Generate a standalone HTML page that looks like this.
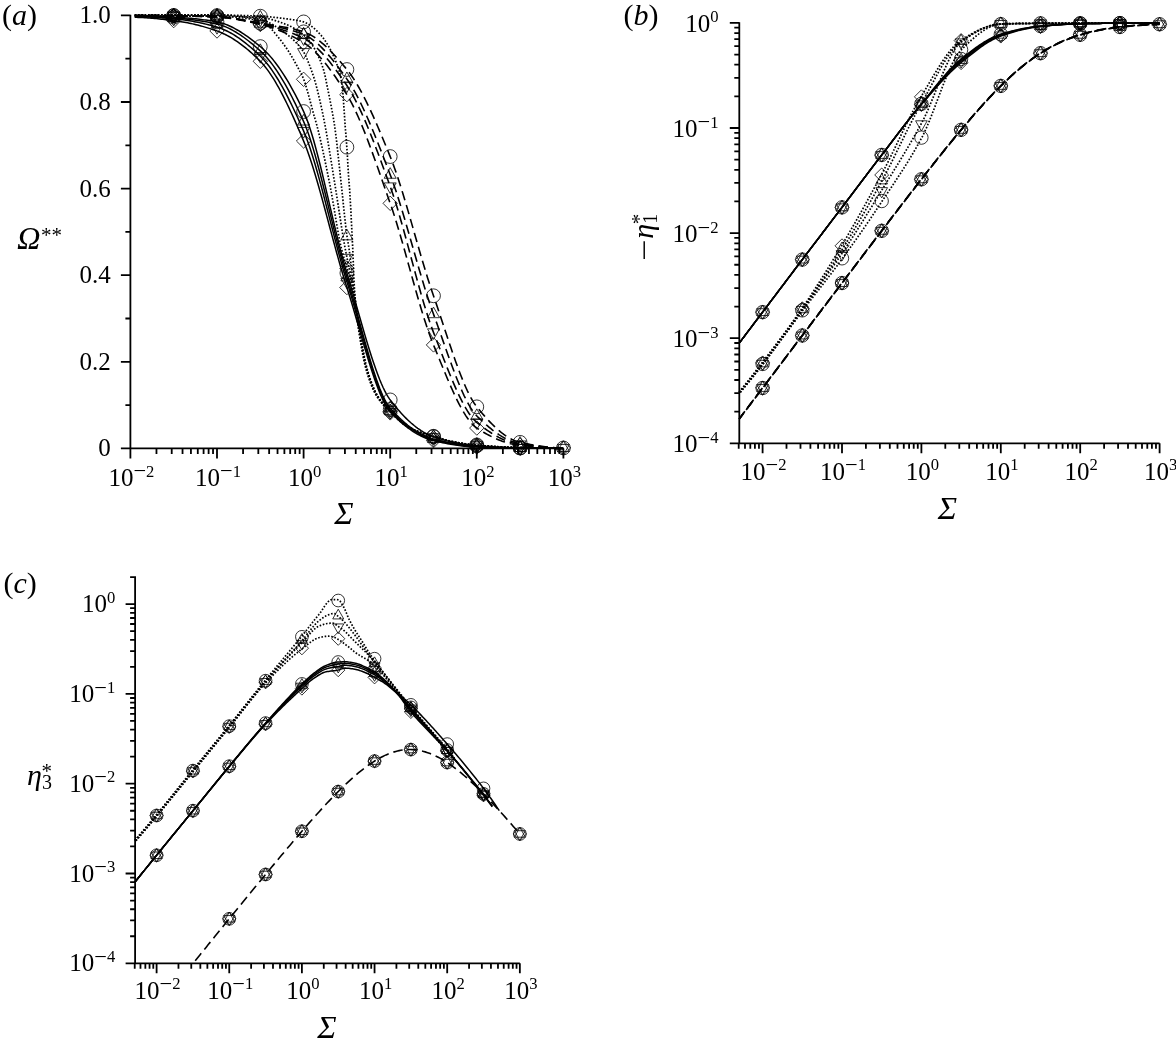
<!DOCTYPE html>
<html><head><meta charset="utf-8"><title>figure</title>
<style>html,body{margin:0;padding:0;background:#fff}svg{display:block}text{font-family:'Liberation Serif', 'DejaVu Serif', serif;fill:#000}</style>
</head><body>
<svg width="1176" height="1047" viewBox="0 0 1176 1047">
<rect width="1176" height="1047" fill="#fff"/>
<g id="pa">
<path d="M130.4 14.65 V448.4 M120.9 448.4 H563.4 M125.4 405.1 H130.4 M120.9 361.8 H130.4 M125.4 318.5 H130.4 M120.9 275.2 H130.4 M125.4 231.9 H130.4 M120.9 188.6 H130.4 M125.4 145.3 H130.4 M120.9 102 H130.4 M125.4 58.7 H130.4 M120.9 15.4 H130.4 M130.4 448.4 V458.4 M156.47 448.4 V453.9 M171.72 448.4 V453.9 M182.54 448.4 V453.9 M190.93 448.4 V453.9 M197.79 448.4 V453.9 M203.59 448.4 V453.9 M208.61 448.4 V453.9 M213.04 448.4 V453.9 M217 448.4 V458.4 M243.07 448.4 V453.9 M258.32 448.4 V453.9 M269.14 448.4 V453.9 M277.53 448.4 V453.9 M284.39 448.4 V453.9 M290.19 448.4 V453.9 M295.21 448.4 V453.9 M299.64 448.4 V453.9 M303.6 448.4 V458.4 M329.67 448.4 V453.9 M344.92 448.4 V453.9 M355.74 448.4 V453.9 M364.13 448.4 V453.9 M370.99 448.4 V453.9 M376.79 448.4 V453.9 M381.81 448.4 V453.9 M386.24 448.4 V453.9 M390.2 448.4 V458.4 M416.27 448.4 V453.9 M431.52 448.4 V453.9 M442.34 448.4 V453.9 M450.73 448.4 V453.9 M457.59 448.4 V453.9 M463.39 448.4 V453.9 M468.41 448.4 V453.9 M472.84 448.4 V453.9 M476.8 448.4 V458.4 M502.87 448.4 V453.9 M518.12 448.4 V453.9 M528.94 448.4 V453.9 M537.33 448.4 V453.9 M544.19 448.4 V453.9 M549.99 448.4 V453.9 M555.01 448.4 V453.9 M559.44 448.4 V453.9 M563.4 448.4 V458.4" stroke="#000" stroke-width="1.8" fill="none"/>
<text x="110.8" y="23.4" font-size="25" text-anchor="end">1.0</text>
<text x="110.8" y="110" font-size="25" text-anchor="end">0.8</text>
<text x="110.8" y="196.6" font-size="25" text-anchor="end">0.6</text>
<text x="110.8" y="283.2" font-size="25" text-anchor="end">0.4</text>
<text x="110.8" y="369.8" font-size="25" text-anchor="end">0.2</text>
<text x="110.8" y="456.4" font-size="25" text-anchor="end">0</text>
<text x="131.4" y="485.8" font-size="25" text-anchor="middle">10<tspan font-size="22.5" dy="-7.4">−</tspan><tspan font-size="16.6" dy="-1.9">2</tspan></text>
<text x="218" y="485.8" font-size="25" text-anchor="middle">10<tspan font-size="22.5" dy="-7.4">−</tspan><tspan font-size="16.6" dy="-1.9">1</tspan></text>
<text x="304.6" y="485.8" font-size="25" text-anchor="middle">10<tspan font-size="16.6" dy="-9.3">0</tspan></text>
<text x="391.2" y="485.8" font-size="25" text-anchor="middle">10<tspan font-size="16.6" dy="-9.3">1</tspan></text>
<text x="477.8" y="485.8" font-size="25" text-anchor="middle">10<tspan font-size="16.6" dy="-9.3">2</tspan></text>
<text x="564.4" y="485.8" font-size="25" text-anchor="middle">10<tspan font-size="16.6" dy="-9.3">3</tspan></text>
<text x="2" y="24.9" font-size="30">(<tspan font-style="italic">a</tspan>)</text>
<text x="17" y="248.7" font-size="32.5"><tspan font-style="italic">Ω</tspan><tspan font-size="21" dy="-6.5" dx="0.5">**</tspan></text>
<text x="344" y="524" font-size="32.5" font-style="italic" text-anchor="middle">Σ</text>
<path d="M134.73 15.75 L136.39 15.75 L138.04 15.76 L139.7 15.78 L141.35 15.8 L143.01 15.84 L144.66 15.87 L146.32 15.91 L147.97 15.96 L149.63 16.01 L151.28 16.07 L152.94 16.13 L154.59 16.2 L156.25 16.27 L157.9 16.34 L159.56 16.41 L161.21 16.49 L162.87 16.57 L164.52 16.65 L166.18 16.74 L167.83 16.82 L169.49 16.91 L171.14 17 L172.8 17.08 L174.45 17.17 L176.11 17.27 L177.76 17.36 L179.42 17.47 L181.07 17.58 L182.73 17.69 L184.38 17.82 L186.04 17.94 L187.69 18.08 L189.35 18.22 L191 18.37 L192.66 18.53 L194.31 18.7 L195.97 18.87 L197.62 19.05 L199.28 19.24 L200.93 19.44 L202.59 19.65 L204.24 19.87 L205.9 20.1 L207.55 20.33 L209.21 20.58 L210.86 20.84 L212.52 21.11 L214.17 21.39 L215.83 21.68 L217.48 21.99 L219.14 22.34 L220.8 22.76 L222.45 23.24 L224.11 23.78 L225.76 24.38 L227.42 25.03 L229.07 25.73 L230.73 26.49 L232.38 27.29 L234.04 28.15 L235.69 29.05 L237.35 29.99 L239 30.97 L240.66 32 L242.31 33.06 L243.97 34.16 L245.62 35.3 L247.28 36.47 L248.93 37.66 L250.59 38.89 L252.24 40.15 L253.9 41.42 L255.55 42.73 L257.21 44.05 L258.86 45.39 L260.52 46.76 L262.17 48.18 L263.83 49.69 L265.48 51.29 L267.14 52.98 L268.79 54.76 L270.45 56.62 L272.1 58.57 L273.76 60.61 L275.41 62.73 L277.07 64.94 L278.72 67.23 L280.38 69.61 L282.03 72.07 L283.69 74.61 L285.34 77.24 L287 79.94 L288.65 82.73 L290.31 85.6 L291.96 88.55 L293.62 91.58 L295.27 94.69 L296.93 97.88 L298.58 101.15 L300.24 104.49 L301.89 107.92 L303.55 111.42 L305.2 115.17 L306.86 119.35 L308.52 123.94 L310.17 128.89 L311.83 134.19 L313.48 139.8 L315.14 145.69 L316.79 151.84 L318.45 158.2 L320.1 164.77 L321.76 171.49 L323.41 178.35 L325.07 185.32 L326.72 192.36 L328.38 199.45 L330.03 206.55 L331.69 213.64 L333.34 220.69 L335 227.67 L336.65 234.54 L338.31 241.28 L339.96 247.86 L341.62 254.25 L343.27 260.42 L344.93 266.35 L346.58 271.99 L348.24 277.46 L349.89 283.03 L351.55 288.67 L353.2 294.39 L354.86 300.14 L356.51 305.93 L358.17 311.72 L359.82 317.5 L361.48 323.26 L363.13 328.96 L364.79 334.61 L366.44 340.17 L368.1 345.63 L369.75 350.97 L371.41 356.18 L373.06 361.22 L374.72 366.1 L376.37 370.78 L378.03 375.25 L379.68 379.49 L381.34 383.49 L382.99 387.22 L384.65 390.66 L386.3 393.8 L387.96 396.63 L389.61 399.11 L391.27 401.3 L392.93 403.42 L394.58 405.49 L396.24 407.5 L397.89 409.45 L399.55 411.35 L401.2 413.19 L402.86 414.97 L404.51 416.69 L406.17 418.36 L407.82 419.96 L409.48 421.51 L411.13 422.99 L412.79 424.41 L414.44 425.77 L416.1 427.07 L417.75 428.3 L419.41 429.47 L421.06 430.57 L422.72 431.61 L424.37 432.58 L426.03 433.48 L427.68 434.32 L429.34 435.09 L430.99 435.78 L432.65 436.41 L434.3 436.98 L435.96 437.52 L437.61 438.05 L439.27 438.56 L440.92 439.05 L442.58 439.53 L444.23 439.99 L445.89 440.44 L447.54 440.87 L449.2 441.28 L450.85 441.68 L452.51 442.06 L454.16 442.43 L455.82 442.78 L457.47 443.11 L459.13 443.43 L460.78 443.73 L462.44 444.02 L464.09 444.29 L465.75 444.54 L467.4 444.78 L469.06 445 L470.71 445.2 L472.37 445.38 L474.02 445.55 L475.68 445.71 L477.33 445.85 L478.99 445.98 L480.65 446.1 L482.3 446.23 L483.96 446.35 L485.61 446.46 L487.27 446.57 L488.92 446.68 L490.58 446.79 L492.23 446.89 L493.89 446.99 L495.54 447.08 L497.2 447.17 L498.85 447.25 L500.51 447.33 L502.16 447.41 L503.82 447.48 L505.47 447.55 L507.13 447.61 L508.78 447.67 L510.44 447.73 L512.09 447.78 L513.75 447.83 L515.4 447.87 L517.06 447.91 L518.71 447.94 L520.37 447.97 L522.02 448 L523.68 448.03 L525.33 448.05 L526.99 448.08 L528.64 448.1 L530.3 448.13 L531.95 448.15 L533.61 448.17 L535.26 448.2 L536.92 448.22 L538.57 448.24 L540.23 448.26 L541.88 448.28 L543.54 448.29 L545.19 448.31 L546.85 448.32 L548.5 448.34 L550.16 448.35 L551.81 448.36 L553.47 448.37 L555.12 448.38 L556.78 448.39 L558.43 448.39 L560.09 448.4 L561.74 448.4 L563.4 448.4" fill="none" stroke="#000" stroke-width="1.5"/>
<path d="M134.73 16.27 L136.39 16.27 L138.04 16.28 L139.7 16.31 L141.35 16.34 L143.01 16.37 L144.66 16.42 L146.32 16.47 L147.97 16.53 L149.63 16.6 L151.28 16.67 L152.94 16.74 L154.59 16.83 L156.25 16.91 L157.9 17 L159.56 17.1 L161.21 17.19 L162.87 17.29 L164.52 17.4 L166.18 17.5 L167.83 17.61 L169.49 17.72 L171.14 17.83 L172.8 17.94 L174.45 18.05 L176.11 18.17 L177.76 18.29 L179.42 18.43 L181.07 18.57 L182.73 18.72 L184.38 18.87 L186.04 19.04 L187.69 19.22 L189.35 19.4 L191 19.6 L192.66 19.8 L194.31 20.02 L195.97 20.24 L197.62 20.47 L199.28 20.72 L200.93 20.97 L202.59 21.24 L204.24 21.52 L205.9 21.81 L207.55 22.11 L209.21 22.42 L210.86 22.75 L212.52 23.08 L214.17 23.43 L215.83 23.8 L217.48 24.17 L219.14 24.6 L220.8 25.09 L222.45 25.64 L224.11 26.25 L225.76 26.92 L227.42 27.64 L229.07 28.41 L230.73 29.24 L232.38 30.11 L234.04 31.04 L235.69 32.01 L237.35 33.03 L239 34.09 L240.66 35.19 L242.31 36.33 L243.97 37.51 L245.62 38.73 L247.28 39.99 L248.93 41.28 L250.59 42.6 L252.24 43.95 L253.9 45.33 L255.55 46.73 L257.21 48.17 L258.86 49.62 L260.52 51.1 L262.17 52.66 L263.83 54.32 L265.48 56.08 L267.14 57.95 L268.79 59.91 L270.45 61.98 L272.1 64.14 L273.76 66.4 L275.41 68.75 L277.07 71.19 L278.72 73.72 L280.38 76.34 L282.03 79.05 L283.69 81.84 L285.34 84.72 L287 87.68 L288.65 90.72 L290.31 93.83 L291.96 97.03 L293.62 100.29 L295.27 103.63 L296.93 107.05 L298.58 110.53 L300.24 114.08 L301.89 117.69 L303.55 121.37 L305.2 125.26 L306.86 129.51 L308.52 134.1 L310.17 138.99 L311.83 144.18 L313.48 149.62 L315.14 155.31 L316.79 161.2 L318.45 167.29 L320.1 173.54 L321.76 179.94 L323.41 186.45 L325.07 193.05 L326.72 199.73 L328.38 206.44 L330.03 213.18 L331.69 219.91 L333.34 226.62 L335 233.27 L336.65 239.84 L338.31 246.32 L339.96 252.67 L341.62 258.86 L343.27 264.89 L344.93 270.71 L346.58 276.32 L348.24 281.81 L349.89 287.45 L351.55 293.21 L353.2 299.08 L354.86 305.03 L356.51 311.04 L358.17 317.08 L359.82 323.14 L361.48 329.18 L363.13 335.18 L364.79 341.13 L366.44 346.99 L368.1 352.75 L369.75 358.38 L371.41 363.86 L373.06 369.17 L374.72 374.27 L376.37 379.15 L378.03 383.79 L379.68 388.16 L381.34 392.24 L382.99 396 L384.65 399.42 L386.3 402.49 L387.96 405.16 L389.61 407.43 L391.27 409.35 L392.93 411.19 L394.58 412.97 L396.24 414.7 L397.89 416.37 L399.55 417.98 L401.2 419.54 L402.86 421.04 L404.51 422.49 L406.17 423.88 L407.82 425.22 L409.48 426.5 L411.13 427.73 L412.79 428.9 L414.44 430.01 L416.1 431.07 L417.75 432.07 L419.41 433.02 L421.06 433.92 L422.72 434.75 L424.37 435.54 L426.03 436.27 L427.68 436.94 L429.34 437.56 L430.99 438.12 L432.65 438.63 L434.3 439.09 L435.96 439.53 L437.61 439.96 L439.27 440.38 L440.92 440.78 L442.58 441.17 L444.23 441.54 L445.89 441.9 L447.54 442.25 L449.2 442.59 L450.85 442.91 L452.51 443.22 L454.16 443.52 L455.82 443.8 L457.47 444.07 L459.13 444.33 L460.78 444.57 L462.44 444.8 L464.09 445.02 L465.75 445.22 L467.4 445.41 L469.06 445.59 L470.71 445.75 L472.37 445.9 L474.02 446.04 L475.68 446.16 L477.33 446.27 L478.99 446.37 L480.65 446.48 L482.3 446.57 L483.96 446.67 L485.61 446.76 L487.27 446.85 L488.92 446.93 L490.58 447.02 L492.23 447.1 L493.89 447.17 L495.54 447.24 L497.2 447.31 L498.85 447.38 L500.51 447.44 L502.16 447.5 L503.82 447.56 L505.47 447.62 L507.13 447.67 L508.78 447.72 L510.44 447.76 L512.09 447.8 L513.75 447.84 L515.4 447.88 L517.06 447.91 L518.71 447.94 L520.37 447.97 L522.02 448 L523.68 448.02 L525.33 448.05 L526.99 448.07 L528.64 448.1 L530.3 448.12 L531.95 448.15 L533.61 448.17 L535.26 448.19 L536.92 448.21 L538.57 448.23 L540.23 448.25 L541.88 448.27 L543.54 448.29 L545.19 448.31 L546.85 448.32 L548.5 448.34 L550.16 448.35 L551.81 448.36 L553.47 448.37 L555.12 448.38 L556.78 448.39 L558.43 448.39 L560.09 448.4 L561.74 448.4 L563.4 448.4" fill="none" stroke="#000" stroke-width="1.5"/>
<path d="M134.73 16.7 L136.39 16.7 L138.04 16.72 L139.7 16.75 L141.35 16.79 L143.01 16.83 L144.66 16.89 L146.32 16.95 L147.97 17.03 L149.63 17.11 L151.28 17.19 L152.94 17.29 L154.59 17.39 L156.25 17.5 L157.9 17.61 L159.56 17.73 L161.21 17.85 L162.87 17.97 L164.52 18.1 L166.18 18.24 L167.83 18.37 L169.49 18.51 L171.14 18.65 L172.8 18.79 L174.45 18.93 L176.11 19.08 L177.76 19.25 L179.42 19.43 L181.07 19.62 L182.73 19.83 L184.38 20.05 L186.04 20.28 L187.69 20.53 L189.35 20.79 L191 21.06 L192.66 21.34 L194.31 21.64 L195.97 21.95 L197.62 22.28 L199.28 22.62 L200.93 22.97 L202.59 23.34 L204.24 23.72 L205.9 24.11 L207.55 24.52 L209.21 24.93 L210.86 25.37 L212.52 25.81 L214.17 26.27 L215.83 26.75 L217.48 27.24 L219.14 27.77 L220.8 28.36 L222.45 29.01 L224.11 29.71 L225.76 30.46 L227.42 31.26 L229.07 32.11 L230.73 33.01 L232.38 33.96 L234.04 34.96 L235.69 36 L237.35 37.08 L239 38.21 L240.66 39.38 L242.31 40.6 L243.97 41.85 L245.62 43.14 L247.28 44.47 L248.93 45.83 L250.59 47.23 L252.24 48.67 L253.9 50.13 L255.55 51.63 L257.21 53.16 L258.86 54.72 L260.52 56.31 L262.17 57.99 L263.83 59.78 L265.48 61.68 L267.14 63.7 L268.79 65.82 L270.45 68.05 L272.1 70.39 L273.76 72.83 L275.41 75.36 L277.07 77.99 L278.72 80.71 L280.38 83.52 L282.03 86.42 L283.69 89.41 L285.34 92.48 L287 95.62 L288.65 98.85 L290.31 102.15 L291.96 105.52 L293.62 108.96 L295.27 112.46 L296.93 116.03 L298.58 119.66 L300.24 123.35 L301.89 127.1 L303.55 130.9 L305.2 134.87 L306.86 139.16 L308.52 143.74 L310.17 148.59 L311.83 153.68 L313.48 159 L315.14 164.53 L316.79 170.24 L318.45 176.12 L320.1 182.14 L321.76 188.28 L323.41 194.52 L325.07 200.84 L326.72 207.22 L328.38 213.64 L330.03 220.07 L331.69 226.5 L333.34 232.9 L335 239.26 L336.65 245.54 L338.31 251.74 L339.96 257.83 L341.62 263.79 L343.27 269.6 L344.93 275.23 L346.58 280.67 L348.24 286.03 L349.89 291.53 L351.55 297.16 L353.2 302.89 L354.86 308.71 L356.51 314.6 L358.17 320.52 L359.82 326.45 L361.48 332.37 L363.13 338.26 L364.79 344.1 L366.44 349.86 L368.1 355.51 L369.75 361.05 L371.41 366.43 L373.06 371.64 L374.72 376.65 L376.37 381.45 L378.03 386.01 L379.68 390.3 L381.34 394.3 L382.99 397.99 L384.65 401.35 L386.3 404.35 L387.96 406.97 L389.61 409.18 L391.27 411.05 L392.93 412.84 L394.58 414.58 L396.24 416.26 L397.89 417.88 L399.55 419.46 L401.2 420.98 L402.86 422.44 L404.51 423.85 L406.17 425.21 L407.82 426.51 L409.48 427.76 L411.13 428.95 L412.79 430.09 L414.44 431.17 L416.1 432.2 L417.75 433.18 L419.41 434.1 L421.06 434.97 L422.72 435.78 L424.37 436.54 L426.03 437.24 L427.68 437.89 L429.34 438.49 L430.99 439.03 L432.65 439.51 L434.3 439.95 L435.96 440.37 L437.61 440.77 L439.27 441.17 L440.92 441.55 L442.58 441.92 L444.23 442.28 L445.89 442.63 L447.54 442.96 L449.2 443.29 L450.85 443.59 L452.51 443.89 L454.16 444.17 L455.82 444.44 L457.47 444.7 L459.13 444.94 L460.78 445.17 L462.44 445.39 L464.09 445.59 L465.75 445.78 L467.4 445.95 L469.06 446.11 L470.71 446.26 L472.37 446.39 L474.02 446.51 L475.68 446.61 L477.33 446.69 L478.99 446.78 L480.65 446.85 L482.3 446.93 L483.96 447 L485.61 447.07 L487.27 447.13 L488.92 447.2 L490.58 447.26 L492.23 447.32 L493.89 447.37 L495.54 447.42 L497.2 447.47 L498.85 447.52 L500.51 447.57 L502.16 447.61 L503.82 447.65 L505.47 447.69 L507.13 447.73 L508.78 447.76 L510.44 447.8 L512.09 447.83 L513.75 447.86 L515.4 447.89 L517.06 447.92 L518.71 447.95 L520.37 447.97 L522.02 448 L523.68 448.02 L525.33 448.05 L526.99 448.07 L528.64 448.09 L530.3 448.12 L531.95 448.14 L533.61 448.16 L535.26 448.19 L536.92 448.21 L538.57 448.23 L540.23 448.25 L541.88 448.27 L543.54 448.28 L545.19 448.3 L546.85 448.32 L548.5 448.33 L550.16 448.35 L551.81 448.36 L553.47 448.37 L555.12 448.38 L556.78 448.39 L558.43 448.39 L560.09 448.4 L561.74 448.4 L563.4 448.4" fill="none" stroke="#000" stroke-width="1.5"/>
<path d="M134.73 17.35 L136.39 17.37 L138.04 17.41 L139.7 17.46 L141.35 17.52 L143.01 17.6 L144.66 17.69 L146.32 17.79 L147.97 17.91 L149.63 18.03 L151.28 18.16 L152.94 18.3 L154.59 18.45 L156.25 18.61 L157.9 18.78 L159.56 18.95 L161.21 19.13 L162.87 19.31 L164.52 19.5 L166.18 19.69 L167.83 19.88 L169.49 20.08 L171.14 20.28 L172.8 20.49 L174.45 20.69 L176.11 20.91 L177.76 21.14 L179.42 21.39 L181.07 21.65 L182.73 21.92 L184.38 22.22 L186.04 22.52 L187.69 22.84 L189.35 23.18 L191 23.53 L192.66 23.89 L194.31 24.28 L195.97 24.67 L197.62 25.08 L199.28 25.51 L200.93 25.95 L202.59 26.4 L204.24 26.87 L205.9 27.35 L207.55 27.85 L209.21 28.37 L210.86 28.9 L212.52 29.44 L214.17 30 L215.83 30.57 L217.48 31.16 L219.14 31.79 L220.8 32.47 L222.45 33.19 L224.11 33.95 L225.76 34.77 L227.42 35.62 L229.07 36.52 L230.73 37.47 L232.38 38.46 L234.04 39.49 L235.69 40.56 L237.35 41.68 L239 42.84 L240.66 44.04 L242.31 45.28 L243.97 46.56 L245.62 47.88 L247.28 49.24 L248.93 50.64 L250.59 52.08 L252.24 53.56 L253.9 55.08 L255.55 56.63 L257.21 58.22 L258.86 59.85 L260.52 61.52 L262.17 63.29 L263.83 65.19 L265.48 67.22 L267.14 69.38 L268.79 71.66 L270.45 74.07 L272.1 76.58 L273.76 79.21 L275.41 81.95 L277.07 84.79 L278.72 87.72 L280.38 90.76 L282.03 93.88 L283.69 97.09 L285.34 100.38 L287 103.75 L288.65 107.19 L290.31 110.71 L291.96 114.29 L293.62 117.93 L295.27 121.63 L296.93 125.38 L298.58 129.18 L300.24 133.03 L301.89 136.92 L303.55 140.85 L305.2 144.93 L306.86 149.28 L308.52 153.88 L310.17 158.72 L311.83 163.77 L313.48 169.01 L315.14 174.44 L316.79 180.02 L318.45 185.75 L320.1 191.59 L321.76 197.54 L323.41 203.58 L325.07 209.68 L326.72 215.83 L328.38 222.01 L330.03 228.2 L331.69 234.38 L333.34 240.53 L335 246.64 L336.65 252.68 L338.31 258.64 L339.96 264.5 L341.62 270.24 L343.27 275.84 L344.93 281.28 L346.58 286.55 L348.24 291.74 L349.89 297.07 L351.55 302.53 L353.2 308.09 L354.86 313.73 L356.51 319.42 L358.17 325.15 L359.82 330.89 L361.48 336.63 L363.13 342.33 L364.79 347.98 L366.44 353.54 L368.1 359.01 L369.75 364.36 L371.41 369.57 L373.06 374.61 L374.72 379.46 L376.37 384.1 L378.03 388.5 L379.68 392.65 L381.34 396.52 L382.99 400.1 L384.65 403.35 L386.3 406.25 L387.96 408.79 L389.61 410.93 L391.27 412.75 L392.93 414.48 L394.58 416.17 L396.24 417.81 L397.89 419.39 L399.55 420.92 L401.2 422.4 L402.86 423.82 L404.51 425.2 L406.17 426.52 L407.82 427.79 L409.48 429 L411.13 430.16 L412.79 431.27 L414.44 432.33 L416.1 433.33 L417.75 434.28 L419.41 435.18 L421.06 436.02 L422.72 436.8 L424.37 437.54 L426.03 438.22 L427.68 438.84 L429.34 439.41 L430.99 439.93 L432.65 440.39 L434.3 440.8 L435.96 441.2 L437.61 441.58 L439.27 441.96 L440.92 442.33 L442.58 442.68 L444.23 443.02 L445.89 443.36 L447.54 443.68 L449.2 443.98 L450.85 444.28 L452.51 444.56 L454.16 444.83 L455.82 445.09 L457.47 445.34 L459.13 445.57 L460.78 445.78 L462.44 445.99 L464.09 446.17 L465.75 446.35 L467.4 446.5 L469.06 446.65 L470.71 446.77 L472.37 446.88 L474.02 446.98 L475.68 447.06 L477.33 447.12 L478.99 447.18 L480.65 447.23 L482.3 447.28 L483.96 447.33 L485.61 447.37 L487.27 447.42 L488.92 447.46 L490.58 447.49 L492.23 447.53 L493.89 447.57 L495.54 447.6 L497.2 447.63 L498.85 447.66 L500.51 447.69 L502.16 447.72 L503.82 447.74 L505.47 447.77 L507.13 447.79 L508.78 447.82 L510.44 447.84 L512.09 447.86 L513.75 447.88 L515.4 447.9 L517.06 447.93 L518.71 447.95 L520.37 447.97 L522.02 447.99 L523.68 448.01 L525.33 448.04 L526.99 448.06 L528.64 448.08 L530.3 448.1 L531.95 448.12 L533.61 448.14 L535.26 448.16 L536.92 448.18 L538.57 448.19 L540.23 448.21 L541.88 448.23 L543.54 448.25 L545.19 448.26 L546.85 448.28 L548.5 448.29 L550.16 448.31 L551.81 448.32 L553.47 448.34 L555.12 448.35 L556.78 448.36 L558.43 448.37 L560.09 448.38 L561.74 448.39 L563.4 448.4" fill="none" stroke="#000" stroke-width="1.5"/>
<path d="M134.7 14.9 L135.77 14.9 L136.85 14.9 L137.92 14.9 L139 14.9 L140.07 14.9 L141.15 14.9 L142.22 14.9 L143.3 14.9 L144.37 14.9 L145.44 14.9 L146.52 14.9 L147.59 14.9 L148.67 14.9 L149.74 14.9 L150.82 14.9 L151.89 14.9 L152.97 14.9 L154.04 14.9 L155.11 14.9 L156.19 14.9 L157.26 14.9 L158.34 14.9 L159.41 14.9 L160.49 14.9 L161.56 14.9 L162.64 14.9 L163.71 14.9 L164.78 14.9 L165.86 14.9 L166.93 14.9 L168.01 14.9 L169.08 14.9 L170.16 14.9 L171.23 14.9 L172.31 14.9 L173.38 14.9 L174.45 14.9 L175.53 14.9 L176.6 14.9 L177.68 14.9 L178.75 14.9 L179.83 14.9 L180.9 14.9 L181.98 14.9 L183.05 14.91 L184.12 14.91 L185.2 14.91 L186.27 14.91 L187.35 14.91 L188.42 14.91 L189.5 14.91 L190.57 14.92 L191.65 14.92 L192.72 14.92 L193.79 14.92 L194.87 14.93 L195.94 14.93 L197.02 14.93 L198.09 14.93 L199.17 14.94 L200.24 14.94 L201.32 14.94 L202.39 14.95 L203.46 14.95 L204.54 14.95 L205.61 14.96 L206.69 14.96 L207.76 14.96 L208.84 14.97 L209.91 14.97 L210.98 14.98 L212.06 14.98 L213.13 14.98 L214.21 14.99 L215.28 14.99 L216.36 15 L217.43 15 L218.51 15.01 L219.58 15.02 L220.65 15.02 L221.73 15.03 L222.8 15.05 L223.88 15.06 L224.95 15.07 L226.03 15.09 L227.1 15.11 L228.18 15.13 L229.25 15.15 L230.32 15.17 L231.4 15.19 L232.47 15.22 L233.55 15.24 L234.62 15.27 L235.7 15.29 L236.77 15.32 L237.85 15.35 L238.92 15.38 L239.99 15.42 L241.07 15.45 L242.14 15.48 L243.22 15.52 L244.29 15.56 L245.37 15.59 L246.44 15.63 L247.52 15.67 L248.59 15.71 L249.66 15.75 L250.74 15.79 L251.81 15.84 L252.89 15.88 L253.96 15.92 L255.04 15.97 L256.11 16.01 L257.19 16.06 L258.26 16.11 L259.33 16.16 L260.41 16.21 L261.48 16.26 L262.56 16.32 L263.63 16.38 L264.71 16.46 L265.78 16.53 L266.86 16.62 L267.93 16.71 L269 16.8 L270.08 16.9 L271.15 17.01 L272.23 17.11 L273.3 17.23 L274.38 17.34 L275.45 17.46 L276.53 17.59 L277.6 17.71 L278.67 17.84 L279.75 17.98 L280.82 18.11 L281.9 18.25 L282.97 18.39 L284.05 18.53 L285.12 18.67 L286.2 18.82 L287.27 18.96 L288.34 19.11 L289.42 19.25 L290.49 19.39 L291.57 19.54 L292.64 19.69 L293.72 19.84 L294.79 20.01 L295.87 20.18 L296.94 20.36 L298.01 20.56 L299.09 20.77 L300.16 21 L301.24 21.25 L302.31 21.52 L303.39 21.81 L304.46 22.15 L305.54 22.6 L306.61 23.14 L307.68 23.76 L308.76 24.44 L309.83 25.16 L310.91 25.9 L311.98 26.66 L313.06 27.48 L314.13 28.35 L315.21 29.29 L316.28 30.28 L317.35 31.32 L318.43 32.41 L319.5 33.56 L320.58 34.75 L321.65 36 L322.73 37.33 L323.8 38.77 L324.88 40.31 L325.95 41.94 L327.02 43.65 L328.1 45.45 L329.17 47.33 L330.25 49.3 L331.32 51.37 L332.4 53.57 L333.47 55.9 L334.55 58.38 L335.62 61 L336.69 63.78 L337.77 66.64 L338.84 69.75 L339.92 73.54 L340.99 78.55 L342.07 86.09 L343.14 96.13 L344.22 111.83 L345.29 127.69 L346.36 140.06 L347.44 156.76 L348.51 175.57 L349.59 189.1 L350.66 206.88 L351.74 228.49 L352.81 250.09 L353.88 278.95 L354.96 296.33 L356.03 306.44 L357.11 314.14 L358.18 320.51 L359.26 326.61 L360.33 333.27 L361.41 339.94 L362.48 346.41 L363.55 352.53 L364.63 358.18 L365.7 363.21 L366.78 367.48 L367.85 371.28 L368.93 374.84 L370 378.18 L371.08 381.29 L372.15 384.19 L373.22 386.86 L374.3 389.32 L375.37 391.57 L376.45 393.61 L377.52 395.45 L378.6 397.16 L379.67 398.76 L380.75 400.26 L381.82 401.67 L382.89 403 L383.97 404.26 L385.04 405.47 L386.12 406.63 L387.19 407.75 L388.27 408.85 L389.34 409.94 L390.42 411.02 L391.49 412.1 L392.56 413.17 L393.64 414.23 L394.71 415.28 L395.79 416.32 L396.86 417.34 L397.94 418.34 L399.01 419.32 L400.09 420.28 L401.16 421.22 L402.23 422.12 L403.31 423 L404.38 423.84 L405.46 424.65 L406.53 425.43 L407.61 426.16 L408.68 426.85 L409.76 427.5 L410.83 428.1 L411.9 428.65 L412.98 429.18 L414.05 429.68 L415.13 430.16 L416.2 430.62 L417.28 431.06 L418.35 431.48 L419.43 431.89 L420.5 432.29 L421.57 432.67 L422.65 433.04 L423.72 433.4 L424.8 433.75 L425.87 434.09 L426.95 434.43 L428.02 434.76 L429.1 435.09 L430.17 435.42 L431.24 435.74 L432.32 436.07 L433.39 436.4 L434.47 436.73 L435.54 437.06 L436.62 437.38 L437.69 437.71 L438.77 438.03 L439.84 438.34 L440.91 438.65 L441.99 438.96 L443.06 439.26 L444.14 439.55 L445.21 439.84 L446.29 440.11 L447.36 440.38 L448.44 440.64 L449.51 440.89 L450.58 441.13 L451.66 441.35 L452.73 441.57 L453.81 441.77 L454.88 441.98 L455.96 442.19 L457.03 442.39 L458.11 442.59 L459.18 442.78 L460.25 442.97 L461.33 443.16 L462.4 443.34 L463.48 443.52 L464.55 443.69 L465.63 443.86 L466.7 444.02 L467.78 444.17 L468.85 444.32 L469.92 444.47 L471 444.6 L472.07 444.73 L473.15 444.85 L474.22 444.97 L475.3 445.07 L476.37 445.17 L477.45 445.26 L478.52 445.35 L479.59 445.44 L480.67 445.53 L481.74 445.61 L482.82 445.7 L483.89 445.78 L484.97 445.86 L486.04 445.94 L487.12 446.02 L488.19 446.09 L489.26 446.17 L490.34 446.24 L491.41 446.31 L492.49 446.39 L493.56 446.45 L494.64 446.52 L495.71 446.59 L496.78 446.65 L497.86 446.71 L498.93 446.77 L500.01 446.83 L501.08 446.89 L502.16 446.94 L503.23 447 L504.31 447.05 L505.38 447.1 L506.45 447.15 L507.53 447.19 L508.6 447.24 L509.68 447.28 L510.75 447.32 L511.83 447.36 L512.9 447.4 L513.98 447.44 L515.05 447.47 L516.12 447.5 L517.2 447.53 L518.27 447.56 L519.35 447.59 L520.42 447.61 L521.5 447.63 L522.57 447.66 L523.65 447.68 L524.72 447.7 L525.79 447.73 L526.87 447.75 L527.94 447.77 L529.02 447.79 L530.09 447.81 L531.17 447.84 L532.24 447.86 L533.32 447.88 L534.39 447.9 L535.46 447.92 L536.54 447.94 L537.61 447.95 L538.69 447.97 L539.76 447.99 L540.84 448.01 L541.91 448.02 L542.99 448.04 L544.06 448.05 L545.13 448.07 L546.21 448.08 L547.28 448.1 L548.36 448.11 L549.43 448.12 L550.51 448.13 L551.58 448.14 L552.66 448.15 L553.73 448.16 L554.8 448.17 L555.88 448.18 L556.95 448.18 L558.03 448.19 L559.1 448.19 L560.18 448.2 L561.25 448.2 L562.33 448.2 L563.4 448.2" fill="none" stroke="#000" stroke-width="1.7" stroke-dasharray="1.6 1.7" stroke-dashoffset="0"/>
<path d="M134.7 16.1 L135.77 16.1 L136.85 16.1 L137.92 16.1 L138.99 16.1 L140.07 16.1 L141.14 16.1 L142.21 16.1 L143.29 16.1 L144.36 16.1 L145.43 16.1 L146.51 16.1 L147.58 16.1 L148.65 16.1 L149.73 16.1 L150.8 16.1 L151.87 16.1 L152.95 16.1 L154.02 16.1 L155.1 16.1 L156.17 16.1 L157.24 16.1 L158.32 16.1 L159.39 16.1 L160.46 16.1 L161.54 16.1 L162.61 16.1 L163.68 16.1 L164.76 16.1 L165.83 16.1 L166.9 16.1 L167.98 16.1 L169.05 16.1 L170.12 16.1 L171.2 16.1 L172.27 16.1 L173.34 16.1 L174.42 16.1 L175.49 16.1 L176.56 16.1 L177.64 16.1 L178.71 16.1 L179.78 16.1 L180.86 16.1 L181.93 16.1 L183 16.11 L184.08 16.11 L185.15 16.11 L186.22 16.11 L187.3 16.11 L188.37 16.11 L189.45 16.11 L190.52 16.12 L191.59 16.12 L192.67 16.12 L193.74 16.12 L194.81 16.13 L195.89 16.13 L196.96 16.13 L198.03 16.13 L199.11 16.14 L200.18 16.14 L201.25 16.14 L202.33 16.15 L203.4 16.15 L204.47 16.15 L205.55 16.16 L206.62 16.16 L207.69 16.16 L208.77 16.17 L209.84 16.17 L210.91 16.18 L211.99 16.18 L213.06 16.18 L214.13 16.19 L215.21 16.19 L216.28 16.2 L217.35 16.2 L218.43 16.21 L219.5 16.21 L220.57 16.22 L221.65 16.23 L222.72 16.24 L223.79 16.25 L224.87 16.27 L225.94 16.28 L227.02 16.3 L228.09 16.32 L229.16 16.33 L230.24 16.35 L231.31 16.38 L232.38 16.4 L233.46 16.42 L234.53 16.45 L235.6 16.47 L236.68 16.5 L237.75 16.53 L238.82 16.56 L239.9 16.6 L240.97 16.63 L242.04 16.67 L243.12 16.7 L244.19 16.74 L245.26 16.78 L246.34 16.82 L247.41 16.87 L248.48 16.91 L249.56 16.96 L250.63 17 L251.7 17.05 L252.78 17.1 L253.85 17.15 L254.92 17.21 L256 17.26 L257.07 17.32 L258.14 17.38 L259.22 17.44 L260.29 17.5 L261.37 17.58 L262.44 17.68 L263.51 17.81 L264.59 17.96 L265.66 18.14 L266.73 18.34 L267.81 18.56 L268.88 18.8 L269.95 19.06 L271.03 19.34 L272.1 19.63 L273.17 19.94 L274.25 20.27 L275.32 20.6 L276.39 20.95 L277.47 21.3 L278.54 21.67 L279.61 22.05 L280.69 22.43 L281.76 22.81 L282.83 23.2 L283.91 23.6 L284.98 23.99 L286.05 24.4 L287.13 24.83 L288.2 25.29 L289.27 25.78 L290.35 26.29 L291.42 26.83 L292.49 27.39 L293.57 27.98 L294.64 28.6 L295.72 29.24 L296.79 29.91 L297.86 30.61 L298.94 31.34 L300.01 32.09 L301.08 32.87 L302.16 33.68 L303.23 34.52 L304.3 35.4 L305.38 36.39 L306.45 37.49 L307.52 38.68 L308.6 39.97 L309.67 41.33 L310.74 42.77 L311.82 44.28 L312.89 45.92 L313.96 47.69 L315.04 49.58 L316.11 51.6 L317.18 53.74 L318.26 55.99 L319.33 58.37 L320.4 60.89 L321.48 63.65 L322.55 66.7 L323.62 70.11 L324.7 74.11 L325.77 79.07 L326.84 84.5 L327.92 89.87 L328.99 95.11 L330.06 100.44 L331.14 105.95 L332.21 111.66 L333.29 117.52 L334.36 124.06 L335.43 131.76 L336.51 140.54 L337.58 150.09 L338.65 160.08 L339.73 170.22 L340.8 180.19 L341.87 189.96 L342.95 200.27 L344.02 210.71 L345.09 220.8 L346.17 230.03 L347.24 237.89 L348.31 244 L349.39 251.05 L350.46 259.59 L351.53 268.91 L352.61 278.45 L353.68 287.63 L354.75 296.12 L355.83 304.49 L356.9 312.65 L357.97 320.44 L359.05 327.69 L360.12 334.45 L361.19 341.1 L362.27 347.51 L363.34 353.55 L364.41 359.09 L365.49 364 L366.56 368.15 L367.64 371.9 L368.71 375.42 L369.78 378.72 L370.86 381.79 L371.93 384.65 L373 387.29 L374.08 389.71 L375.15 391.92 L376.22 393.92 L377.3 395.73 L378.37 397.42 L379.44 399 L380.52 400.49 L381.59 401.88 L382.66 403.2 L383.74 404.45 L384.81 405.65 L385.88 406.8 L386.96 407.92 L388.03 409.02 L389.1 410.1 L390.18 411.18 L391.25 412.26 L392.32 413.33 L393.4 414.39 L394.47 415.43 L395.54 416.47 L396.62 417.49 L397.69 418.48 L398.76 419.46 L399.84 420.42 L400.91 421.35 L401.98 422.25 L403.06 423.12 L404.13 423.96 L405.21 424.76 L406.28 425.53 L407.35 426.25 L408.43 426.94 L409.5 427.58 L410.57 428.17 L411.65 428.72 L412.72 429.24 L413.79 429.74 L414.87 430.22 L415.94 430.67 L417.01 431.11 L418.09 431.54 L419.16 431.94 L420.23 432.33 L421.31 432.71 L422.38 433.08 L423.45 433.44 L424.53 433.79 L425.6 434.13 L426.67 434.47 L427.75 434.8 L428.82 435.13 L429.89 435.45 L430.97 435.78 L432.04 436.11 L433.11 436.44 L434.19 436.76 L435.26 437.09 L436.33 437.42 L437.41 437.74 L438.48 438.06 L439.56 438.38 L440.63 438.69 L441.7 438.99 L442.78 439.29 L443.85 439.58 L444.92 439.86 L446 440.14 L447.07 440.41 L448.14 440.67 L449.22 440.91 L450.29 441.15 L451.36 441.37 L452.44 441.59 L453.51 441.79 L454.58 442 L455.66 442.21 L456.73 442.41 L457.8 442.6 L458.88 442.8 L459.95 442.99 L461.02 443.17 L462.1 443.36 L463.17 443.53 L464.24 443.7 L465.32 443.87 L466.39 444.03 L467.46 444.19 L468.54 444.33 L469.61 444.48 L470.68 444.61 L471.76 444.74 L472.83 444.86 L473.91 444.98 L474.98 445.08 L476.05 445.18 L477.13 445.27 L478.2 445.36 L479.27 445.45 L480.35 445.53 L481.42 445.62 L482.49 445.7 L483.57 445.79 L484.64 445.87 L485.71 445.95 L486.79 446.02 L487.86 446.1 L488.93 446.17 L490.01 446.25 L491.08 446.32 L492.15 446.39 L493.23 446.46 L494.3 446.52 L495.37 446.59 L496.45 446.65 L497.52 446.72 L498.59 446.78 L499.67 446.83 L500.74 446.89 L501.81 446.95 L502.89 447 L503.96 447.05 L505.03 447.1 L506.11 447.15 L507.18 447.2 L508.25 447.24 L509.33 447.28 L510.4 447.33 L511.48 447.36 L512.55 447.4 L513.62 447.44 L514.7 447.47 L515.77 447.5 L516.84 447.53 L517.92 447.56 L518.99 447.59 L520.06 447.61 L521.14 447.63 L522.21 447.66 L523.28 447.68 L524.36 447.7 L525.43 447.73 L526.5 447.75 L527.58 447.77 L528.65 447.79 L529.72 447.81 L530.8 447.84 L531.87 447.86 L532.94 447.88 L534.02 447.9 L535.09 447.92 L536.16 447.94 L537.24 447.95 L538.31 447.97 L539.38 447.99 L540.46 448.01 L541.53 448.02 L542.6 448.04 L543.68 448.05 L544.75 448.07 L545.83 448.08 L546.9 448.1 L547.97 448.11 L549.05 448.12 L550.12 448.13 L551.19 448.14 L552.27 448.15 L553.34 448.16 L554.41 448.17 L555.49 448.18 L556.56 448.18 L557.63 448.19 L558.71 448.19 L559.78 448.2 L560.85 448.2 L561.93 448.2 L563 448.2" fill="none" stroke="#000" stroke-width="1.7" stroke-dasharray="1.6 1.7" stroke-dashoffset="1.65"/>
<path d="M134.7 14.9 L135.77 14.9 L136.84 14.9 L137.92 14.9 L138.99 14.9 L140.06 14.9 L141.13 14.9 L142.21 14.9 L143.28 14.9 L144.35 14.9 L145.42 14.9 L146.5 14.9 L147.57 14.9 L148.64 14.9 L149.71 14.9 L150.79 14.9 L151.86 14.9 L152.93 14.9 L154 14.9 L155.08 14.9 L156.15 14.9 L157.22 14.9 L158.29 14.9 L159.37 14.9 L160.44 14.9 L161.51 14.9 L162.58 14.9 L163.66 14.9 L164.73 14.9 L165.8 14.9 L166.87 14.9 L167.95 14.9 L169.02 14.9 L170.09 14.9 L171.16 14.9 L172.24 14.9 L173.31 14.9 L174.38 14.9 L175.45 14.9 L176.52 14.9 L177.6 14.9 L178.67 14.9 L179.74 14.9 L180.81 14.9 L181.89 14.9 L182.96 14.9 L184.03 14.91 L185.1 14.91 L186.18 14.91 L187.25 14.91 L188.32 14.91 L189.39 14.91 L190.47 14.92 L191.54 14.92 L192.61 14.92 L193.68 14.92 L194.76 14.92 L195.83 14.93 L196.9 14.93 L197.97 14.93 L199.05 14.93 L200.12 14.94 L201.19 14.94 L202.26 14.94 L203.34 14.95 L204.41 14.95 L205.48 14.95 L206.55 14.96 L207.63 14.96 L208.7 14.97 L209.77 14.97 L210.84 14.97 L211.92 14.98 L212.99 14.98 L214.06 14.99 L215.13 14.99 L216.2 15 L217.28 15 L218.35 15.01 L219.42 15.03 L220.49 15.05 L221.57 15.08 L222.64 15.11 L223.71 15.15 L224.78 15.19 L225.86 15.24 L226.93 15.3 L228 15.36 L229.07 15.43 L230.15 15.5 L231.22 15.58 L232.29 15.67 L233.36 15.75 L234.44 15.85 L235.51 15.95 L236.58 16.05 L237.65 16.16 L238.73 16.27 L239.8 16.39 L240.87 16.52 L241.94 16.65 L243.02 16.78 L244.09 16.92 L245.16 17.06 L246.23 17.2 L247.31 17.35 L248.38 17.51 L249.45 17.67 L250.52 17.83 L251.59 18 L252.67 18.17 L253.74 18.35 L254.81 18.53 L255.88 18.71 L256.96 18.89 L258.03 19.09 L259.1 19.28 L260.17 19.48 L261.25 19.7 L262.32 19.96 L263.39 20.28 L264.46 20.64 L265.54 21.04 L266.61 21.48 L267.68 21.96 L268.75 22.47 L269.83 23.01 L270.9 23.59 L271.97 24.2 L273.04 24.83 L274.12 25.49 L275.19 26.16 L276.26 26.86 L277.33 27.58 L278.41 28.31 L279.48 29.05 L280.55 29.81 L281.62 30.57 L282.7 31.34 L283.77 32.11 L284.84 32.88 L285.91 33.66 L286.99 34.46 L288.06 35.28 L289.13 36.12 L290.2 36.99 L291.27 37.9 L292.35 38.84 L293.42 39.82 L294.49 40.85 L295.56 41.92 L296.64 43.05 L297.71 44.24 L298.78 45.49 L299.85 46.8 L300.93 48.18 L302 49.63 L303.07 51.17 L304.14 52.81 L305.22 54.82 L306.29 57.16 L307.36 59.75 L308.43 62.48 L309.51 65.28 L310.58 68.08 L311.65 71 L312.72 74.08 L313.8 77.35 L314.87 80.82 L315.94 84.56 L317.01 88.64 L318.09 92.97 L319.16 97.49 L320.23 102.13 L321.3 106.92 L322.38 111.9 L323.45 117.11 L324.52 122.54 L325.59 128.24 L326.67 134.21 L327.74 140.41 L328.81 146.79 L329.88 153.32 L330.95 159.94 L332.03 166.62 L333.1 173.3 L334.17 179.94 L335.24 186.54 L336.32 193.27 L337.39 200.15 L338.46 207.1 L339.53 214.08 L340.61 221 L341.68 227.82 L342.75 234.47 L343.82 240.9 L344.9 247.03 L345.97 252.71 L347.04 258.11 L348.11 263.34 L349.19 268.33 L350.26 273.27 L351.33 278.35 L352.4 283.76 L353.48 289.68 L354.55 296.54 L355.62 304.56 L356.69 313.08 L357.77 321.42 L358.84 328.91 L359.91 335.64 L360.98 342.24 L362.06 348.59 L363.13 354.55 L364.2 359.99 L365.27 364.77 L366.35 368.81 L367.42 372.51 L368.49 375.99 L369.56 379.25 L370.63 382.28 L371.71 385.1 L372.78 387.7 L373.85 390.09 L374.92 392.26 L376 394.22 L377.07 396.01 L378.14 397.68 L379.21 399.25 L380.29 400.71 L381.36 402.1 L382.43 403.4 L383.5 404.64 L384.58 405.83 L385.65 406.98 L386.72 408.09 L387.79 409.18 L388.87 410.26 L389.94 411.34 L391.01 412.42 L392.08 413.48 L393.16 414.54 L394.23 415.59 L395.3 416.62 L396.37 417.63 L397.45 418.63 L398.52 419.6 L399.59 420.55 L400.66 421.48 L401.74 422.37 L402.81 423.24 L403.88 424.07 L404.95 424.87 L406.03 425.63 L407.1 426.35 L408.17 427.03 L409.24 427.66 L410.31 428.25 L411.39 428.79 L412.46 429.31 L413.53 429.8 L414.6 430.28 L415.68 430.73 L416.75 431.17 L417.82 431.59 L418.89 431.99 L419.97 432.38 L421.04 432.76 L422.11 433.13 L423.18 433.48 L424.26 433.83 L425.33 434.17 L426.4 434.51 L427.47 434.84 L428.55 435.17 L429.62 435.49 L430.69 435.82 L431.76 436.14 L432.84 436.47 L433.91 436.8 L434.98 437.13 L436.05 437.45 L437.13 437.78 L438.2 438.09 L439.27 438.41 L440.34 438.72 L441.42 439.02 L442.49 439.32 L443.56 439.61 L444.63 439.89 L445.71 440.17 L446.78 440.43 L447.85 440.69 L448.92 440.94 L449.99 441.17 L451.07 441.39 L452.14 441.61 L453.21 441.81 L454.28 442.02 L455.36 442.22 L456.43 442.42 L457.5 442.62 L458.57 442.81 L459.65 443 L460.72 443.19 L461.79 443.37 L462.86 443.55 L463.94 443.72 L465.01 443.88 L466.08 444.04 L467.15 444.2 L468.23 444.35 L469.3 444.49 L470.37 444.62 L471.44 444.75 L472.52 444.87 L473.59 444.98 L474.66 445.09 L475.73 445.19 L476.81 445.28 L477.88 445.37 L478.95 445.45 L480.02 445.54 L481.1 445.63 L482.17 445.71 L483.24 445.79 L484.31 445.87 L485.38 445.95 L486.46 446.03 L487.53 446.1 L488.6 446.18 L489.67 446.25 L490.75 446.32 L491.82 446.39 L492.89 446.46 L493.96 446.53 L495.04 446.59 L496.11 446.66 L497.18 446.72 L498.25 446.78 L499.33 446.84 L500.4 446.89 L501.47 446.95 L502.54 447 L503.62 447.05 L504.69 447.1 L505.76 447.15 L506.83 447.2 L507.91 447.24 L508.98 447.29 L510.05 447.33 L511.12 447.37 L512.2 447.4 L513.27 447.44 L514.34 447.47 L515.41 447.5 L516.49 447.53 L517.56 447.56 L518.63 447.59 L519.7 447.61 L520.78 447.63 L521.85 447.66 L522.92 447.68 L523.99 447.7 L525.06 447.73 L526.14 447.75 L527.21 447.77 L528.28 447.79 L529.35 447.82 L530.43 447.84 L531.5 447.86 L532.57 447.88 L533.64 447.9 L534.72 447.92 L535.79 447.94 L536.86 447.95 L537.93 447.97 L539.01 447.99 L540.08 448.01 L541.15 448.02 L542.22 448.04 L543.3 448.06 L544.37 448.07 L545.44 448.08 L546.51 448.1 L547.59 448.11 L548.66 448.12 L549.73 448.13 L550.8 448.14 L551.88 448.15 L552.95 448.16 L554.02 448.17 L555.09 448.18 L556.17 448.18 L557.24 448.19 L558.31 448.19 L559.38 448.2 L560.46 448.2 L561.53 448.2 L562.6 448.2" fill="none" stroke="#000" stroke-width="1.7" stroke-dasharray="1.6 1.7" stroke-dashoffset="0"/>
<path d="M134.7 16.1 L135.77 16.1 L136.84 16.1 L137.91 16.1 L138.99 16.1 L140.06 16.1 L141.13 16.1 L142.2 16.1 L143.27 16.1 L144.34 16.1 L145.41 16.1 L146.49 16.1 L147.56 16.1 L148.63 16.1 L149.7 16.1 L150.77 16.1 L151.84 16.1 L152.91 16.1 L153.99 16.1 L155.06 16.1 L156.13 16.1 L157.2 16.1 L158.27 16.1 L159.34 16.1 L160.41 16.1 L161.49 16.1 L162.56 16.1 L163.63 16.1 L164.7 16.1 L165.77 16.1 L166.84 16.1 L167.91 16.1 L168.99 16.1 L170.06 16.1 L171.13 16.1 L172.2 16.1 L173.27 16.1 L174.34 16.1 L175.41 16.1 L176.49 16.1 L177.56 16.1 L178.63 16.1 L179.7 16.1 L180.77 16.1 L181.84 16.1 L182.91 16.1 L183.99 16.11 L185.06 16.11 L186.13 16.11 L187.2 16.11 L188.27 16.11 L189.34 16.11 L190.41 16.11 L191.49 16.12 L192.56 16.12 L193.63 16.12 L194.7 16.12 L195.77 16.13 L196.84 16.13 L197.91 16.13 L198.99 16.13 L200.06 16.14 L201.13 16.14 L202.2 16.14 L203.27 16.15 L204.34 16.15 L205.41 16.15 L206.49 16.16 L207.56 16.16 L208.63 16.16 L209.7 16.17 L210.77 16.17 L211.84 16.18 L212.91 16.18 L213.99 16.19 L215.06 16.19 L216.13 16.2 L217.2 16.2 L218.27 16.21 L219.34 16.23 L220.41 16.25 L221.49 16.28 L222.56 16.31 L223.63 16.36 L224.7 16.4 L225.77 16.46 L226.84 16.52 L227.91 16.58 L228.99 16.65 L230.06 16.73 L231.13 16.81 L232.2 16.9 L233.27 16.99 L234.34 17.08 L235.41 17.19 L236.49 17.29 L237.56 17.4 L238.63 17.52 L239.7 17.64 L240.77 17.76 L241.84 17.89 L242.91 18.03 L243.99 18.16 L245.06 18.3 L246.13 18.45 L247.2 18.6 L248.27 18.75 L249.34 18.9 L250.41 19.06 L251.49 19.25 L252.56 19.48 L253.63 19.73 L254.7 20.02 L255.77 20.34 L256.84 20.69 L257.91 21.07 L258.99 21.48 L260.06 21.92 L261.13 22.38 L262.2 22.87 L263.27 23.39 L264.34 23.93 L265.41 24.5 L266.49 25.09 L267.56 25.72 L268.63 26.47 L269.7 27.37 L270.77 28.39 L271.84 29.51 L272.91 30.71 L273.99 31.97 L275.06 33.28 L276.13 34.6 L277.2 35.91 L278.27 37.21 L279.34 38.51 L280.41 39.87 L281.49 41.26 L282.56 42.69 L283.63 44.17 L284.7 45.67 L285.77 47.22 L286.84 48.8 L287.91 50.41 L288.99 52.06 L290.06 53.77 L291.13 55.53 L292.2 57.34 L293.27 59.2 L294.34 61.09 L295.41 63.02 L296.49 64.98 L297.56 66.96 L298.63 68.91 L299.7 70.86 L300.77 72.89 L301.84 75.05 L302.91 77.41 L303.99 80.04 L305.06 83.14 L306.13 86.64 L307.2 90.38 L308.27 94.19 L309.34 98 L310.41 102.01 L311.49 106.12 L312.56 110.23 L313.63 114.19 L314.7 117.85 L315.77 121.4 L316.84 125.3 L317.91 129.49 L318.99 133.84 L320.06 138.35 L321.13 142.99 L322.2 147.77 L323.27 152.67 L324.34 157.66 L325.41 162.76 L326.49 167.93 L327.56 173.17 L328.63 178.46 L329.7 183.8 L330.77 189.38 L331.84 195.34 L332.91 201.57 L333.99 207.97 L335.06 214.44 L336.13 220.87 L337.2 227.15 L338.27 233.19 L339.34 238.88 L340.41 244.11 L341.49 248.79 L342.56 252.95 L343.63 256.76 L344.7 260.38 L345.77 263.95 L346.84 267.64 L347.91 271.34 L348.99 274.8 L350.06 278.25 L351.13 281.92 L352.2 286.05 L353.27 290.86 L354.34 297.22 L355.41 305.29 L356.49 314.1 L357.56 322.69 L358.63 330.11 L359.7 336.82 L360.77 343.38 L361.84 349.67 L362.91 355.54 L363.99 360.87 L365.06 365.51 L366.13 369.46 L367.2 373.12 L368.27 376.56 L369.34 379.77 L370.41 382.77 L371.49 385.55 L372.56 388.11 L373.63 390.46 L374.7 392.59 L375.77 394.52 L376.84 396.29 L377.91 397.94 L378.99 399.49 L380.06 400.94 L381.13 402.31 L382.2 403.6 L383.27 404.83 L384.34 406.01 L385.41 407.15 L386.49 408.26 L387.56 409.35 L388.63 410.43 L389.7 411.5 L390.77 412.58 L391.84 413.64 L392.91 414.7 L393.99 415.74 L395.06 416.77 L396.13 417.78 L397.2 418.77 L398.27 419.74 L399.34 420.68 L400.41 421.6 L401.49 422.5 L402.56 423.36 L403.63 424.18 L404.7 424.98 L405.77 425.73 L406.84 426.44 L407.91 427.12 L408.99 427.74 L410.06 428.32 L411.13 428.86 L412.2 429.38 L413.27 429.87 L414.34 430.34 L415.41 430.79 L416.49 431.22 L417.56 431.64 L418.63 432.04 L419.7 432.43 L420.77 432.81 L421.84 433.17 L422.91 433.53 L423.99 433.87 L425.06 434.21 L426.13 434.55 L427.2 434.88 L428.27 435.2 L429.34 435.53 L430.41 435.85 L431.49 436.18 L432.56 436.51 L433.63 436.84 L434.7 437.17 L435.77 437.49 L436.84 437.81 L437.91 438.13 L438.99 438.44 L440.06 438.75 L441.13 439.05 L442.2 439.35 L443.27 439.64 L444.34 439.92 L445.41 440.2 L446.49 440.46 L447.56 440.72 L448.63 440.96 L449.7 441.19 L450.77 441.41 L451.84 441.63 L452.91 441.83 L453.99 442.04 L455.06 442.24 L456.13 442.44 L457.2 442.64 L458.27 442.83 L459.34 443.02 L460.41 443.21 L461.49 443.39 L462.56 443.56 L463.63 443.73 L464.7 443.9 L465.77 444.06 L466.84 444.21 L467.91 444.36 L468.99 444.5 L470.06 444.63 L471.13 444.76 L472.2 444.88 L473.27 444.99 L474.34 445.1 L475.41 445.19 L476.49 445.28 L477.56 445.37 L478.63 445.46 L479.7 445.55 L480.77 445.63 L481.84 445.71 L482.91 445.8 L483.99 445.88 L485.06 445.96 L486.13 446.03 L487.2 446.11 L488.27 446.18 L489.34 446.26 L490.41 446.33 L491.49 446.4 L492.56 446.47 L493.63 446.53 L494.7 446.6 L495.77 446.66 L496.84 446.72 L497.91 446.78 L498.99 446.84 L500.06 446.9 L501.13 446.95 L502.2 447.01 L503.27 447.06 L504.34 447.11 L505.41 447.16 L506.49 447.2 L507.56 447.25 L508.63 447.29 L509.7 447.33 L510.77 447.37 L511.84 447.41 L512.91 447.44 L513.99 447.47 L515.06 447.51 L516.13 447.53 L517.2 447.56 L518.27 447.59 L519.34 447.61 L520.41 447.64 L521.49 447.66 L522.56 447.68 L523.63 447.71 L524.7 447.73 L525.77 447.75 L526.84 447.77 L527.91 447.79 L528.99 447.82 L530.06 447.84 L531.13 447.86 L532.2 447.88 L533.27 447.9 L534.34 447.92 L535.41 447.94 L536.49 447.96 L537.56 447.97 L538.63 447.99 L539.7 448.01 L540.77 448.02 L541.84 448.04 L542.91 448.06 L543.99 448.07 L545.06 448.08 L546.13 448.1 L547.2 448.11 L548.27 448.12 L549.34 448.13 L550.41 448.14 L551.49 448.15 L552.56 448.16 L553.63 448.17 L554.7 448.18 L555.77 448.18 L556.84 448.19 L557.91 448.19 L558.99 448.2 L560.06 448.2 L561.13 448.2 L562.2 448.2" fill="none" stroke="#000" stroke-width="1.7" stroke-dasharray="1.6 1.7" stroke-dashoffset="1.65"/>
<path d="M134.73 15.49 L136.39 15.49 L138.04 15.49 L139.7 15.5 L141.35 15.51 L143.01 15.51 L144.66 15.52 L146.32 15.53 L147.97 15.54 L149.63 15.55 L151.28 15.56 L152.94 15.57 L154.59 15.58 L156.25 15.59 L157.9 15.61 L159.56 15.62 L161.21 15.63 L162.87 15.65 L164.52 15.66 L166.18 15.68 L167.83 15.69 L169.49 15.71 L171.14 15.72 L172.8 15.74 L174.45 15.75 L176.11 15.77 L177.76 15.79 L179.42 15.8 L181.07 15.82 L182.73 15.84 L184.38 15.86 L186.04 15.87 L187.69 15.89 L189.35 15.92 L191 15.94 L192.66 15.96 L194.31 15.98 L195.97 16.01 L197.62 16.04 L199.28 16.06 L200.93 16.09 L202.59 16.13 L204.24 16.16 L205.9 16.19 L207.55 16.23 L209.21 16.27 L210.86 16.31 L212.52 16.35 L214.17 16.4 L215.83 16.45 L217.48 16.5 L219.14 16.57 L220.8 16.67 L222.45 16.8 L224.11 16.95 L225.76 17.12 L227.42 17.31 L229.07 17.52 L230.73 17.76 L232.38 18 L234.04 18.26 L235.69 18.54 L237.35 18.83 L239 19.12 L240.66 19.43 L242.31 19.74 L243.97 20.06 L245.62 20.38 L247.28 20.71 L248.93 21.04 L250.59 21.36 L252.24 21.69 L253.9 22.01 L255.55 22.33 L257.21 22.64 L258.86 22.94 L260.52 23.23 L262.17 23.52 L263.83 23.79 L265.48 24.06 L267.14 24.32 L268.79 24.59 L270.45 24.84 L272.1 25.1 L273.76 25.36 L275.41 25.62 L277.07 25.89 L278.72 26.16 L280.38 26.44 L282.03 26.72 L283.69 27.02 L285.34 27.33 L287 27.64 L288.65 27.98 L290.31 28.32 L291.96 28.69 L293.62 29.07 L295.27 29.48 L296.93 29.9 L298.58 30.35 L300.24 30.82 L301.89 31.31 L303.55 31.84 L305.2 32.42 L306.86 33.09 L308.52 33.86 L310.17 34.7 L311.83 35.63 L313.48 36.64 L315.14 37.73 L316.79 38.89 L318.45 40.13 L320.1 41.43 L321.76 42.79 L323.41 44.22 L325.07 45.71 L326.72 47.25 L328.38 48.85 L330.03 50.5 L331.69 52.2 L333.34 53.94 L335 55.72 L336.65 57.54 L338.31 59.4 L339.96 61.3 L341.62 63.22 L343.27 65.17 L344.93 67.14 L346.58 69.14 L348.24 71.2 L349.89 73.39 L351.55 75.71 L353.2 78.17 L354.86 80.75 L356.51 83.45 L358.17 86.26 L359.82 89.19 L361.48 92.21 L363.13 95.34 L364.79 98.57 L366.44 101.88 L368.1 105.28 L369.75 108.77 L371.41 112.32 L373.06 115.95 L374.72 119.65 L376.37 123.41 L378.03 127.22 L379.68 131.09 L381.34 135 L382.99 138.96 L384.65 142.95 L386.3 146.98 L387.96 151.03 L389.61 155.11 L391.27 159.25 L392.93 163.6 L394.58 168.16 L396.24 172.91 L397.89 177.83 L399.55 182.91 L401.2 188.14 L402.86 193.49 L404.51 198.96 L406.17 204.51 L407.82 210.15 L409.48 215.85 L411.13 221.6 L412.79 227.38 L414.44 233.17 L416.1 238.96 L417.75 244.74 L419.41 250.48 L421.06 256.17 L422.72 261.8 L424.37 267.35 L426.03 272.8 L427.68 278.14 L429.34 283.35 L430.99 288.41 L432.65 293.31 L434.3 298.07 L435.96 302.88 L437.61 307.76 L439.27 312.69 L440.92 317.67 L442.58 322.68 L444.23 327.7 L445.89 332.71 L447.54 337.71 L449.2 342.67 L450.85 347.59 L452.51 352.44 L454.16 357.22 L455.82 361.9 L457.47 366.47 L459.13 370.92 L460.78 375.24 L462.44 379.4 L464.09 383.39 L465.75 387.2 L467.4 390.81 L469.06 394.21 L470.71 397.38 L472.37 400.31 L474.02 402.98 L475.68 405.37 L477.33 407.5 L478.99 409.53 L480.65 411.52 L482.3 413.48 L483.96 415.39 L485.61 417.27 L487.27 419.1 L488.92 420.88 L490.58 422.62 L492.23 424.3 L493.89 425.92 L495.54 427.49 L497.2 429 L498.85 430.44 L500.51 431.82 L502.16 433.13 L503.82 434.38 L505.47 435.55 L507.13 436.64 L508.78 437.66 L510.44 438.6 L512.09 439.45 L513.75 440.22 L515.4 440.9 L517.06 441.49 L518.71 441.99 L520.37 442.4 L522.02 442.76 L523.68 443.12 L525.33 443.47 L526.99 443.81 L528.64 444.14 L530.3 444.47 L531.95 444.78 L533.61 445.07 L535.26 445.36 L536.92 445.64 L538.57 445.9 L540.23 446.15 L541.88 446.39 L543.54 446.61 L545.19 446.81 L546.85 447.01 L548.5 447.18 L550.16 447.34 L551.81 447.48 L553.47 447.61 L555.12 447.72 L556.78 447.8 L558.43 447.88 L560.09 447.93 L561.74 447.96 L563.4 447.97" fill="none" stroke="#000" stroke-width="1.6" stroke-dasharray="9.5 5" stroke-dashoffset="0"/>
<path d="M134.73 15.49 L136.39 15.49 L138.04 15.49 L139.7 15.5 L141.35 15.51 L143.01 15.51 L144.66 15.52 L146.32 15.53 L147.97 15.54 L149.63 15.55 L151.28 15.57 L152.94 15.58 L154.59 15.59 L156.25 15.61 L157.9 15.62 L159.56 15.64 L161.21 15.66 L162.87 15.67 L164.52 15.69 L166.18 15.71 L167.83 15.72 L169.49 15.74 L171.14 15.76 L172.8 15.78 L174.45 15.8 L176.11 15.82 L177.76 15.84 L179.42 15.86 L181.07 15.88 L182.73 15.9 L184.38 15.92 L186.04 15.95 L187.69 15.97 L189.35 16 L191 16.03 L192.66 16.05 L194.31 16.08 L195.97 16.12 L197.62 16.15 L199.28 16.19 L200.93 16.22 L202.59 16.26 L204.24 16.3 L205.9 16.35 L207.55 16.39 L209.21 16.44 L210.86 16.49 L212.52 16.54 L214.17 16.6 L215.83 16.66 L217.48 16.72 L219.14 16.8 L220.8 16.91 L222.45 17.04 L224.11 17.19 L225.76 17.37 L227.42 17.56 L229.07 17.77 L230.73 18 L232.38 18.25 L234.04 18.51 L235.69 18.79 L237.35 19.07 L239 19.37 L240.66 19.68 L242.31 20 L243.97 20.32 L245.62 20.65 L247.28 20.98 L248.93 21.32 L250.59 21.66 L252.24 22 L253.9 22.34 L255.55 22.68 L257.21 23.01 L258.86 23.34 L260.52 23.67 L262.17 23.99 L263.83 24.31 L265.48 24.62 L267.14 24.93 L268.79 25.25 L270.45 25.56 L272.1 25.88 L273.76 26.2 L275.41 26.53 L277.07 26.87 L278.72 27.21 L280.38 27.57 L282.03 27.94 L283.69 28.32 L285.34 28.71 L287 29.12 L288.65 29.55 L290.31 30 L291.96 30.47 L293.62 30.96 L295.27 31.47 L296.93 32.01 L298.58 32.57 L300.24 33.16 L301.89 33.78 L303.55 34.43 L305.2 35.15 L306.86 35.98 L308.52 36.9 L310.17 37.93 L311.83 39.06 L313.48 40.28 L315.14 41.59 L316.79 42.99 L318.45 44.46 L320.1 46.02 L321.76 47.65 L323.41 49.35 L325.07 51.12 L326.72 52.96 L328.38 54.85 L330.03 56.8 L331.69 58.8 L333.34 60.86 L335 62.95 L336.65 65.09 L338.31 67.27 L339.96 69.48 L341.62 71.73 L343.27 74 L344.93 76.29 L346.58 78.6 L348.24 80.98 L349.89 83.5 L351.55 86.16 L353.2 88.95 L354.86 91.88 L356.51 94.93 L358.17 98.1 L359.82 101.38 L361.48 104.77 L363.13 108.26 L364.79 111.84 L366.44 115.52 L368.1 119.28 L369.75 123.11 L371.41 127.03 L373.06 131 L374.72 135.04 L376.37 139.14 L378.03 143.28 L379.68 147.47 L381.34 151.7 L382.99 155.96 L384.65 160.24 L386.3 164.55 L387.96 168.88 L389.61 173.21 L391.27 177.59 L392.93 182.17 L394.58 186.93 L396.24 191.86 L397.89 196.96 L399.55 202.19 L401.2 207.55 L402.86 213.02 L404.51 218.58 L406.17 224.21 L407.82 229.91 L409.48 235.65 L411.13 241.43 L412.79 247.21 L414.44 252.99 L416.1 258.76 L417.75 264.48 L419.41 270.16 L421.06 275.77 L422.72 281.3 L424.37 286.73 L426.03 292.04 L427.68 297.22 L429.34 302.26 L430.99 307.13 L432.65 311.83 L434.3 316.36 L435.96 320.92 L437.61 325.55 L439.27 330.21 L440.92 334.9 L442.58 339.61 L444.23 344.31 L445.89 349 L447.54 353.66 L449.2 358.28 L450.85 362.84 L452.51 367.33 L454.16 371.73 L455.82 376.03 L457.47 380.22 L459.13 384.29 L460.78 388.2 L462.44 391.97 L464.09 395.56 L465.75 398.97 L467.4 402.17 L469.06 405.17 L470.71 407.94 L472.37 410.46 L474.02 412.73 L475.68 414.73 L477.33 416.46 L478.99 418.1 L480.65 419.7 L482.3 421.26 L483.96 422.79 L485.61 424.28 L487.27 425.72 L488.92 427.12 L490.58 428.48 L492.23 429.79 L493.89 431.06 L495.54 432.27 L497.2 433.44 L498.85 434.56 L500.51 435.62 L502.16 436.62 L503.82 437.57 L505.47 438.47 L507.13 439.3 L508.78 440.08 L510.44 440.79 L512.09 441.44 L513.75 442.02 L515.4 442.54 L517.06 442.99 L518.71 443.37 L520.37 443.68 L522.02 443.97 L523.68 444.24 L525.33 444.51 L526.99 444.77 L528.64 445.03 L530.3 445.28 L531.95 445.51 L533.61 445.74 L535.26 445.97 L536.92 446.18 L538.57 446.38 L540.23 446.57 L541.88 446.75 L543.54 446.92 L545.19 447.08 L546.85 447.23 L548.5 447.36 L550.16 447.49 L551.81 447.6 L553.47 447.69 L555.12 447.77 L556.78 447.84 L558.43 447.9 L560.09 447.94 L561.74 447.96 L563.4 447.97" fill="none" stroke="#000" stroke-width="1.6" stroke-dasharray="9.5 5" stroke-dashoffset="0"/>
<path d="M134.73 15.49 L136.39 15.49 L138.04 15.49 L139.7 15.5 L141.35 15.51 L143.01 15.52 L144.66 15.53 L146.32 15.54 L147.97 15.55 L149.63 15.56 L151.28 15.58 L152.94 15.59 L154.59 15.61 L156.25 15.62 L157.9 15.64 L159.56 15.66 L161.21 15.68 L162.87 15.7 L164.52 15.72 L166.18 15.74 L167.83 15.76 L169.49 15.78 L171.14 15.8 L172.8 15.82 L174.45 15.84 L176.11 15.87 L177.76 15.89 L179.42 15.91 L181.07 15.94 L182.73 15.96 L184.38 15.99 L186.04 16.02 L187.69 16.05 L189.35 16.08 L191 16.11 L192.66 16.15 L194.31 16.19 L195.97 16.22 L197.62 16.26 L199.28 16.31 L200.93 16.35 L202.59 16.4 L204.24 16.45 L205.9 16.5 L207.55 16.55 L209.21 16.61 L210.86 16.67 L212.52 16.73 L214.17 16.8 L215.83 16.87 L217.48 16.94 L219.14 17.03 L220.8 17.14 L222.45 17.28 L224.11 17.43 L225.76 17.61 L227.42 17.8 L229.07 18.01 L230.73 18.24 L232.38 18.48 L234.04 18.74 L235.69 19.01 L237.35 19.3 L239 19.6 L240.66 19.9 L242.31 20.22 L243.97 20.55 L245.62 20.89 L247.28 21.23 L248.93 21.58 L250.59 21.93 L252.24 22.29 L253.9 22.65 L255.55 23.01 L257.21 23.38 L258.86 23.74 L260.52 24.11 L262.17 24.48 L263.83 24.85 L265.48 25.23 L267.14 25.62 L268.79 26.02 L270.45 26.43 L272.1 26.85 L273.76 27.29 L275.41 27.74 L277.07 28.2 L278.72 28.68 L280.38 29.17 L282.03 29.68 L283.69 30.21 L285.34 30.76 L287 31.32 L288.65 31.91 L290.31 32.52 L291.96 33.16 L293.62 33.82 L295.27 34.5 L296.93 35.21 L298.58 35.94 L300.24 36.71 L301.89 37.5 L303.55 38.32 L305.2 39.21 L306.86 40.19 L308.52 41.26 L310.17 42.42 L311.83 43.67 L313.48 45 L315.14 46.41 L316.79 47.9 L318.45 49.47 L320.1 51.11 L321.76 52.82 L323.41 54.6 L325.07 56.44 L326.72 58.35 L328.38 60.31 L330.03 62.33 L331.69 64.41 L333.34 66.54 L335 68.71 L336.65 70.94 L338.31 73.2 L339.96 75.51 L341.62 77.85 L343.27 80.23 L344.93 82.64 L346.58 85.07 L348.24 87.58 L349.89 90.25 L351.55 93.06 L353.2 96.01 L354.86 99.1 L356.51 102.32 L358.17 105.67 L359.82 109.13 L361.48 112.71 L363.13 116.39 L364.79 120.18 L366.44 124.06 L368.1 128.02 L369.75 132.07 L371.41 136.19 L373.06 140.39 L374.72 144.64 L376.37 148.96 L378.03 153.33 L379.68 157.74 L381.34 162.19 L382.99 166.67 L384.65 171.19 L386.3 175.72 L387.96 180.27 L389.61 184.82 L391.27 189.44 L392.93 194.28 L394.58 199.34 L396.24 204.6 L397.89 210.05 L399.55 215.66 L401.2 221.41 L402.86 227.28 L404.51 233.24 L406.17 239.29 L407.82 245.4 L409.48 251.54 L411.13 257.71 L412.79 263.87 L414.44 270.01 L416.1 276.1 L417.75 282.13 L419.41 288.07 L421.06 293.91 L422.72 299.63 L424.37 305.2 L426.03 310.6 L427.68 315.81 L429.34 320.82 L430.99 325.6 L432.65 330.13 L434.3 334.42 L435.96 338.71 L437.61 343.01 L439.27 347.33 L440.92 351.63 L442.58 355.93 L444.23 360.19 L445.89 364.42 L447.54 368.6 L449.2 372.72 L450.85 376.77 L452.51 380.74 L454.16 384.62 L455.82 388.39 L457.47 392.04 L459.13 395.57 L460.78 398.96 L462.44 402.2 L464.09 405.29 L465.75 408.2 L467.4 410.93 L469.06 413.46 L470.71 415.79 L472.37 417.91 L474.02 419.79 L475.68 421.44 L477.33 422.86 L478.99 424.19 L480.65 425.48 L482.3 426.75 L483.96 427.98 L485.61 429.17 L487.27 430.33 L488.92 431.45 L490.58 432.54 L492.23 433.58 L493.89 434.59 L495.54 435.55 L497.2 436.48 L498.85 437.36 L500.51 438.19 L502.16 438.99 L503.82 439.74 L505.47 440.44 L507.13 441.09 L508.78 441.7 L510.44 442.26 L512.09 442.77 L513.75 443.23 L515.4 443.64 L517.06 443.99 L518.71 444.29 L520.37 444.54 L522.02 444.77 L523.68 444.99 L525.33 445.2 L526.99 445.41 L528.64 445.62 L530.3 445.81 L531.95 446 L533.61 446.19 L535.26 446.37 L536.92 446.53 L538.57 446.7 L540.23 446.85 L541.88 446.99 L543.54 447.13 L545.19 447.26 L546.85 447.38 L548.5 447.48 L550.16 447.58 L551.81 447.67 L553.47 447.75 L555.12 447.81 L556.78 447.87 L558.43 447.91 L560.09 447.94 L561.74 447.96 L563.4 447.97" fill="none" stroke="#000" stroke-width="1.6" stroke-dasharray="9.5 5" stroke-dashoffset="0"/>
<path d="M134.73 15.49 L136.39 15.49 L138.04 15.49 L139.7 15.5 L141.35 15.51 L143.01 15.52 L144.66 15.53 L146.32 15.54 L147.97 15.55 L149.63 15.57 L151.28 15.58 L152.94 15.6 L154.59 15.62 L156.25 15.64 L157.9 15.66 L159.56 15.68 L161.21 15.7 L162.87 15.72 L164.52 15.74 L166.18 15.77 L167.83 15.79 L169.49 15.81 L171.14 15.84 L172.8 15.86 L174.45 15.89 L176.11 15.91 L177.76 15.94 L179.42 15.97 L181.07 16 L182.73 16.03 L184.38 16.06 L186.04 16.09 L187.69 16.13 L189.35 16.16 L191 16.2 L192.66 16.24 L194.31 16.29 L195.97 16.33 L197.62 16.38 L199.28 16.43 L200.93 16.48 L202.59 16.54 L204.24 16.59 L205.9 16.65 L207.55 16.72 L209.21 16.78 L210.86 16.85 L212.52 16.92 L214.17 17 L215.83 17.07 L217.48 17.16 L219.14 17.26 L220.8 17.37 L222.45 17.51 L224.11 17.67 L225.76 17.85 L227.42 18.04 L229.07 18.25 L230.73 18.48 L232.38 18.72 L234.04 18.98 L235.69 19.25 L237.35 19.54 L239 19.83 L240.66 20.14 L242.31 20.47 L243.97 20.8 L245.62 21.14 L247.28 21.49 L248.93 21.85 L250.59 22.22 L252.24 22.59 L253.9 22.97 L255.55 23.36 L257.21 23.75 L258.86 24.15 L260.52 24.55 L262.17 24.96 L263.83 25.39 L265.48 25.84 L267.14 26.32 L268.79 26.81 L270.45 27.33 L272.1 27.87 L273.76 28.42 L275.41 29.01 L277.07 29.61 L278.72 30.24 L280.38 30.89 L282.03 31.56 L283.69 32.26 L285.34 32.98 L287 33.73 L288.65 34.5 L290.31 35.3 L291.96 36.13 L293.62 36.98 L295.27 37.85 L296.93 38.76 L298.58 39.69 L300.24 40.65 L301.89 41.63 L303.55 42.65 L305.2 43.72 L306.86 44.88 L308.52 46.14 L310.17 47.47 L311.83 48.89 L313.48 50.4 L315.14 51.98 L316.79 53.64 L318.45 55.37 L320.1 57.18 L321.76 59.06 L323.41 61 L325.07 63.01 L326.72 65.09 L328.38 67.22 L330.03 69.42 L331.69 71.67 L333.34 73.97 L335 76.33 L336.65 78.74 L338.31 81.2 L339.96 83.7 L341.62 86.25 L343.27 88.83 L344.93 91.46 L346.58 94.12 L348.24 96.87 L349.89 99.79 L351.55 102.88 L353.2 106.12 L354.86 109.52 L356.51 113.06 L358.17 116.74 L359.82 120.55 L361.48 124.47 L363.13 128.51 L364.79 132.65 L366.44 136.88 L368.1 141.2 L369.75 145.61 L371.41 150.08 L373.06 154.61 L374.72 159.2 L376.37 163.84 L378.03 168.52 L379.68 173.22 L381.34 177.95 L382.99 182.7 L384.65 187.45 L386.3 192.2 L387.96 196.94 L389.61 201.66 L391.27 206.41 L392.93 211.34 L394.58 216.46 L396.24 221.75 L397.89 227.19 L399.55 232.76 L401.2 238.44 L402.86 244.21 L404.51 250.05 L406.17 255.96 L407.82 261.89 L409.48 267.85 L411.13 273.81 L412.79 279.75 L414.44 285.65 L416.1 291.5 L417.75 297.27 L419.41 302.95 L421.06 308.52 L422.72 313.96 L424.37 319.25 L426.03 324.37 L427.68 329.31 L429.34 334.04 L430.99 338.55 L432.65 342.81 L434.3 346.86 L435.96 350.89 L437.61 354.94 L439.27 358.99 L440.92 363.04 L442.58 367.07 L444.23 371.07 L445.89 375.03 L447.54 378.95 L449.2 382.8 L450.85 386.59 L452.51 390.29 L454.16 393.89 L455.82 397.39 L457.47 400.78 L459.13 404.04 L460.78 407.16 L462.44 410.14 L464.09 412.95 L465.75 415.59 L467.4 418.05 L469.06 420.32 L470.71 422.39 L472.37 424.24 L474.02 425.86 L475.68 427.25 L477.33 428.4 L478.99 429.47 L480.65 430.52 L482.3 431.53 L483.96 432.51 L485.61 433.46 L487.27 434.38 L488.92 435.27 L490.58 436.12 L492.23 436.94 L493.89 437.73 L495.54 438.49 L497.2 439.21 L498.85 439.89 L500.51 440.54 L502.16 441.15 L503.82 441.73 L505.47 442.27 L507.13 442.77 L508.78 443.24 L510.44 443.67 L512.09 444.05 L513.75 444.4 L515.4 444.71 L517.06 444.98 L518.71 445.21 L520.37 445.4 L522.02 445.57 L523.68 445.73 L525.33 445.9 L526.99 446.05 L528.64 446.21 L530.3 446.36 L531.95 446.5 L533.61 446.64 L535.26 446.77 L536.92 446.9 L538.57 447.02 L540.23 447.13 L541.88 447.24 L543.54 447.34 L545.19 447.44 L546.85 447.53 L548.5 447.61 L550.16 447.68 L551.81 447.75 L553.47 447.8 L555.12 447.85 L556.78 447.89 L558.43 447.92 L560.09 447.95 L561.74 447.96 L563.4 447.97" fill="none" stroke="#000" stroke-width="1.6" stroke-dasharray="9.5 5" stroke-dashoffset="0"/>
<circle cx="173.7" cy="17.13" r="6.9" fill="none" stroke="#000" stroke-width="0.8"/>
<circle cx="217" cy="21.89" r="6.9" fill="none" stroke="#000" stroke-width="0.8"/>
<circle cx="260.3" cy="46.58" r="6.9" fill="none" stroke="#000" stroke-width="0.8"/>
<circle cx="303.6" cy="111.53" r="6.9" fill="none" stroke="#000" stroke-width="0.8"/>
<circle cx="346.9" cy="273.03" r="6.9" fill="none" stroke="#000" stroke-width="0.8"/>
<circle cx="390.2" cy="399.9" r="6.9" fill="none" stroke="#000" stroke-width="0.8"/>
<circle cx="433.5" cy="436.71" r="6.9" fill="none" stroke="#000" stroke-width="0.8"/>
<circle cx="476.8" cy="445.8" r="6.9" fill="none" stroke="#000" stroke-width="0.8"/>
<circle cx="520.1" cy="447.97" r="6.9" fill="none" stroke="#000" stroke-width="0.8"/>
<path d="M167.7 21.53 L179.7 21.53 L173.7 10.93 Z" fill="none" stroke="#000" stroke-width="0.8"/>
<path d="M211 27.59 L223 27.59 L217 16.99 Z" fill="none" stroke="#000" stroke-width="0.8"/>
<path d="M254.3 54.44 L266.3 54.44 L260.3 43.84 Z" fill="none" stroke="#000" stroke-width="0.8"/>
<path d="M297.6 125.02 L309.6 125.02 L303.6 114.42 Z" fill="none" stroke="#000" stroke-width="0.8"/>
<path d="M340.9 280.9 L352.9 280.9 L346.9 270.3 Z" fill="none" stroke="#000" stroke-width="0.8"/>
<path d="M384.2 411.66 L396.2 411.66 L390.2 401.06 Z" fill="none" stroke="#000" stroke-width="0.8"/>
<path d="M427.5 442.41 L439.5 442.41 L433.5 431.81 Z" fill="none" stroke="#000" stroke-width="0.8"/>
<path d="M470.8 449.77 L482.8 449.77 L476.8 439.17 Z" fill="none" stroke="#000" stroke-width="0.8"/>
<path d="M514.1 451.5 L526.1 451.5 L520.1 440.9 Z" fill="none" stroke="#000" stroke-width="0.8"/>
<path d="M167.7 15.33 L179.7 15.33 L173.7 25.93 Z" fill="none" stroke="#000" stroke-width="0.8"/>
<path d="M211 23.56 L223 23.56 L217 34.16 Z" fill="none" stroke="#000" stroke-width="0.8"/>
<path d="M254.3 52.57 L266.3 52.57 L260.3 63.17 Z" fill="none" stroke="#000" stroke-width="0.8"/>
<path d="M297.6 127.48 L309.6 127.48 L303.6 138.08 Z" fill="none" stroke="#000" stroke-width="0.8"/>
<path d="M340.9 278.16 L352.9 278.16 L346.9 288.76 Z" fill="none" stroke="#000" stroke-width="0.8"/>
<path d="M384.2 406.33 L396.2 406.33 L390.2 416.93 Z" fill="none" stroke="#000" stroke-width="0.8"/>
<path d="M427.5 436.21 L439.5 436.21 L433.5 446.81 Z" fill="none" stroke="#000" stroke-width="0.8"/>
<path d="M470.8 443.13 L482.8 443.13 L476.8 453.73 Z" fill="none" stroke="#000" stroke-width="0.8"/>
<path d="M514.1 444.43 L526.1 444.43 L520.1 455.03 Z" fill="none" stroke="#000" stroke-width="0.8"/>
<path d="M166.5 20.6 L173.7 13.4 L180.9 20.6 L173.7 27.8 Z" fill="none" stroke="#000" stroke-width="0.8"/>
<path d="M209.8 30.99 L217 23.79 L224.2 30.99 L217 38.19 Z" fill="none" stroke="#000" stroke-width="0.8"/>
<path d="M253.1 61.3 L260.3 54.1 L267.5 61.3 L260.3 68.5 Z" fill="none" stroke="#000" stroke-width="0.8"/>
<path d="M296.4 140.97 L303.6 133.77 L310.8 140.97 L303.6 148.17 Z" fill="none" stroke="#000" stroke-width="0.8"/>
<path d="M339.7 287.54 L346.9 280.34 L354.1 287.54 L346.9 294.74 Z" fill="none" stroke="#000" stroke-width="0.8"/>
<path d="M383 411.59 L390.2 404.39 L397.4 411.59 L390.2 418.79 Z" fill="none" stroke="#000" stroke-width="0.8"/>
<path d="M426.3 440.61 L433.5 433.41 L440.7 440.61 L433.5 447.81 Z" fill="none" stroke="#000" stroke-width="0.8"/>
<path d="M469.6 447.1 L476.8 439.9 L484 447.1 L476.8 454.3 Z" fill="none" stroke="#000" stroke-width="0.8"/>
<path d="M512.9 447.97 L520.1 440.77 L527.3 447.97 L520.1 455.17 Z" fill="none" stroke="#000" stroke-width="0.8"/>
<circle cx="173.7" cy="15.75" r="6.9" fill="none" stroke="#000" stroke-width="0.8"/>
<circle cx="217" cy="16.48" r="6.9" fill="none" stroke="#000" stroke-width="0.8"/>
<circle cx="260.3" cy="23.19" r="6.9" fill="none" stroke="#000" stroke-width="0.8"/>
<circle cx="303.6" cy="31.85" r="6.9" fill="none" stroke="#000" stroke-width="0.8"/>
<circle cx="346.9" cy="69.52" r="6.9" fill="none" stroke="#000" stroke-width="0.8"/>
<circle cx="390.2" cy="156.56" r="6.9" fill="none" stroke="#000" stroke-width="0.8"/>
<circle cx="433.5" cy="295.77" r="6.9" fill="none" stroke="#000" stroke-width="0.8"/>
<circle cx="476.8" cy="406.83" r="6.9" fill="none" stroke="#000" stroke-width="0.8"/>
<circle cx="520.1" cy="442.34" r="6.9" fill="none" stroke="#000" stroke-width="0.8"/>
<circle cx="563.4" cy="447.97" r="6.9" fill="none" stroke="#000" stroke-width="0.8"/>
<path d="M167.7 19.32 L179.7 19.32 L173.7 8.72 Z" fill="none" stroke="#000" stroke-width="0.8"/>
<path d="M211 20.23 L223 20.23 L217 9.63 Z" fill="none" stroke="#000" stroke-width="0.8"/>
<path d="M254.3 27.16 L266.3 27.16 L260.3 16.56 Z" fill="none" stroke="#000" stroke-width="0.8"/>
<path d="M297.6 37.99 L309.6 37.99 L303.6 27.39 Z" fill="none" stroke="#000" stroke-width="0.8"/>
<path d="M340.9 82.58 L352.9 82.58 L346.9 71.98 Z" fill="none" stroke="#000" stroke-width="0.8"/>
<path d="M384.2 178.28 L396.2 178.28 L390.2 167.68 Z" fill="none" stroke="#000" stroke-width="0.8"/>
<path d="M427.5 317.7 L439.5 317.7 L433.5 307.1 Z" fill="none" stroke="#000" stroke-width="0.8"/>
<path d="M470.8 419.46 L482.8 419.46 L476.8 408.86 Z" fill="none" stroke="#000" stroke-width="0.8"/>
<path d="M514.1 447.17 L526.1 447.17 L520.1 436.57 Z" fill="none" stroke="#000" stroke-width="0.8"/>
<path d="M557.4 451.5 L569.4 451.5 L563.4 440.9 Z" fill="none" stroke="#000" stroke-width="0.8"/>
<path d="M167.7 12.3 L179.7 12.3 L173.7 22.9 Z" fill="none" stroke="#000" stroke-width="0.8"/>
<path d="M211 13.38 L223 13.38 L217 23.98 Z" fill="none" stroke="#000" stroke-width="0.8"/>
<path d="M254.3 20.53 L266.3 20.53 L260.3 31.13 Z" fill="none" stroke="#000" stroke-width="0.8"/>
<path d="M297.6 34.82 L309.6 34.82 L303.6 45.42 Z" fill="none" stroke="#000" stroke-width="0.8"/>
<path d="M340.9 82.01 L352.9 82.01 L346.9 92.61 Z" fill="none" stroke="#000" stroke-width="0.8"/>
<path d="M384.2 182.9 L396.2 182.9 L390.2 193.5 Z" fill="none" stroke="#000" stroke-width="0.8"/>
<path d="M427.5 328.82 L439.5 328.82 L433.5 339.42 Z" fill="none" stroke="#000" stroke-width="0.8"/>
<path d="M470.8 418.89 L482.8 418.89 L476.8 429.49 Z" fill="none" stroke="#000" stroke-width="0.8"/>
<path d="M514.1 440.97 L526.1 440.97 L520.1 451.57 Z" fill="none" stroke="#000" stroke-width="0.8"/>
<path d="M557.4 444.43 L569.4 444.43 L563.4 455.03 Z" fill="none" stroke="#000" stroke-width="0.8"/>
<path d="M166.5 15.88 L173.7 8.68 L180.9 15.88 L173.7 23.08 Z" fill="none" stroke="#000" stroke-width="0.8"/>
<path d="M209.8 17.13 L217 9.93 L224.2 17.13 L217 24.33 Z" fill="none" stroke="#000" stroke-width="0.8"/>
<path d="M253.1 24.49 L260.3 17.29 L267.5 24.49 L260.3 31.69 Z" fill="none" stroke="#000" stroke-width="0.8"/>
<path d="M296.4 42.68 L303.6 35.48 L310.8 42.68 L303.6 49.88 Z" fill="none" stroke="#000" stroke-width="0.8"/>
<path d="M339.7 94.64 L346.9 87.44 L354.1 94.64 L346.9 101.84 Z" fill="none" stroke="#000" stroke-width="0.8"/>
<path d="M383 203.32 L390.2 196.12 L397.4 203.32 L390.2 210.52 Z" fill="none" stroke="#000" stroke-width="0.8"/>
<path d="M426.3 344.91 L433.5 337.71 L440.7 344.91 L433.5 352.11 Z" fill="none" stroke="#000" stroke-width="0.8"/>
<path d="M469.6 428.05 L476.8 420.85 L484 428.05 L476.8 435.25 Z" fill="none" stroke="#000" stroke-width="0.8"/>
<path d="M512.9 445.37 L520.1 438.17 L527.3 445.37 L520.1 452.57 Z" fill="none" stroke="#000" stroke-width="0.8"/>
<path d="M556.2 447.97 L563.4 440.77 L570.6 447.97 L563.4 455.17 Z" fill="none" stroke="#000" stroke-width="0.8"/>
<circle cx="173.7" cy="15.5" r="6.9" fill="none" stroke="#000" stroke-width="0.8"/>
<circle cx="217" cy="15.6" r="6.9" fill="none" stroke="#000" stroke-width="0.8"/>
<circle cx="260.3" cy="16.2" r="6.9" fill="none" stroke="#000" stroke-width="0.8"/>
<circle cx="303.6" cy="21.9" r="6.9" fill="none" stroke="#000" stroke-width="0.8"/>
<circle cx="346.9" cy="147.2" r="6.9" fill="none" stroke="#000" stroke-width="0.8"/>
<circle cx="390.2" cy="409.43" r="6.9" fill="none" stroke="#000" stroke-width="0.8"/>
<circle cx="433.5" cy="436.28" r="6.9" fill="none" stroke="#000" stroke-width="0.8"/>
<circle cx="476.8" cy="444.94" r="6.9" fill="none" stroke="#000" stroke-width="0.8"/>
<circle cx="520.1" cy="447.97" r="6.9" fill="none" stroke="#000" stroke-width="0.8"/>
<path d="M167.7 19.03 L179.7 19.03 L173.7 8.43 Z" fill="none" stroke="#000" stroke-width="0.8"/>
<path d="M211 19.13 L223 19.13 L217 8.53 Z" fill="none" stroke="#000" stroke-width="0.8"/>
<path d="M254.3 21.03 L266.3 21.03 L260.3 10.43 Z" fill="none" stroke="#000" stroke-width="0.8"/>
<path d="M297.6 38.43 L309.6 38.43 L303.6 27.83 Z" fill="none" stroke="#000" stroke-width="0.8"/>
<path d="M340.9 239.83 L352.9 239.83 L346.9 229.23 Z" fill="none" stroke="#000" stroke-width="0.8"/>
<path d="M384.2 414.7 L396.2 414.7 L390.2 404.1 Z" fill="none" stroke="#000" stroke-width="0.8"/>
<path d="M427.5 440.24 L439.5 440.24 L433.5 429.64 Z" fill="none" stroke="#000" stroke-width="0.8"/>
<path d="M470.8 448.47 L482.8 448.47 L476.8 437.87 Z" fill="none" stroke="#000" stroke-width="0.8"/>
<path d="M514.1 451.5 L526.1 451.5 L520.1 440.9 Z" fill="none" stroke="#000" stroke-width="0.8"/>
<path d="M167.7 11.97 L179.7 11.97 L173.7 22.57 Z" fill="none" stroke="#000" stroke-width="0.8"/>
<path d="M211 12.07 L223 12.07 L217 22.67 Z" fill="none" stroke="#000" stroke-width="0.8"/>
<path d="M254.3 15.97 L266.3 15.97 L260.3 26.57 Z" fill="none" stroke="#000" stroke-width="0.8"/>
<path d="M297.6 48.57 L309.6 48.57 L303.6 59.17 Z" fill="none" stroke="#000" stroke-width="0.8"/>
<path d="M340.9 254.37 L352.9 254.37 L346.9 264.97 Z" fill="none" stroke="#000" stroke-width="0.8"/>
<path d="M384.2 408.49 L396.2 408.49 L390.2 419.09 Z" fill="none" stroke="#000" stroke-width="0.8"/>
<path d="M427.5 433.61 L439.5 433.61 L433.5 444.21 Z" fill="none" stroke="#000" stroke-width="0.8"/>
<path d="M470.8 441.4 L482.8 441.4 L476.8 452 Z" fill="none" stroke="#000" stroke-width="0.8"/>
<path d="M514.1 444.43 L526.1 444.43 L520.1 455.03 Z" fill="none" stroke="#000" stroke-width="0.8"/>
<path d="M166.5 15.5 L173.7 8.3 L180.9 15.5 L173.7 22.7 Z" fill="none" stroke="#000" stroke-width="0.8"/>
<path d="M209.8 15.8 L217 8.6 L224.2 15.8 L217 23 Z" fill="none" stroke="#000" stroke-width="0.8"/>
<path d="M253.1 21.5 L260.3 14.3 L267.5 21.5 L260.3 28.7 Z" fill="none" stroke="#000" stroke-width="0.8"/>
<path d="M296.4 79.3 L303.6 72.1 L310.8 79.3 L303.6 86.5 Z" fill="none" stroke="#000" stroke-width="0.8"/>
<path d="M339.7 268.2 L346.9 261 L354.1 268.2 L346.9 275.4 Z" fill="none" stroke="#000" stroke-width="0.8"/>
<path d="M383 412.89 L390.2 405.69 L397.4 412.89 L390.2 420.09 Z" fill="none" stroke="#000" stroke-width="0.8"/>
<path d="M426.3 437.57 L433.5 430.38 L440.7 437.57 L433.5 444.77 Z" fill="none" stroke="#000" stroke-width="0.8"/>
<path d="M469.6 444.94 L476.8 437.74 L484 444.94 L476.8 452.14 Z" fill="none" stroke="#000" stroke-width="0.8"/>
<path d="M512.9 447.97 L520.1 440.77 L527.3 447.97 L520.1 455.17 Z" fill="none" stroke="#000" stroke-width="0.8"/>
</g>
<g id="pb">
<path d="M739.3 22.15 V443.3 M729.8 443.3 H1159.6 M734.3 411.66 H739.3 M734.3 393.15 H739.3 M734.3 380.02 H739.3 M734.3 369.84 H739.3 M734.3 361.52 H739.3 M734.3 354.48 H739.3 M734.3 348.39 H739.3 M734.3 343.01 H739.3 M729.8 338.2 H739.3 M734.3 306.56 H739.3 M734.3 288.05 H739.3 M734.3 274.92 H739.3 M734.3 264.74 H739.3 M734.3 256.42 H739.3 M734.3 249.38 H739.3 M734.3 243.29 H739.3 M734.3 237.91 H739.3 M729.8 233.1 H739.3 M734.3 201.46 H739.3 M734.3 182.95 H739.3 M734.3 169.82 H739.3 M734.3 159.64 H739.3 M734.3 151.32 H739.3 M734.3 144.28 H739.3 M734.3 138.19 H739.3 M734.3 132.81 H739.3 M729.8 128 H739.3 M734.3 96.36 H739.3 M734.3 77.85 H739.3 M734.3 64.72 H739.3 M734.3 54.54 H739.3 M734.3 46.22 H739.3 M734.3 39.18 H739.3 M734.3 33.09 H739.3 M734.3 27.71 H739.3 M729.8 22.9 H739.3 M738.7 443.3 V448.8 M744.99 443.3 V448.8 M750.3 443.3 V448.8 M754.91 443.3 V448.8 M758.97 443.3 V448.8 M762.6 443.3 V453.3 M786.5 443.3 V448.8 M800.48 443.3 V448.8 M810.4 443.3 V448.8 M818.1 443.3 V448.8 M824.39 443.3 V448.8 M829.7 443.3 V448.8 M834.31 443.3 V448.8 M838.37 443.3 V448.8 M842 443.3 V453.3 M865.9 443.3 V448.8 M879.88 443.3 V448.8 M889.8 443.3 V448.8 M897.5 443.3 V448.8 M903.79 443.3 V448.8 M909.1 443.3 V448.8 M913.71 443.3 V448.8 M917.77 443.3 V448.8 M921.4 443.3 V453.3 M945.3 443.3 V448.8 M959.28 443.3 V448.8 M969.2 443.3 V448.8 M976.9 443.3 V448.8 M983.19 443.3 V448.8 M988.5 443.3 V448.8 M993.11 443.3 V448.8 M997.17 443.3 V448.8 M1000.8 443.3 V453.3 M1024.7 443.3 V448.8 M1038.68 443.3 V448.8 M1048.6 443.3 V448.8 M1056.3 443.3 V448.8 M1062.59 443.3 V448.8 M1067.9 443.3 V448.8 M1072.51 443.3 V448.8 M1076.57 443.3 V448.8 M1080.2 443.3 V453.3 M1104.1 443.3 V448.8 M1118.08 443.3 V448.8 M1128 443.3 V448.8 M1135.7 443.3 V448.8 M1141.99 443.3 V448.8 M1147.3 443.3 V448.8 M1151.91 443.3 V448.8 M1155.97 443.3 V448.8 M1159.6 443.3 V453.3" stroke="#000" stroke-width="1.8" fill="none"/>
<text x="718.5" y="452.1" font-size="25" text-anchor="end">10<tspan font-size="22.5" dy="-7.4">−</tspan><tspan font-size="16.6" dy="-1.9">4</tspan></text>
<text x="718.5" y="347" font-size="25" text-anchor="end">10<tspan font-size="22.5" dy="-7.4">−</tspan><tspan font-size="16.6" dy="-1.9">3</tspan></text>
<text x="718.5" y="241.9" font-size="25" text-anchor="end">10<tspan font-size="22.5" dy="-7.4">−</tspan><tspan font-size="16.6" dy="-1.9">2</tspan></text>
<text x="718.5" y="136.8" font-size="25" text-anchor="end">10<tspan font-size="22.5" dy="-7.4">−</tspan><tspan font-size="16.6" dy="-1.9">1</tspan></text>
<text x="718.5" y="31.7" font-size="25" text-anchor="end">10<tspan font-size="16.6" dy="-9.3">0</tspan></text>
<text x="763.6" y="479.7" font-size="25" text-anchor="middle">10<tspan font-size="22.5" dy="-7.4">−</tspan><tspan font-size="16.6" dy="-1.9">2</tspan></text>
<text x="843" y="479.7" font-size="25" text-anchor="middle">10<tspan font-size="22.5" dy="-7.4">−</tspan><tspan font-size="16.6" dy="-1.9">1</tspan></text>
<text x="922.4" y="479.7" font-size="25" text-anchor="middle">10<tspan font-size="16.6" dy="-9.3">0</tspan></text>
<text x="1001.8" y="479.7" font-size="25" text-anchor="middle">10<tspan font-size="16.6" dy="-9.3">1</tspan></text>
<text x="1081.2" y="479.7" font-size="25" text-anchor="middle">10<tspan font-size="16.6" dy="-9.3">2</tspan></text>
<text x="1160.6" y="479.7" font-size="25" text-anchor="middle">10<tspan font-size="16.6" dy="-9.3">3</tspan></text>
<text x="623.5" y="24.5" font-size="30">(<tspan font-style="italic">b</tspan>)</text>
<text transform="translate(654,260.8) rotate(-90)" font-size="30" textLength="21.6" lengthAdjust="spacingAndGlyphs">−</text><text transform="translate(652.5,238.7) rotate(-90)" font-size="30"><tspan font-style="italic">η</tspan><tspan font-size="20" dy="4.5">1</tspan><tspan font-size="21" dx="-10.5" dy="-11.5">*</tspan></text>
<text x="947.5" y="519" font-size="32.5" font-style="italic" text-anchor="middle">Σ</text>
<path d="M739.18 343.14 L740.8 340.99 L742.42 338.84 L744.05 336.69 L745.67 334.55 L747.29 332.4 L748.92 330.25 L750.54 328.1 L752.16 325.95 L753.79 323.8 L755.41 321.65 L757.03 319.5 L758.66 317.36 L760.28 315.21 L761.9 313.06 L763.53 310.91 L765.15 308.76 L766.77 306.61 L768.4 304.46 L770.02 302.31 L771.64 300.16 L773.27 298.01 L774.89 295.86 L776.51 293.71 L778.14 291.56 L779.76 289.41 L781.38 287.26 L783 285.11 L784.63 282.96 L786.25 280.81 L787.87 278.66 L789.5 276.51 L791.12 274.36 L792.74 272.21 L794.37 270.06 L795.99 267.92 L797.61 265.77 L799.24 263.63 L800.86 261.49 L802.48 259.34 L804.11 257.2 L805.73 255.06 L807.35 252.92 L808.98 250.78 L810.6 248.65 L812.22 246.51 L813.85 244.38 L815.47 242.24 L817.09 240.11 L818.72 237.97 L820.34 235.84 L821.96 233.71 L823.59 231.57 L825.21 229.44 L826.83 227.31 L828.46 225.17 L830.08 223.04 L831.7 220.91 L833.33 218.77 L834.95 216.64 L836.57 214.5 L838.2 212.36 L839.82 210.23 L841.44 208.09 L843.07 205.95 L844.69 203.8 L846.31 201.66 L847.94 199.51 L849.56 197.36 L851.18 195.21 L852.8 193.05 L854.43 190.9 L856.05 188.75 L857.67 186.59 L859.3 184.44 L860.92 182.29 L862.54 180.13 L864.17 177.98 L865.79 175.83 L867.41 173.68 L869.04 171.54 L870.66 169.39 L872.28 167.25 L873.91 165.12 L875.53 162.98 L877.15 160.85 L878.78 158.72 L880.4 156.6 L882.02 154.48 L883.65 152.36 L885.27 150.24 L886.89 148.11 L888.52 145.97 L890.14 143.84 L891.76 141.7 L893.39 139.57 L895.01 137.43 L896.63 135.3 L898.26 133.17 L899.88 131.05 L901.5 128.93 L903.13 126.82 L904.75 124.71 L906.37 122.61 L908 120.53 L909.62 118.45 L911.24 116.39 L912.87 114.34 L914.49 112.31 L916.11 110.29 L917.74 108.28 L919.36 106.3 L920.98 104.33 L922.6 102.37 L924.23 100.39 L925.85 98.4 L927.47 96.39 L929.1 94.38 L930.72 92.36 L932.34 90.34 L933.97 88.32 L935.59 86.31 L937.21 84.32 L938.84 82.34 L940.46 80.38 L942.08 78.45 L943.71 76.54 L945.33 74.67 L946.95 72.83 L948.58 71.04 L950.2 69.29 L951.82 67.59 L953.45 65.94 L955.07 64.35 L956.69 62.81 L958.32 61.35 L959.94 59.95 L961.56 58.63 L963.19 57.33 L964.81 56.04 L966.43 54.76 L968.06 53.49 L969.68 52.24 L971.3 51 L972.93 49.78 L974.55 48.59 L976.17 47.42 L977.8 46.28 L979.42 45.16 L981.04 44.08 L982.67 43.03 L984.29 42.01 L985.91 41.04 L987.53 40.1 L989.16 39.2 L990.78 38.35 L992.4 37.54 L994.03 36.79 L995.65 36.08 L997.27 35.43 L998.9 34.83 L1000.52 34.29 L1002.14 33.79 L1003.77 33.3 L1005.39 32.83 L1007.01 32.37 L1008.64 31.93 L1010.26 31.49 L1011.88 31.08 L1013.51 30.67 L1015.13 30.28 L1016.75 29.9 L1018.38 29.54 L1020 29.19 L1021.62 28.85 L1023.25 28.53 L1024.87 28.22 L1026.49 27.93 L1028.12 27.66 L1029.74 27.39 L1031.36 27.15 L1032.99 26.92 L1034.61 26.7 L1036.23 26.5 L1037.86 26.32 L1039.48 26.15 L1041.1 26 L1042.73 25.85 L1044.35 25.71 L1045.97 25.57 L1047.6 25.43 L1049.22 25.3 L1050.84 25.17 L1052.47 25.05 L1054.09 24.93 L1055.71 24.81 L1057.33 24.7 L1058.96 24.6 L1060.58 24.5 L1062.2 24.4 L1063.83 24.31 L1065.45 24.22 L1067.07 24.14 L1068.7 24.07 L1070.32 23.99 L1071.94 23.93 L1073.57 23.87 L1075.19 23.82 L1076.81 23.77 L1078.44 23.73 L1080.06 23.69 L1081.68 23.66 L1083.31 23.63 L1084.93 23.6 L1086.55 23.57 L1088.18 23.54 L1089.8 23.52 L1091.42 23.49 L1093.05 23.47 L1094.67 23.44 L1096.29 23.42 L1097.92 23.4 L1099.54 23.38 L1101.16 23.36 L1102.79 23.34 L1104.41 23.33 L1106.03 23.31 L1107.66 23.3 L1109.28 23.28 L1110.9 23.27 L1112.53 23.26 L1114.15 23.25 L1115.77 23.24 L1117.4 23.23 L1119.02 23.22 L1120.64 23.21 L1122.27 23.21 L1123.89 23.2 L1125.51 23.19 L1127.13 23.19 L1128.76 23.18 L1130.38 23.17 L1132 23.17 L1133.63 23.16 L1135.25 23.16 L1136.87 23.15 L1138.5 23.14 L1140.12 23.14 L1141.74 23.14 L1143.37 23.13 L1144.99 23.13 L1146.61 23.12 L1148.24 23.12 L1149.86 23.12 L1151.48 23.12 L1153.11 23.11 L1154.73 23.11 L1156.35 23.11 L1157.98 23.11 L1159.6 23.11" fill="none" stroke="#000" stroke-width="1.5"/>
<path d="M739.18 343.14 L740.8 340.99 L742.42 338.84 L744.05 336.69 L745.67 334.55 L747.29 332.4 L748.92 330.25 L750.54 328.1 L752.16 325.95 L753.79 323.8 L755.41 321.65 L757.03 319.5 L758.66 317.36 L760.28 315.21 L761.9 313.06 L763.53 310.91 L765.15 308.76 L766.77 306.61 L768.4 304.46 L770.02 302.31 L771.64 300.16 L773.27 298.01 L774.89 295.86 L776.51 293.71 L778.14 291.56 L779.76 289.41 L781.38 287.26 L783 285.11 L784.63 282.96 L786.25 280.81 L787.87 278.66 L789.5 276.51 L791.12 274.36 L792.74 272.21 L794.37 270.06 L795.99 267.92 L797.61 265.77 L799.24 263.63 L800.86 261.49 L802.48 259.34 L804.11 257.2 L805.73 255.06 L807.35 252.92 L808.98 250.78 L810.6 248.65 L812.22 246.51 L813.85 244.37 L815.47 242.24 L817.09 240.1 L818.72 237.97 L820.34 235.84 L821.96 233.7 L823.59 231.57 L825.21 229.44 L826.83 227.3 L828.46 225.17 L830.08 223.04 L831.7 220.9 L833.33 218.77 L834.95 216.63 L836.57 214.5 L838.2 212.36 L839.82 210.22 L841.44 208.09 L843.07 205.95 L844.69 203.8 L846.31 201.66 L847.94 199.51 L849.56 197.37 L851.18 195.22 L852.8 193.07 L854.43 190.91 L856.05 188.76 L857.67 186.61 L859.3 184.46 L860.92 182.31 L862.54 180.16 L864.17 178.01 L865.79 175.86 L867.41 173.72 L869.04 171.57 L870.66 169.43 L872.28 167.3 L873.91 165.16 L875.53 163.03 L877.15 160.9 L878.78 158.78 L880.4 156.66 L882.02 154.55 L883.65 152.43 L885.27 150.31 L886.89 148.18 L888.52 146.05 L890.14 143.91 L891.76 141.77 L893.39 139.64 L895.01 137.5 L896.63 135.37 L898.26 133.24 L899.88 131.12 L901.5 129 L903.13 126.89 L904.75 124.79 L906.37 122.69 L908 120.61 L909.62 118.54 L911.24 116.49 L912.87 114.45 L914.49 112.42 L916.11 110.42 L917.74 108.43 L919.36 106.46 L920.98 104.51 L922.6 102.58 L924.23 100.63 L925.85 98.67 L927.47 96.7 L929.1 94.72 L930.72 92.75 L932.34 90.77 L933.97 88.81 L935.59 86.85 L937.21 84.9 L938.84 82.97 L940.46 81.06 L942.08 79.18 L943.71 77.32 L945.33 75.49 L946.95 73.7 L948.58 71.94 L950.2 70.23 L951.82 68.56 L953.45 66.93 L955.07 65.36 L956.69 63.85 L958.32 62.39 L959.94 61 L961.56 59.67 L963.19 58.36 L964.81 57.05 L966.43 55.76 L968.06 54.48 L969.68 53.21 L971.3 51.96 L972.93 50.72 L974.55 49.51 L976.17 48.32 L977.8 47.15 L979.42 46.02 L981.04 44.91 L982.67 43.83 L984.29 42.79 L985.91 41.79 L987.53 40.83 L989.16 39.91 L990.78 39.03 L992.4 38.2 L994.03 37.42 L995.65 36.69 L997.27 36.01 L998.9 35.39 L1000.52 34.83 L1002.14 34.31 L1003.77 33.8 L1005.39 33.31 L1007.01 32.83 L1008.64 32.36 L1010.26 31.91 L1011.88 31.47 L1013.51 31.04 L1015.13 30.63 L1016.75 30.23 L1018.38 29.85 L1020 29.48 L1021.62 29.13 L1023.25 28.79 L1024.87 28.46 L1026.49 28.16 L1028.12 27.87 L1029.74 27.59 L1031.36 27.33 L1032.99 27.09 L1034.61 26.86 L1036.23 26.65 L1037.86 26.46 L1039.48 26.28 L1041.1 26.12 L1042.73 25.97 L1044.35 25.82 L1045.97 25.67 L1047.6 25.53 L1049.22 25.4 L1050.84 25.26 L1052.47 25.13 L1054.09 25.01 L1055.71 24.89 L1057.33 24.78 L1058.96 24.67 L1060.58 24.56 L1062.2 24.46 L1063.83 24.37 L1065.45 24.28 L1067.07 24.19 L1068.7 24.11 L1070.32 24.04 L1071.94 23.97 L1073.57 23.91 L1075.19 23.85 L1076.81 23.8 L1078.44 23.76 L1080.06 23.72 L1081.68 23.69 L1083.31 23.66 L1084.93 23.62 L1086.55 23.59 L1088.18 23.57 L1089.8 23.54 L1091.42 23.51 L1093.05 23.48 L1094.67 23.46 L1096.29 23.44 L1097.92 23.41 L1099.54 23.39 L1101.16 23.37 L1102.79 23.35 L1104.41 23.33 L1106.03 23.32 L1107.66 23.3 L1109.28 23.29 L1110.9 23.27 L1112.53 23.26 L1114.15 23.25 L1115.77 23.24 L1117.4 23.23 L1119.02 23.22 L1120.64 23.21 L1122.27 23.21 L1123.89 23.2 L1125.51 23.19 L1127.13 23.18 L1128.76 23.18 L1130.38 23.17 L1132 23.17 L1133.63 23.16 L1135.25 23.16 L1136.87 23.15 L1138.5 23.14 L1140.12 23.14 L1141.74 23.14 L1143.37 23.13 L1144.99 23.13 L1146.61 23.12 L1148.24 23.12 L1149.86 23.12 L1151.48 23.12 L1153.11 23.11 L1154.73 23.11 L1156.35 23.11 L1157.98 23.11 L1159.6 23.11" fill="none" stroke="#000" stroke-width="1.5"/>
<path d="M739.18 343.14 L740.8 340.99 L742.42 338.84 L744.05 336.69 L745.67 334.55 L747.29 332.4 L748.92 330.25 L750.54 328.1 L752.16 325.95 L753.79 323.8 L755.41 321.65 L757.03 319.5 L758.66 317.36 L760.28 315.21 L761.9 313.06 L763.53 310.91 L765.15 308.76 L766.77 306.61 L768.4 304.46 L770.02 302.31 L771.64 300.16 L773.27 298.01 L774.89 295.86 L776.51 293.71 L778.14 291.56 L779.76 289.41 L781.38 287.26 L783 285.11 L784.63 282.96 L786.25 280.81 L787.87 278.66 L789.5 276.51 L791.12 274.36 L792.74 272.21 L794.37 270.06 L795.99 267.92 L797.61 265.77 L799.24 263.63 L800.86 261.49 L802.48 259.34 L804.11 257.2 L805.73 255.06 L807.35 252.92 L808.98 250.78 L810.6 248.65 L812.22 246.51 L813.85 244.37 L815.47 242.24 L817.09 240.1 L818.72 237.97 L820.34 235.83 L821.96 233.7 L823.59 231.56 L825.21 229.43 L826.83 227.3 L828.46 225.16 L830.08 223.03 L831.7 220.9 L833.33 218.76 L834.95 216.63 L836.57 214.49 L838.2 212.36 L839.82 210.22 L841.44 208.09 L843.07 205.95 L844.69 203.81 L846.31 201.66 L847.94 199.52 L849.56 197.37 L851.18 195.23 L852.8 193.08 L854.43 190.93 L856.05 188.78 L857.67 186.63 L859.3 184.48 L860.92 182.33 L862.54 180.19 L864.17 178.04 L865.79 175.9 L867.41 173.76 L869.04 171.62 L870.66 169.48 L872.28 167.35 L873.91 165.21 L875.53 163.09 L877.15 160.96 L878.78 158.85 L880.4 156.73 L882.02 154.62 L883.65 152.51 L885.27 150.39 L886.89 148.26 L888.52 146.13 L890.14 143.99 L891.76 141.86 L893.39 139.72 L895.01 137.58 L896.63 135.45 L898.26 133.32 L899.88 131.2 L901.5 129.08 L903.13 126.97 L904.75 124.87 L906.37 122.78 L908 120.71 L909.62 118.65 L911.24 116.6 L912.87 114.57 L914.49 112.56 L916.11 110.57 L917.74 108.6 L919.36 106.65 L920.98 104.73 L922.6 102.82 L924.23 100.9 L925.85 98.98 L927.47 97.06 L929.1 95.13 L930.72 93.2 L932.34 91.28 L933.97 89.37 L935.59 87.47 L937.21 85.58 L938.84 83.71 L940.46 81.86 L942.08 80.03 L943.71 78.23 L945.33 76.45 L946.95 74.7 L948.58 72.99 L950.2 71.32 L951.82 69.69 L953.45 68.1 L955.07 66.55 L956.69 65.05 L958.32 63.61 L959.94 62.22 L961.56 60.88 L963.19 59.56 L964.81 58.24 L966.43 56.94 L968.06 55.64 L969.68 54.35 L971.3 53.08 L972.93 51.82 L974.55 50.58 L976.17 49.37 L977.8 48.18 L979.42 47.01 L981.04 45.88 L982.67 44.78 L984.29 43.71 L985.91 42.68 L987.53 41.68 L989.16 40.73 L990.78 39.83 L992.4 38.97 L994.03 38.15 L995.65 37.4 L997.27 36.69 L998.9 36.04 L1000.52 35.45 L1002.14 34.91 L1003.77 34.38 L1005.39 33.86 L1007.01 33.36 L1008.64 32.86 L1010.26 32.39 L1011.88 31.92 L1013.51 31.47 L1015.13 31.04 L1016.75 30.62 L1018.38 30.21 L1020 29.82 L1021.62 29.45 L1023.25 29.09 L1024.87 28.74 L1026.49 28.42 L1028.12 28.11 L1029.74 27.82 L1031.36 27.54 L1032.99 27.28 L1034.61 27.04 L1036.23 26.82 L1037.86 26.62 L1039.48 26.43 L1041.1 26.27 L1042.73 26.11 L1044.35 25.95 L1045.97 25.8 L1047.6 25.65 L1049.22 25.51 L1050.84 25.37 L1052.47 25.23 L1054.09 25.11 L1055.71 24.98 L1057.33 24.86 L1058.96 24.75 L1060.58 24.64 L1062.2 24.53 L1063.83 24.43 L1065.45 24.34 L1067.07 24.25 L1068.7 24.17 L1070.32 24.09 L1071.94 24.02 L1073.57 23.96 L1075.19 23.9 L1076.81 23.85 L1078.44 23.8 L1080.06 23.76 L1081.68 23.72 L1083.31 23.69 L1084.93 23.65 L1086.55 23.62 L1088.18 23.59 L1089.8 23.56 L1091.42 23.53 L1093.05 23.5 L1094.67 23.48 L1096.29 23.45 L1097.92 23.43 L1099.54 23.4 L1101.16 23.38 L1102.79 23.36 L1104.41 23.34 L1106.03 23.32 L1107.66 23.31 L1109.28 23.29 L1110.9 23.27 L1112.53 23.26 L1114.15 23.25 L1115.77 23.24 L1117.4 23.23 L1119.02 23.22 L1120.64 23.21 L1122.27 23.2 L1123.89 23.2 L1125.51 23.19 L1127.13 23.18 L1128.76 23.18 L1130.38 23.17 L1132 23.17 L1133.63 23.16 L1135.25 23.15 L1136.87 23.15 L1138.5 23.14 L1140.12 23.14 L1141.74 23.14 L1143.37 23.13 L1144.99 23.13 L1146.61 23.12 L1148.24 23.12 L1149.86 23.12 L1151.48 23.12 L1153.11 23.11 L1154.73 23.11 L1156.35 23.11 L1157.98 23.11 L1159.6 23.11" fill="none" stroke="#000" stroke-width="1.5"/>
<path d="M739.18 343.14 L740.8 340.99 L742.42 338.84 L744.05 336.69 L745.67 334.55 L747.29 332.4 L748.92 330.25 L750.54 328.1 L752.16 325.95 L753.79 323.8 L755.41 321.65 L757.03 319.5 L758.66 317.36 L760.28 315.21 L761.9 313.06 L763.53 310.91 L765.15 308.76 L766.77 306.61 L768.4 304.46 L770.02 302.31 L771.64 300.16 L773.27 298.01 L774.89 295.86 L776.51 293.71 L778.14 291.56 L779.76 289.41 L781.38 287.26 L783 285.11 L784.63 282.96 L786.25 280.81 L787.87 278.66 L789.5 276.51 L791.12 274.36 L792.74 272.21 L794.37 270.06 L795.99 267.92 L797.61 265.77 L799.24 263.63 L800.86 261.49 L802.48 259.34 L804.11 257.2 L805.73 255.06 L807.35 252.92 L808.98 250.78 L810.6 248.64 L812.22 246.51 L813.85 244.37 L815.47 242.23 L817.09 240.1 L818.72 237.96 L820.34 235.83 L821.96 233.69 L823.59 231.56 L825.21 229.43 L826.83 227.29 L828.46 225.16 L830.08 223.02 L831.7 220.89 L833.33 218.76 L834.95 216.62 L836.57 214.49 L838.2 212.35 L839.82 210.22 L841.44 208.08 L843.07 205.95 L844.69 203.81 L846.31 201.67 L847.94 199.53 L849.56 197.38 L851.18 195.24 L852.8 193.09 L854.43 190.95 L856.05 188.8 L857.67 186.65 L859.3 184.51 L860.92 182.36 L862.54 180.22 L864.17 178.08 L865.79 175.94 L867.41 173.8 L869.04 171.66 L870.66 169.53 L872.28 167.4 L873.91 165.28 L875.53 163.15 L877.15 161.03 L878.78 158.92 L880.4 156.81 L882.02 154.71 L883.65 152.6 L885.27 150.48 L886.89 148.35 L888.52 146.22 L890.14 144.09 L891.76 141.95 L893.39 139.81 L895.01 137.67 L896.63 135.54 L898.26 133.41 L899.88 131.29 L901.5 129.17 L903.13 127.06 L904.75 124.97 L906.37 122.88 L908 120.81 L909.62 118.76 L911.24 116.73 L912.87 114.71 L914.49 112.71 L916.11 110.74 L917.74 108.79 L919.36 106.87 L920.98 104.97 L922.6 103.1 L924.23 101.22 L925.85 99.34 L927.47 97.46 L929.1 95.59 L930.72 93.72 L932.34 91.86 L933.97 90.01 L935.59 88.18 L937.21 86.35 L938.84 84.55 L940.46 82.76 L942.08 81 L943.71 79.26 L945.33 77.54 L946.95 75.85 L948.58 74.19 L950.2 72.56 L951.82 70.97 L953.45 69.42 L955.07 67.9 L956.69 66.43 L958.32 64.99 L959.94 63.61 L961.56 62.26 L963.19 60.93 L964.81 59.61 L966.43 58.28 L968.06 56.96 L969.68 55.66 L971.3 54.36 L972.93 53.08 L974.55 51.82 L976.17 50.57 L977.8 49.35 L979.42 48.16 L981.04 46.99 L982.67 45.86 L984.29 44.75 L985.91 43.69 L987.53 42.66 L989.16 41.68 L990.78 40.74 L992.4 39.84 L994.03 39 L995.65 38.21 L997.27 37.47 L998.9 36.79 L1000.52 36.17 L1002.14 35.6 L1003.77 35.04 L1005.39 34.5 L1007.01 33.96 L1008.64 33.44 L1010.26 32.94 L1011.88 32.44 L1013.51 31.97 L1015.13 31.51 L1016.75 31.06 L1018.38 30.63 L1020 30.21 L1021.62 29.81 L1023.25 29.43 L1024.87 29.07 L1026.49 28.72 L1028.12 28.39 L1029.74 28.08 L1031.36 27.78 L1032.99 27.51 L1034.61 27.25 L1036.23 27.02 L1037.86 26.8 L1039.48 26.61 L1041.1 26.43 L1042.73 26.26 L1044.35 26.1 L1045.97 25.94 L1047.6 25.78 L1049.22 25.63 L1050.84 25.49 L1052.47 25.35 L1054.09 25.21 L1055.71 25.08 L1057.33 24.96 L1058.96 24.84 L1060.58 24.72 L1062.2 24.62 L1063.83 24.51 L1065.45 24.41 L1067.07 24.32 L1068.7 24.24 L1070.32 24.16 L1071.94 24.08 L1073.57 24.01 L1075.19 23.95 L1076.81 23.89 L1078.44 23.85 L1080.06 23.8 L1081.68 23.76 L1083.31 23.73 L1084.93 23.69 L1086.55 23.65 L1088.18 23.62 L1089.8 23.59 L1091.42 23.56 L1093.05 23.53 L1094.67 23.5 L1096.29 23.47 L1097.92 23.44 L1099.54 23.42 L1101.16 23.39 L1102.79 23.37 L1104.41 23.35 L1106.03 23.33 L1107.66 23.31 L1109.28 23.29 L1110.9 23.28 L1112.53 23.26 L1114.15 23.25 L1115.77 23.24 L1117.4 23.23 L1119.02 23.22 L1120.64 23.21 L1122.27 23.2 L1123.89 23.2 L1125.51 23.19 L1127.13 23.18 L1128.76 23.18 L1130.38 23.17 L1132 23.17 L1133.63 23.16 L1135.25 23.15 L1136.87 23.15 L1138.5 23.14 L1140.12 23.14 L1141.74 23.14 L1143.37 23.13 L1144.99 23.13 L1146.61 23.12 L1148.24 23.12 L1149.86 23.12 L1151.48 23.12 L1153.11 23.11 L1154.73 23.11 L1156.35 23.11 L1157.98 23.11 L1159.6 23.11" fill="none" stroke="#000" stroke-width="1.5"/>
<path d="M739.18 392.1 L740.8 390.07 L742.42 388.04 L744.05 386 L745.67 383.95 L747.29 381.9 L748.92 379.84 L750.54 377.77 L752.16 375.7 L753.79 373.61 L755.41 371.52 L757.03 369.42 L758.66 367.31 L760.28 365.19 L761.9 363.07 L763.53 360.93 L765.15 358.79 L766.77 356.66 L768.4 354.52 L770.02 352.38 L771.64 350.24 L773.27 348.09 L774.89 345.94 L776.51 343.78 L778.14 341.62 L779.76 339.45 L781.38 337.27 L783 335.08 L784.63 332.88 L786.25 330.67 L787.87 328.45 L789.5 326.21 L791.12 323.96 L792.74 321.7 L794.37 319.42 L795.99 317.12 L797.61 314.81 L799.24 312.48 L800.86 310.12 L802.48 307.75 L804.11 305.36 L805.73 302.95 L807.35 300.52 L808.98 298.07 L810.6 295.61 L812.22 293.13 L813.85 290.63 L815.47 288.11 L817.09 285.58 L818.72 283.04 L820.34 280.48 L821.96 277.9 L823.59 275.31 L825.21 272.71 L826.83 270.09 L828.46 267.46 L830.08 264.82 L831.7 262.16 L833.33 259.49 L834.95 256.82 L836.57 254.13 L838.2 251.43 L839.82 248.72 L841.44 246 L843.07 243.27 L844.69 240.53 L846.31 237.77 L847.94 234.99 L849.56 232.2 L851.18 229.4 L852.8 226.58 L854.43 223.74 L856.05 220.89 L857.67 218.03 L859.3 215.15 L860.92 212.26 L862.54 209.36 L864.17 206.45 L865.79 203.52 L867.41 200.58 L869.04 197.63 L870.66 194.66 L872.28 191.69 L873.91 188.7 L875.53 185.71 L877.15 182.7 L878.78 179.69 L880.4 176.66 L882.02 173.62 L883.65 170.54 L885.27 167.39 L886.89 164.2 L888.52 160.95 L890.14 157.67 L891.76 154.35 L893.39 151.01 L895.01 147.65 L896.63 144.28 L898.26 140.9 L899.88 137.52 L901.5 134.15 L903.13 130.79 L904.75 127.46 L906.37 124.15 L908 120.88 L909.62 117.65 L911.24 114.47 L912.87 111.34 L914.49 108.28 L916.11 105.28 L917.74 102.36 L919.36 99.53 L920.98 96.78 L922.6 94.1 L924.23 91.4 L925.85 88.67 L927.47 85.92 L929.1 83.17 L930.72 80.42 L932.34 77.67 L933.97 74.95 L935.59 72.25 L937.21 69.58 L938.84 66.96 L940.46 64.4 L942.08 61.9 L943.71 59.46 L945.33 57.11 L946.95 54.85 L948.58 52.68 L950.2 50.62 L951.82 48.68 L953.45 46.86 L955.07 45.17 L956.69 43.62 L958.32 42.22 L959.94 40.99 L961.56 39.91 L963.19 38.89 L964.81 37.87 L966.43 36.88 L968.06 35.9 L969.68 34.94 L971.3 34 L972.93 33.09 L974.55 32.21 L976.17 31.36 L977.8 30.54 L979.42 29.75 L981.04 29.01 L982.67 28.3 L984.29 27.64 L985.91 27.02 L987.53 26.43 L989.16 25.9 L990.78 25.43 L992.4 25.01 L994.03 24.65 L995.65 24.35 L997.27 24.11 L998.9 23.95 L1000.52 23.85 L1002.14 23.8 L1003.77 23.75 L1005.39 23.71 L1007.01 23.67 L1008.64 23.63 L1010.26 23.59 L1011.88 23.55 L1013.51 23.52 L1015.13 23.49 L1016.75 23.46 L1018.38 23.43 L1020 23.4 L1021.62 23.38 L1023.25 23.36 L1024.87 23.34 L1026.49 23.32 L1028.12 23.3 L1029.74 23.28 L1031.36 23.27 L1032.99 23.25 L1034.61 23.24 L1036.23 23.23 L1037.86 23.22 L1039.48 23.21 L1041.1 23.21 L1042.73 23.2 L1044.35 23.19 L1045.97 23.19 L1047.6 23.18 L1049.22 23.17 L1050.84 23.17 L1052.47 23.17 L1054.09 23.16 L1055.71 23.16 L1057.33 23.15 L1058.96 23.15 L1060.58 23.15 L1062.2 23.14 L1063.83 23.14 L1065.45 23.14 L1067.07 23.13 L1068.7 23.13 L1070.32 23.13 L1071.94 23.12 L1073.57 23.12 L1075.19 23.12 L1076.81 23.11 L1078.44 23.11 L1080.06 23.1 L1081.68 23.1 L1083.31 23.09 L1084.93 23.09 L1086.55 23.08 L1088.18 23.08 L1089.8 23.07 L1091.42 23.07 L1093.05 23.06 L1094.67 23.06 L1096.29 23.05 L1097.92 23.04 L1099.54 23.04 L1101.16 23.03 L1102.79 23.03 L1104.41 23.02 L1106.03 23.02 L1107.66 23.01 L1109.28 23.01 L1110.9 23.01 L1112.53 23 L1114.15 23 L1115.77 23 L1117.4 23 L1119.02 23 L1120.64 23 L1122.27 23 L1123.89 23 L1125.51 23 L1127.13 23 L1128.76 23 L1130.38 23 L1132 23 L1133.63 23 L1135.25 23 L1136.87 23 L1138.5 23 L1140.12 23 L1141.74 23 L1143.37 23 L1144.99 23 L1146.61 23 L1148.24 23 L1149.86 23 L1151.48 23 L1153.11 23 L1154.73 23 L1156.35 23 L1157.98 23 L1159.6 23" fill="none" stroke="#000" stroke-width="1.7" stroke-dasharray="1.6 1.7" stroke-dashoffset="0"/>
<path d="M739.18 393.6 L740.8 391.62 L742.42 389.64 L744.05 387.64 L745.67 385.64 L747.29 383.63 L748.92 381.61 L750.54 379.58 L752.16 377.54 L753.79 375.49 L755.41 373.43 L757.03 371.36 L758.66 369.28 L760.28 367.19 L761.9 365.08 L763.53 362.97 L765.15 360.84 L766.77 358.72 L768.4 356.58 L770.02 354.44 L771.64 352.29 L773.27 350.13 L774.89 347.97 L776.51 345.8 L778.14 343.62 L779.76 341.43 L781.38 339.23 L783 337.03 L784.63 334.81 L786.25 332.59 L787.87 330.35 L789.5 328.11 L791.12 325.86 L792.74 323.59 L794.37 321.32 L795.99 319.04 L797.61 316.74 L799.24 314.43 L800.86 312.11 L802.48 309.78 L804.11 307.44 L805.73 305.09 L807.35 302.73 L808.98 300.36 L810.6 297.98 L812.22 295.59 L813.85 293.18 L815.47 290.77 L817.09 288.34 L818.72 285.91 L820.34 283.46 L821.96 281 L823.59 278.53 L825.21 276.04 L826.83 273.55 L828.46 271.04 L830.08 268.52 L831.7 265.99 L833.33 263.44 L834.95 260.88 L836.57 258.31 L838.2 255.73 L839.82 253.13 L841.44 250.52 L843.07 247.89 L844.69 245.25 L846.31 242.6 L847.94 239.93 L849.56 237.25 L851.18 234.55 L852.8 231.84 L854.43 229.11 L856.05 226.38 L857.67 223.62 L859.3 220.86 L860.92 218.07 L862.54 215.28 L864.17 212.47 L865.79 209.64 L867.41 206.81 L869.04 203.95 L870.66 201.08 L872.28 198.2 L873.91 195.31 L875.53 192.39 L877.15 189.47 L878.78 186.53 L880.4 183.57 L882.02 180.6 L883.65 177.58 L885.27 174.51 L886.89 171.39 L888.52 168.22 L890.14 165.01 L891.76 161.78 L893.39 158.51 L895.01 155.22 L896.63 151.91 L898.26 148.6 L899.88 145.28 L901.5 141.96 L903.13 138.65 L904.75 135.35 L906.37 132.06 L908 128.8 L909.62 125.57 L911.24 122.38 L912.87 119.22 L914.49 116.11 L916.11 113.06 L917.74 110.06 L919.36 107.12 L920.98 104.25 L922.6 101.41 L924.23 98.5 L925.85 95.55 L927.47 92.56 L929.1 89.54 L930.72 86.5 L932.34 83.47 L933.97 80.44 L935.59 77.42 L937.21 74.44 L938.84 71.5 L940.46 68.62 L942.08 65.8 L943.71 63.05 L945.33 60.39 L946.95 57.83 L948.58 55.38 L950.2 53.06 L951.82 50.86 L953.45 48.81 L955.07 46.92 L956.69 45.19 L958.32 43.64 L959.94 42.28 L961.56 41.12 L963.19 40.01 L964.81 38.93 L966.43 37.86 L968.06 36.81 L969.68 35.78 L971.3 34.77 L972.93 33.8 L974.55 32.85 L976.17 31.94 L977.8 31.06 L979.42 30.22 L981.04 29.42 L982.67 28.67 L984.29 27.96 L985.91 27.31 L987.53 26.71 L989.16 26.17 L990.78 25.68 L992.4 25.25 L994.03 24.88 L995.65 24.58 L997.27 24.34 L998.9 24.17 L1000.52 24.07 L1002.14 24.02 L1003.77 23.98 L1005.39 23.93 L1007.01 23.89 L1008.64 23.85 L1010.26 23.81 L1011.88 23.78 L1013.51 23.74 L1015.13 23.71 L1016.75 23.68 L1018.38 23.65 L1020 23.63 L1021.62 23.6 L1023.25 23.58 L1024.87 23.56 L1026.49 23.54 L1028.12 23.52 L1029.74 23.51 L1031.36 23.49 L1032.99 23.48 L1034.61 23.47 L1036.23 23.46 L1037.86 23.45 L1039.48 23.44 L1041.1 23.43 L1042.73 23.42 L1044.35 23.42 L1045.97 23.41 L1047.6 23.41 L1049.22 23.4 L1050.84 23.39 L1052.47 23.39 L1054.09 23.39 L1055.71 23.38 L1057.33 23.38 L1058.96 23.37 L1060.58 23.37 L1062.2 23.37 L1063.83 23.36 L1065.45 23.36 L1067.07 23.36 L1068.7 23.35 L1070.32 23.35 L1071.94 23.35 L1073.57 23.34 L1075.19 23.34 L1076.81 23.34 L1078.44 23.33 L1080.06 23.33 L1081.68 23.32 L1083.31 23.32 L1084.93 23.31 L1086.55 23.31 L1088.18 23.3 L1089.8 23.3 L1091.42 23.29 L1093.05 23.29 L1094.67 23.28 L1096.29 23.27 L1097.92 23.27 L1099.54 23.26 L1101.16 23.26 L1102.79 23.25 L1104.41 23.25 L1106.03 23.24 L1107.66 23.24 L1109.28 23.24 L1110.9 23.23 L1112.53 23.23 L1114.15 23.23 L1115.77 23.22 L1117.4 23.22 L1119.02 23.22 L1120.64 23.22 L1122.27 23.22 L1123.89 23.22 L1125.51 23.22 L1127.13 23.22 L1128.76 23.22 L1130.38 23.22 L1132 23.22 L1133.63 23.22 L1135.25 23.22 L1136.87 23.22 L1138.5 23.22 L1140.12 23.22 L1141.74 23.22 L1143.37 23.22 L1144.99 23.22 L1146.61 23.22 L1148.24 23.22 L1149.86 23.22 L1151.48 23.22 L1153.11 23.22 L1154.73 23.22 L1156.35 23.22 L1157.98 23.22 L1159.6 23.22" fill="none" stroke="#000" stroke-width="1.7" stroke-dasharray="1.6 1.7" stroke-dashoffset="1.65"/>
<path d="M739.18 392.1 L740.8 390.15 L742.42 388.19 L744.05 386.22 L745.67 384.24 L747.29 382.25 L748.92 380.26 L750.54 378.25 L752.16 376.23 L753.79 374.2 L755.41 372.16 L757.03 370.11 L758.66 368.05 L760.28 365.98 L761.9 363.89 L763.53 361.79 L765.15 359.68 L766.77 357.55 L768.4 355.41 L770.02 353.26 L771.64 351.1 L773.27 348.92 L774.89 346.74 L776.51 344.55 L778.14 342.35 L779.76 340.14 L781.38 337.93 L783 335.7 L784.63 333.48 L786.25 331.25 L787.87 329.01 L789.5 326.77 L791.12 324.53 L792.74 322.29 L794.37 320.04 L795.99 317.79 L797.61 315.55 L799.24 313.3 L800.86 311.06 L802.48 308.82 L804.11 306.58 L805.73 304.35 L807.35 302.12 L808.98 299.89 L810.6 297.67 L812.22 295.44 L813.85 293.21 L815.47 290.98 L817.09 288.75 L818.72 286.51 L820.34 284.27 L821.96 282.03 L823.59 279.77 L825.21 277.51 L826.83 275.24 L828.46 272.95 L830.08 270.66 L831.7 268.35 L833.33 266.04 L834.95 263.7 L836.57 261.35 L838.2 258.99 L839.82 256.6 L841.44 254.2 L843.07 251.78 L844.69 249.34 L846.31 246.88 L847.94 244.4 L849.56 241.91 L851.18 239.4 L852.8 236.87 L854.43 234.33 L856.05 231.78 L857.67 229.21 L859.3 226.63 L860.92 224.04 L862.54 221.45 L864.17 218.84 L865.79 216.22 L867.41 213.6 L869.04 210.97 L870.66 208.33 L872.28 205.69 L873.91 203.04 L875.53 200.39 L877.15 197.74 L878.78 195.09 L880.4 192.43 L882.02 189.78 L883.65 187.13 L885.27 184.49 L886.89 181.86 L888.52 179.23 L890.14 176.6 L891.76 173.97 L893.39 171.33 L895.01 168.69 L896.63 166.05 L898.26 163.4 L899.88 160.73 L901.5 158.05 L903.13 155.36 L904.75 152.66 L906.37 149.93 L908 147.18 L909.62 144.41 L911.24 141.62 L912.87 138.8 L914.49 135.95 L916.11 133.08 L917.74 130.17 L919.36 127.22 L920.98 124.24 L922.6 121.18 L924.23 117.93 L925.85 114.48 L927.47 110.88 L929.1 107.14 L930.72 103.29 L932.34 99.35 L933.97 95.35 L935.59 91.31 L937.21 87.26 L938.84 83.22 L940.46 79.21 L942.08 75.27 L943.71 71.41 L945.33 67.66 L946.95 64.05 L948.58 60.59 L950.2 57.32 L951.82 54.26 L953.45 51.44 L955.07 48.87 L956.69 46.58 L958.32 44.6 L959.94 42.95 L961.56 41.65 L963.19 40.45 L964.81 39.28 L966.43 38.13 L968.06 37.02 L969.68 35.93 L971.3 34.87 L972.93 33.85 L974.55 32.87 L976.17 31.92 L977.8 31.02 L979.42 30.16 L981.04 29.35 L982.67 28.58 L984.29 27.87 L985.91 27.2 L987.53 26.57 L989.16 26.01 L990.78 25.5 L992.4 25.06 L994.03 24.68 L995.65 24.37 L997.27 24.12 L998.9 23.95 L1000.52 23.85 L1002.14 23.8 L1003.77 23.75 L1005.39 23.71 L1007.01 23.66 L1008.64 23.63 L1010.26 23.59 L1011.88 23.55 L1013.51 23.52 L1015.13 23.49 L1016.75 23.46 L1018.38 23.43 L1020 23.4 L1021.62 23.38 L1023.25 23.36 L1024.87 23.34 L1026.49 23.32 L1028.12 23.3 L1029.74 23.28 L1031.36 23.27 L1032.99 23.25 L1034.61 23.24 L1036.23 23.23 L1037.86 23.22 L1039.48 23.21 L1041.1 23.21 L1042.73 23.2 L1044.35 23.19 L1045.97 23.19 L1047.6 23.18 L1049.22 23.17 L1050.84 23.17 L1052.47 23.17 L1054.09 23.16 L1055.71 23.16 L1057.33 23.15 L1058.96 23.15 L1060.58 23.15 L1062.2 23.14 L1063.83 23.14 L1065.45 23.14 L1067.07 23.13 L1068.7 23.13 L1070.32 23.13 L1071.94 23.12 L1073.57 23.12 L1075.19 23.12 L1076.81 23.11 L1078.44 23.11 L1080.06 23.1 L1081.68 23.1 L1083.31 23.09 L1084.93 23.09 L1086.55 23.08 L1088.18 23.08 L1089.8 23.07 L1091.42 23.07 L1093.05 23.06 L1094.67 23.06 L1096.29 23.05 L1097.92 23.04 L1099.54 23.04 L1101.16 23.03 L1102.79 23.03 L1104.41 23.02 L1106.03 23.02 L1107.66 23.01 L1109.28 23.01 L1110.9 23.01 L1112.53 23 L1114.15 23 L1115.77 23 L1117.4 23 L1119.02 23 L1120.64 23 L1122.27 23 L1123.89 23 L1125.51 23 L1127.13 23 L1128.76 23 L1130.38 23 L1132 23 L1133.63 23 L1135.25 23 L1136.87 23 L1138.5 23 L1140.12 23 L1141.74 23 L1143.37 23 L1144.99 23 L1146.61 23 L1148.24 23 L1149.86 23 L1151.48 23 L1153.11 23 L1154.73 23 L1156.35 23 L1157.98 23 L1159.6 23" fill="none" stroke="#000" stroke-width="1.7" stroke-dasharray="1.6 1.7" stroke-dashoffset="0"/>
<path d="M739.18 393.6 L740.8 391.66 L742.42 389.72 L744.05 387.77 L745.67 385.8 L747.29 383.83 L748.92 381.85 L750.54 379.85 L752.16 377.85 L753.79 375.84 L755.41 373.81 L757.03 371.78 L758.66 369.73 L760.28 367.67 L761.9 365.59 L763.53 363.51 L765.15 361.4 L766.77 359.28 L768.4 357.14 L770.02 354.98 L771.64 352.81 L773.27 350.63 L774.89 348.44 L776.51 346.24 L778.14 344.03 L779.76 341.81 L781.38 339.59 L783 337.36 L784.63 335.14 L786.25 332.91 L787.87 330.68 L789.5 328.45 L791.12 326.22 L792.74 324 L794.37 321.79 L795.99 319.58 L797.61 317.38 L799.24 315.2 L800.86 313.02 L802.48 310.85 L804.11 308.7 L805.73 306.56 L807.35 304.44 L808.98 302.32 L810.6 300.21 L812.22 298.1 L813.85 296 L815.47 293.91 L817.09 291.82 L818.72 289.73 L820.34 287.64 L821.96 285.54 L823.59 283.45 L825.21 281.35 L826.83 279.24 L828.46 277.13 L830.08 275.01 L831.7 272.89 L833.33 270.75 L834.95 268.59 L836.57 266.43 L838.2 264.25 L839.82 262.05 L841.44 259.84 L843.07 257.61 L844.69 255.37 L846.31 253.12 L847.94 250.86 L849.56 248.6 L851.18 246.32 L852.8 244.04 L854.43 241.75 L856.05 239.44 L857.67 237.13 L859.3 234.81 L860.92 232.48 L862.54 230.14 L864.17 227.79 L865.79 225.43 L867.41 223.07 L869.04 220.69 L870.66 218.3 L872.28 215.9 L873.91 213.49 L875.53 211.08 L877.15 208.65 L878.78 206.21 L880.4 203.76 L882.02 201.3 L883.65 198.85 L885.27 196.41 L886.89 193.97 L888.52 191.53 L890.14 189.1 L891.76 186.66 L893.39 184.22 L895.01 181.77 L896.63 179.31 L898.26 176.84 L899.88 174.35 L901.5 171.84 L903.13 169.3 L904.75 166.74 L906.37 164.16 L908 161.54 L909.62 158.89 L911.24 156.2 L912.87 153.47 L914.49 150.7 L916.11 147.88 L917.74 145.02 L919.36 142.1 L920.98 139.13 L922.6 136.04 L924.23 132.71 L925.85 129.17 L927.47 125.45 L929.1 121.56 L930.72 117.54 L932.34 113.41 L933.97 109.19 L935.59 104.92 L937.21 100.62 L938.84 96.31 L940.46 92.01 L942.08 87.76 L943.71 83.59 L945.33 79.51 L946.95 75.54 L948.58 71.73 L950.2 68.09 L951.82 64.65 L953.45 61.43 L955.07 58.46 L956.69 55.77 L958.32 53.38 L959.94 51.31 L961.56 49.59 L963.19 47.96 L964.81 46.36 L966.43 44.78 L968.06 43.23 L969.68 41.71 L971.3 40.22 L972.93 38.77 L974.55 37.37 L976.17 36.02 L977.8 34.71 L979.42 33.46 L981.04 32.27 L982.67 31.15 L984.29 30.09 L985.91 29.11 L987.53 28.22 L989.16 27.41 L990.78 26.68 L992.4 26.04 L994.03 25.49 L995.65 25.03 L997.27 24.68 L998.9 24.43 L1000.52 24.29 L1002.14 24.22 L1003.77 24.16 L1005.39 24.1 L1007.01 24.04 L1008.64 23.99 L1010.26 23.94 L1011.88 23.89 L1013.51 23.84 L1015.13 23.8 L1016.75 23.76 L1018.38 23.72 L1020 23.69 L1021.62 23.65 L1023.25 23.62 L1024.87 23.6 L1026.49 23.57 L1028.12 23.55 L1029.74 23.52 L1031.36 23.51 L1032.99 23.49 L1034.61 23.47 L1036.23 23.46 L1037.86 23.45 L1039.48 23.44 L1041.1 23.43 L1042.73 23.42 L1044.35 23.42 L1045.97 23.41 L1047.6 23.4 L1049.22 23.4 L1050.84 23.39 L1052.47 23.39 L1054.09 23.38 L1055.71 23.38 L1057.33 23.38 L1058.96 23.37 L1060.58 23.37 L1062.2 23.37 L1063.83 23.36 L1065.45 23.36 L1067.07 23.36 L1068.7 23.35 L1070.32 23.35 L1071.94 23.35 L1073.57 23.34 L1075.19 23.34 L1076.81 23.34 L1078.44 23.33 L1080.06 23.33 L1081.68 23.32 L1083.31 23.32 L1084.93 23.31 L1086.55 23.31 L1088.18 23.3 L1089.8 23.3 L1091.42 23.29 L1093.05 23.29 L1094.67 23.28 L1096.29 23.27 L1097.92 23.27 L1099.54 23.26 L1101.16 23.26 L1102.79 23.25 L1104.41 23.25 L1106.03 23.24 L1107.66 23.24 L1109.28 23.24 L1110.9 23.23 L1112.53 23.23 L1114.15 23.23 L1115.77 23.22 L1117.4 23.22 L1119.02 23.22 L1120.64 23.22 L1122.27 23.22 L1123.89 23.22 L1125.51 23.22 L1127.13 23.22 L1128.76 23.22 L1130.38 23.22 L1132 23.22 L1133.63 23.22 L1135.25 23.22 L1136.87 23.22 L1138.5 23.22 L1140.12 23.22 L1141.74 23.22 L1143.37 23.22 L1144.99 23.22 L1146.61 23.22 L1148.24 23.22 L1149.86 23.22 L1151.48 23.22 L1153.11 23.22 L1154.73 23.22 L1156.35 23.22 L1157.98 23.22 L1159.6 23.22" fill="none" stroke="#000" stroke-width="1.7" stroke-dasharray="1.6 1.7" stroke-dashoffset="1.65"/>
<path d="M739.18 418.77 L741.29 415.97 L743.4 413.18 L745.52 410.38 L747.63 407.59 L749.74 404.79 L751.85 401.99 L753.97 399.2 L756.08 396.4 L758.19 393.61 L760.3 390.81 L762.42 388.01 L764.53 385.22 L766.64 382.42 L768.75 379.63 L770.87 376.83 L772.98 374.04 L775.09 371.24 L777.21 368.45 L779.32 365.65 L781.43 362.86 L783.54 360.06 L785.66 357.27 L787.77 354.47 L789.88 351.68 L791.99 348.88 L794.11 346.09 L796.22 343.3 L798.33 340.5 L800.44 337.71 L802.56 334.91 L804.67 332.12 L806.78 329.33 L808.9 326.54 L811.01 323.74 L813.12 320.95 L815.23 318.16 L817.35 315.37 L819.46 312.57 L821.57 309.78 L823.68 306.99 L825.8 304.2 L827.91 301.41 L830.02 298.62 L832.13 295.83 L834.25 293.04 L836.36 290.25 L838.47 287.46 L840.59 284.68 L842.7 281.89 L844.81 279.1 L846.92 276.32 L849.04 273.53 L851.15 270.75 L853.26 267.96 L855.37 265.18 L857.49 262.4 L859.6 259.62 L861.71 256.83 L863.83 254.06 L865.94 251.28 L868.05 248.5 L870.16 245.72 L872.28 242.95 L874.39 240.18 L876.5 237.4 L878.61 234.63 L880.73 231.86 L882.84 229.1 L884.95 226.33 L887.06 223.57 L889.18 220.81 L891.29 218.05 L893.4 215.29 L895.52 212.54 L897.63 209.79 L899.74 207.04 L901.85 204.29 L903.97 201.55 L906.08 198.81 L908.19 196.07 L910.3 193.34 L912.42 190.61 L914.53 187.89 L916.64 185.17 L918.75 182.46 L920.87 179.75 L922.98 177.04 L925.09 174.34 L927.21 171.65 L929.32 168.97 L931.43 166.29 L933.54 163.61 L935.66 160.95 L937.77 158.29 L939.88 155.64 L941.99 153 L944.11 150.37 L946.22 147.75 L948.33 145.14 L950.44 142.54 L952.56 139.95 L954.67 137.37 L956.78 134.81 L958.9 132.26 L961.01 129.73 L963.12 127.2 L965.23 124.7 L967.35 122.21 L969.46 119.74 L971.57 117.28 L973.68 114.85 L975.8 112.43 L977.91 110.04 L980.02 107.67 L982.14 105.32 L984.25 102.99 L986.36 100.69 L988.47 98.41 L990.59 96.16 L992.7 93.93 L994.81 91.74 L996.92 89.57 L999.04 87.44 L1001.15 85.33 L1003.26 83.26 L1005.37 81.22 L1007.49 79.22 L1009.6 77.25 L1011.71 75.32 L1013.83 73.42 L1015.94 71.57 L1018.05 69.75 L1020.16 67.97 L1022.28 66.23 L1024.39 64.53 L1026.5 62.87 L1028.61 61.25 L1030.73 59.68 L1032.84 58.15 L1034.95 56.66 L1037.06 55.21 L1039.18 53.81 L1041.29 52.45 L1043.4 51.13 L1045.52 49.85 L1047.63 48.62 L1049.74 47.43 L1051.85 46.28 L1053.97 45.17 L1056.08 44.1 L1058.19 43.07 L1060.3 42.08 L1062.42 41.14 L1064.53 40.22 L1066.64 39.35 L1068.75 38.51 L1070.87 37.71 L1072.98 36.94 L1075.09 36.21 L1077.21 35.51 L1079.32 34.84 L1081.43 34.2 L1083.54 33.59 L1085.66 33.01 L1087.77 32.46 L1089.88 31.93 L1091.99 31.43 L1094.11 30.95 L1096.22 30.5 L1098.33 30.07 L1100.45 29.66 L1102.56 29.28 L1104.67 28.91 L1106.78 28.56 L1108.9 28.23 L1111.01 27.92 L1113.12 27.63 L1115.23 27.35 L1117.35 27.08 L1119.46 26.83 L1121.57 26.59 L1123.68 26.37 L1125.8 26.16 L1127.91 25.96 L1130.02 25.77 L1132.14 25.59 L1134.25 25.42 L1136.36 25.27 L1138.47 25.12 L1140.59 24.97 L1142.7 24.84 L1144.81 24.71 L1146.92 24.6 L1149.04 24.48 L1151.15 24.38 L1153.26 24.28 L1155.37 24.19 L1157.49 24.1 L1159.6 24.01" fill="none" stroke="#000" stroke-width="1.6" stroke-dasharray="9.5 5" stroke-dashoffset="0.0"/>
<path d="M739.18 418.92 L741.29 416.12 L743.4 413.33 L745.52 410.53 L747.63 407.74 L749.74 404.94 L751.85 402.14 L753.97 399.35 L756.08 396.55 L758.19 393.76 L760.3 390.96 L762.42 388.16 L764.53 385.37 L766.64 382.57 L768.75 379.78 L770.87 376.98 L772.98 374.19 L775.09 371.39 L777.21 368.6 L779.32 365.8 L781.43 363.01 L783.54 360.21 L785.66 357.42 L787.77 354.62 L789.88 351.83 L791.99 349.03 L794.11 346.24 L796.22 343.45 L798.33 340.65 L800.44 337.86 L802.56 335.06 L804.67 332.27 L806.78 329.48 L808.9 326.69 L811.01 323.89 L813.12 321.1 L815.23 318.31 L817.35 315.52 L819.46 312.72 L821.57 309.93 L823.68 307.14 L825.8 304.35 L827.91 301.56 L830.02 298.77 L832.13 295.98 L834.25 293.19 L836.36 290.4 L838.47 287.61 L840.59 284.83 L842.7 282.04 L844.81 279.25 L846.92 276.47 L849.04 273.68 L851.15 270.9 L853.26 268.11 L855.37 265.33 L857.49 262.55 L859.6 259.77 L861.71 256.98 L863.83 254.21 L865.94 251.43 L868.05 248.65 L870.16 245.87 L872.28 243.1 L874.39 240.33 L876.5 237.55 L878.61 234.78 L880.73 232.01 L882.84 229.25 L884.95 226.48 L887.06 223.72 L889.18 220.96 L891.29 218.2 L893.4 215.44 L895.52 212.69 L897.63 209.94 L899.74 207.19 L901.85 204.44 L903.97 201.7 L906.08 198.96 L908.19 196.22 L910.3 193.49 L912.42 190.76 L914.53 188.04 L916.64 185.32 L918.75 182.61 L920.87 179.9 L922.98 177.19 L925.09 174.49 L927.21 171.8 L929.32 169.12 L931.43 166.44 L933.54 163.76 L935.66 161.1 L937.77 158.44 L939.88 155.79 L941.99 153.15 L944.11 150.52 L946.22 147.9 L948.33 145.29 L950.44 142.69 L952.56 140.1 L954.67 137.52 L956.78 134.96 L958.9 132.41 L961.01 129.88 L963.12 127.35 L965.23 124.85 L967.35 122.36 L969.46 119.89 L971.57 117.43 L973.68 115 L975.8 112.58 L977.91 110.19 L980.02 107.82 L982.14 105.47 L984.25 103.14 L986.36 100.84 L988.47 98.56 L990.59 96.31 L992.7 94.08 L994.81 91.89 L996.92 89.72 L999.04 87.59 L1001.15 85.48 L1003.26 83.41 L1005.37 81.37 L1007.49 79.37 L1009.6 77.4 L1011.71 75.47 L1013.83 73.57 L1015.94 71.72 L1018.05 69.9 L1020.16 68.12 L1022.28 66.38 L1024.39 64.68 L1026.5 63.02 L1028.61 61.4 L1030.73 59.83 L1032.84 58.3 L1034.95 56.81 L1037.06 55.36 L1039.18 53.96 L1041.29 52.6 L1043.4 51.28 L1045.52 50 L1047.63 48.77 L1049.74 47.58 L1051.85 46.43 L1053.97 45.32 L1056.08 44.25 L1058.19 43.22 L1060.3 42.23 L1062.42 41.29 L1064.53 40.37 L1066.64 39.5 L1068.75 38.66 L1070.87 37.86 L1072.98 37.09 L1075.09 36.36 L1077.21 35.66 L1079.32 34.99 L1081.43 34.35 L1083.54 33.74 L1085.66 33.16 L1087.77 32.61 L1089.88 32.08 L1091.99 31.58 L1094.11 31.1 L1096.22 30.65 L1098.33 30.22 L1100.45 29.81 L1102.56 29.43 L1104.67 29.06 L1106.78 28.71 L1108.9 28.38 L1111.01 28.07 L1113.12 27.78 L1115.23 27.5 L1117.35 27.23 L1119.46 26.98 L1121.57 26.74 L1123.68 26.52 L1125.8 26.31 L1127.91 26.11 L1130.02 25.92 L1132.14 25.74 L1134.25 25.57 L1136.36 25.42 L1138.47 25.27 L1140.59 25.12 L1142.7 24.99 L1144.81 24.86 L1146.92 24.75 L1149.04 24.63 L1151.15 24.53 L1153.26 24.43 L1155.37 24.34 L1157.49 24.25 L1159.6 24.16" fill="none" stroke="#000" stroke-width="1.6" stroke-dasharray="9.5 5" stroke-dashoffset="1.0"/>
<path d="M739.18 419.07 L741.29 416.27 L743.4 413.48 L745.52 410.68 L747.63 407.89 L749.74 405.09 L751.85 402.29 L753.97 399.5 L756.08 396.7 L758.19 393.91 L760.3 391.11 L762.42 388.31 L764.53 385.52 L766.64 382.72 L768.75 379.93 L770.87 377.13 L772.98 374.34 L775.09 371.54 L777.21 368.75 L779.32 365.95 L781.43 363.16 L783.54 360.36 L785.66 357.57 L787.77 354.77 L789.88 351.98 L791.99 349.18 L794.11 346.39 L796.22 343.6 L798.33 340.8 L800.44 338.01 L802.56 335.21 L804.67 332.42 L806.78 329.63 L808.9 326.84 L811.01 324.04 L813.12 321.25 L815.23 318.46 L817.35 315.67 L819.46 312.87 L821.57 310.08 L823.68 307.29 L825.8 304.5 L827.91 301.71 L830.02 298.92 L832.13 296.13 L834.25 293.34 L836.36 290.55 L838.47 287.76 L840.59 284.98 L842.7 282.19 L844.81 279.4 L846.92 276.62 L849.04 273.83 L851.15 271.05 L853.26 268.26 L855.37 265.48 L857.49 262.7 L859.6 259.92 L861.71 257.13 L863.83 254.36 L865.94 251.58 L868.05 248.8 L870.16 246.02 L872.28 243.25 L874.39 240.48 L876.5 237.7 L878.61 234.93 L880.73 232.16 L882.84 229.4 L884.95 226.63 L887.06 223.87 L889.18 221.11 L891.29 218.35 L893.4 215.59 L895.52 212.84 L897.63 210.09 L899.74 207.34 L901.85 204.59 L903.97 201.85 L906.08 199.11 L908.19 196.37 L910.3 193.64 L912.42 190.91 L914.53 188.19 L916.64 185.47 L918.75 182.76 L920.87 180.05 L922.98 177.34 L925.09 174.64 L927.21 171.95 L929.32 169.27 L931.43 166.59 L933.54 163.91 L935.66 161.25 L937.77 158.59 L939.88 155.94 L941.99 153.3 L944.11 150.67 L946.22 148.05 L948.33 145.44 L950.44 142.84 L952.56 140.25 L954.67 137.67 L956.78 135.11 L958.9 132.56 L961.01 130.03 L963.12 127.5 L965.23 125 L967.35 122.51 L969.46 120.04 L971.57 117.58 L973.68 115.15 L975.8 112.73 L977.91 110.34 L980.02 107.97 L982.14 105.62 L984.25 103.29 L986.36 100.99 L988.47 98.71 L990.59 96.46 L992.7 94.23 L994.81 92.04 L996.92 89.87 L999.04 87.74 L1001.15 85.63 L1003.26 83.56 L1005.37 81.52 L1007.49 79.52 L1009.6 77.55 L1011.71 75.62 L1013.83 73.72 L1015.94 71.87 L1018.05 70.05 L1020.16 68.27 L1022.28 66.53 L1024.39 64.83 L1026.5 63.17 L1028.61 61.55 L1030.73 59.98 L1032.84 58.45 L1034.95 56.96 L1037.06 55.51 L1039.18 54.11 L1041.29 52.75 L1043.4 51.43 L1045.52 50.15 L1047.63 48.92 L1049.74 47.73 L1051.85 46.58 L1053.97 45.47 L1056.08 44.4 L1058.19 43.37 L1060.3 42.38 L1062.42 41.44 L1064.53 40.52 L1066.64 39.65 L1068.75 38.81 L1070.87 38.01 L1072.98 37.24 L1075.09 36.51 L1077.21 35.81 L1079.32 35.14 L1081.43 34.5 L1083.54 33.89 L1085.66 33.31 L1087.77 32.76 L1089.88 32.23 L1091.99 31.73 L1094.11 31.25 L1096.22 30.8 L1098.33 30.37 L1100.45 29.96 L1102.56 29.58 L1104.67 29.21 L1106.78 28.86 L1108.9 28.53 L1111.01 28.22 L1113.12 27.93 L1115.23 27.65 L1117.35 27.38 L1119.46 27.13 L1121.57 26.89 L1123.68 26.67 L1125.8 26.46 L1127.91 26.26 L1130.02 26.07 L1132.14 25.89 L1134.25 25.72 L1136.36 25.57 L1138.47 25.42 L1140.59 25.27 L1142.7 25.14 L1144.81 25.01 L1146.92 24.9 L1149.04 24.78 L1151.15 24.68 L1153.26 24.58 L1155.37 24.49 L1157.49 24.4 L1159.6 24.31" fill="none" stroke="#000" stroke-width="1.6" stroke-dasharray="9.5 5" stroke-dashoffset="2.0"/>
<path d="M739.18 419.22 L741.29 416.42 L743.4 413.63 L745.52 410.83 L747.63 408.04 L749.74 405.24 L751.85 402.44 L753.97 399.65 L756.08 396.85 L758.19 394.06 L760.3 391.26 L762.42 388.46 L764.53 385.67 L766.64 382.87 L768.75 380.08 L770.87 377.28 L772.98 374.49 L775.09 371.69 L777.21 368.9 L779.32 366.1 L781.43 363.31 L783.54 360.51 L785.66 357.72 L787.77 354.92 L789.88 352.13 L791.99 349.33 L794.11 346.54 L796.22 343.75 L798.33 340.95 L800.44 338.16 L802.56 335.36 L804.67 332.57 L806.78 329.78 L808.9 326.99 L811.01 324.19 L813.12 321.4 L815.23 318.61 L817.35 315.82 L819.46 313.02 L821.57 310.23 L823.68 307.44 L825.8 304.65 L827.91 301.86 L830.02 299.07 L832.13 296.28 L834.25 293.49 L836.36 290.7 L838.47 287.91 L840.59 285.13 L842.7 282.34 L844.81 279.55 L846.92 276.77 L849.04 273.98 L851.15 271.2 L853.26 268.41 L855.37 265.63 L857.49 262.85 L859.6 260.07 L861.71 257.28 L863.83 254.51 L865.94 251.73 L868.05 248.95 L870.16 246.17 L872.28 243.4 L874.39 240.63 L876.5 237.85 L878.61 235.08 L880.73 232.31 L882.84 229.55 L884.95 226.78 L887.06 224.02 L889.18 221.26 L891.29 218.5 L893.4 215.74 L895.52 212.99 L897.63 210.24 L899.74 207.49 L901.85 204.74 L903.97 202 L906.08 199.26 L908.19 196.52 L910.3 193.79 L912.42 191.06 L914.53 188.34 L916.64 185.62 L918.75 182.91 L920.87 180.2 L922.98 177.49 L925.09 174.79 L927.21 172.1 L929.32 169.42 L931.43 166.74 L933.54 164.06 L935.66 161.4 L937.77 158.74 L939.88 156.09 L941.99 153.45 L944.11 150.82 L946.22 148.2 L948.33 145.59 L950.44 142.99 L952.56 140.4 L954.67 137.82 L956.78 135.26 L958.9 132.71 L961.01 130.18 L963.12 127.65 L965.23 125.15 L967.35 122.66 L969.46 120.19 L971.57 117.73 L973.68 115.3 L975.8 112.88 L977.91 110.49 L980.02 108.12 L982.14 105.77 L984.25 103.44 L986.36 101.14 L988.47 98.86 L990.59 96.61 L992.7 94.38 L994.81 92.19 L996.92 90.02 L999.04 87.89 L1001.15 85.78 L1003.26 83.71 L1005.37 81.67 L1007.49 79.67 L1009.6 77.7 L1011.71 75.77 L1013.83 73.87 L1015.94 72.02 L1018.05 70.2 L1020.16 68.42 L1022.28 66.68 L1024.39 64.98 L1026.5 63.32 L1028.61 61.7 L1030.73 60.13 L1032.84 58.6 L1034.95 57.11 L1037.06 55.66 L1039.18 54.26 L1041.29 52.9 L1043.4 51.58 L1045.52 50.3 L1047.63 49.07 L1049.74 47.88 L1051.85 46.73 L1053.97 45.62 L1056.08 44.55 L1058.19 43.52 L1060.3 42.53 L1062.42 41.59 L1064.53 40.67 L1066.64 39.8 L1068.75 38.96 L1070.87 38.16 L1072.98 37.39 L1075.09 36.66 L1077.21 35.96 L1079.32 35.29 L1081.43 34.65 L1083.54 34.04 L1085.66 33.46 L1087.77 32.91 L1089.88 32.38 L1091.99 31.88 L1094.11 31.4 L1096.22 30.95 L1098.33 30.52 L1100.45 30.11 L1102.56 29.73 L1104.67 29.36 L1106.78 29.01 L1108.9 28.68 L1111.01 28.37 L1113.12 28.08 L1115.23 27.8 L1117.35 27.53 L1119.46 27.28 L1121.57 27.04 L1123.68 26.82 L1125.8 26.61 L1127.91 26.41 L1130.02 26.22 L1132.14 26.04 L1134.25 25.87 L1136.36 25.72 L1138.47 25.57 L1140.59 25.42 L1142.7 25.29 L1144.81 25.16 L1146.92 25.05 L1149.04 24.93 L1151.15 24.83 L1153.26 24.73 L1155.37 24.64 L1157.49 24.55 L1159.6 24.46" fill="none" stroke="#000" stroke-width="1.6" stroke-dasharray="9.5 5" stroke-dashoffset="3.0"/>
<circle cx="762.6" cy="312.14" r="6.69" fill="none" stroke="#000" stroke-width="0.8"/>
<circle cx="802.3" cy="259.59" r="6.69" fill="none" stroke="#000" stroke-width="0.8"/>
<circle cx="842" cy="207.35" r="6.69" fill="none" stroke="#000" stroke-width="0.8"/>
<circle cx="881.7" cy="154.91" r="6.69" fill="none" stroke="#000" stroke-width="0.8"/>
<circle cx="921.4" cy="103.83" r="6.69" fill="none" stroke="#000" stroke-width="0.8"/>
<circle cx="961.1" cy="59" r="6.69" fill="none" stroke="#000" stroke-width="0.8"/>
<circle cx="1000.8" cy="34.2" r="6.69" fill="none" stroke="#000" stroke-width="0.8"/>
<circle cx="1040.5" cy="26.05" r="6.69" fill="none" stroke="#000" stroke-width="0.8"/>
<circle cx="1080.2" cy="23.69" r="6.69" fill="none" stroke="#000" stroke-width="0.8"/>
<circle cx="1119.9" cy="23.22" r="6.69" fill="none" stroke="#000" stroke-width="0.8"/>
<path d="M756.78 315.56 L768.42 315.56 L762.6 305.28 Z" fill="none" stroke="#000" stroke-width="0.8"/>
<path d="M796.48 263.01 L808.12 263.01 L802.3 252.73 Z" fill="none" stroke="#000" stroke-width="0.8"/>
<path d="M836.18 210.78 L847.82 210.78 L842 200.5 Z" fill="none" stroke="#000" stroke-width="0.8"/>
<path d="M875.88 158.4 L887.52 158.4 L881.7 148.11 Z" fill="none" stroke="#000" stroke-width="0.8"/>
<path d="M915.58 107.44 L927.22 107.44 L921.4 97.16 Z" fill="none" stroke="#000" stroke-width="0.8"/>
<path d="M955.28 63.47 L966.92 63.47 L961.1 53.19 Z" fill="none" stroke="#000" stroke-width="0.8"/>
<path d="M994.98 38.16 L1006.62 38.16 L1000.8 27.88 Z" fill="none" stroke="#000" stroke-width="0.8"/>
<path d="M1034.68 29.61 L1046.32 29.61 L1040.5 19.32 Z" fill="none" stroke="#000" stroke-width="0.8"/>
<path d="M1074.38 27.15 L1086.02 27.15 L1080.2 16.87 Z" fill="none" stroke="#000" stroke-width="0.8"/>
<path d="M1114.08 26.64 L1125.72 26.64 L1119.9 16.36 Z" fill="none" stroke="#000" stroke-width="0.8"/>
<path d="M756.78 308.71 L768.42 308.71 L762.6 318.99 Z" fill="none" stroke="#000" stroke-width="0.8"/>
<path d="M796.48 256.16 L808.12 256.16 L802.3 266.44 Z" fill="none" stroke="#000" stroke-width="0.8"/>
<path d="M836.18 203.92 L847.82 203.92 L842 214.21 Z" fill="none" stroke="#000" stroke-width="0.8"/>
<path d="M875.88 151.61 L887.52 151.61 L881.7 161.9 Z" fill="none" stroke="#000" stroke-width="0.8"/>
<path d="M915.58 100.81 L927.22 100.81 L921.4 111.09 Z" fill="none" stroke="#000" stroke-width="0.8"/>
<path d="M955.28 57.83 L966.92 57.83 L961.1 68.11 Z" fill="none" stroke="#000" stroke-width="0.8"/>
<path d="M994.98 31.93 L1006.62 31.93 L1000.8 42.21 Z" fill="none" stroke="#000" stroke-width="0.8"/>
<path d="M1034.68 22.9 L1046.32 22.9 L1040.5 33.18 Z" fill="none" stroke="#000" stroke-width="0.8"/>
<path d="M1074.38 20.33 L1086.02 20.33 L1080.2 30.61 Z" fill="none" stroke="#000" stroke-width="0.8"/>
<path d="M1114.08 19.79 L1125.72 19.79 L1119.9 30.07 Z" fill="none" stroke="#000" stroke-width="0.8"/>
<path d="M755.62 312.14 L762.6 305.15 L769.58 312.14 L762.6 319.12 Z" fill="none" stroke="#000" stroke-width="0.8"/>
<path d="M795.32 259.59 L802.3 252.6 L809.28 259.59 L802.3 266.57 Z" fill="none" stroke="#000" stroke-width="0.8"/>
<path d="M835.02 207.35 L842 200.37 L848.98 207.35 L842 214.33 Z" fill="none" stroke="#000" stroke-width="0.8"/>
<path d="M874.72 155.13 L881.7 148.14 L888.68 155.13 L881.7 162.11 Z" fill="none" stroke="#000" stroke-width="0.8"/>
<path d="M914.42 104.49 L921.4 97.51 L928.38 104.49 L921.4 111.47 Z" fill="none" stroke="#000" stroke-width="0.8"/>
<path d="M954.12 62.64 L961.1 55.66 L968.08 62.64 L961.1 69.63 Z" fill="none" stroke="#000" stroke-width="0.8"/>
<path d="M993.82 36.07 L1000.8 29.09 L1007.78 36.07 L1000.8 43.06 Z" fill="none" stroke="#000" stroke-width="0.8"/>
<path d="M1033.52 26.49 L1040.5 19.51 L1047.48 26.49 L1040.5 33.48 Z" fill="none" stroke="#000" stroke-width="0.8"/>
<path d="M1073.22 23.8 L1080.2 16.81 L1087.18 23.8 L1080.2 30.78 Z" fill="none" stroke="#000" stroke-width="0.8"/>
<path d="M1112.92 23.22 L1119.9 16.23 L1126.88 23.22 L1119.9 30.2 Z" fill="none" stroke="#000" stroke-width="0.8"/>
<circle cx="762.6" cy="363.95" r="6.69" fill="none" stroke="#000" stroke-width="0.8"/>
<circle cx="802.3" cy="310.35" r="6.69" fill="none" stroke="#000" stroke-width="0.8"/>
<circle cx="842" cy="258.32" r="6.69" fill="none" stroke="#000" stroke-width="0.8"/>
<circle cx="881.7" cy="201.04" r="6.69" fill="none" stroke="#000" stroke-width="0.8"/>
<circle cx="921.4" cy="137.61" r="6.69" fill="none" stroke="#000" stroke-width="0.8"/>
<circle cx="961.1" cy="49.7" r="6.69" fill="none" stroke="#000" stroke-width="0.8"/>
<circle cx="1000.8" cy="24.16" r="6.69" fill="none" stroke="#000" stroke-width="0.8"/>
<circle cx="1040.5" cy="23.32" r="6.69" fill="none" stroke="#000" stroke-width="0.8"/>
<circle cx="1080.2" cy="23.22" r="6.69" fill="none" stroke="#000" stroke-width="0.8"/>
<circle cx="1119.9" cy="23.11" r="6.69" fill="none" stroke="#000" stroke-width="0.8"/>
<path d="M756.78 366.85 L768.42 366.85 L762.6 356.57 Z" fill="none" stroke="#000" stroke-width="0.8"/>
<path d="M796.48 312.72 L808.12 312.72 L802.3 302.44 Z" fill="none" stroke="#000" stroke-width="0.8"/>
<path d="M836.18 252.29 L847.82 252.29 L842 242.01 Z" fill="none" stroke="#000" stroke-width="0.8"/>
<path d="M875.88 183.87 L887.52 183.87 L881.7 173.59 Z" fill="none" stroke="#000" stroke-width="0.8"/>
<path d="M915.58 106.2 L927.22 106.2 L921.4 95.92 Z" fill="none" stroke="#000" stroke-width="0.8"/>
<path d="M955.28 44.51 L966.92 44.51 L961.1 34.23 Z" fill="none" stroke="#000" stroke-width="0.8"/>
<path d="M994.98 27.38 L1006.62 27.38 L1000.8 17.1 Z" fill="none" stroke="#000" stroke-width="0.8"/>
<path d="M1034.68 26.75 L1046.32 26.75 L1040.5 16.47 Z" fill="none" stroke="#000" stroke-width="0.8"/>
<path d="M1074.38 26.64 L1086.02 26.64 L1080.2 16.36 Z" fill="none" stroke="#000" stroke-width="0.8"/>
<path d="M1114.08 26.54 L1125.72 26.54 L1119.9 16.26 Z" fill="none" stroke="#000" stroke-width="0.8"/>
<path d="M756.78 360.31 L768.42 360.31 L762.6 370.59 Z" fill="none" stroke="#000" stroke-width="0.8"/>
<path d="M796.48 306.4 L808.12 306.4 L802.3 316.68 Z" fill="none" stroke="#000" stroke-width="0.8"/>
<path d="M836.18 250.69 L847.82 250.69 L842 260.97 Z" fill="none" stroke="#000" stroke-width="0.8"/>
<path d="M875.88 187.63 L887.52 187.63 L881.7 197.91 Z" fill="none" stroke="#000" stroke-width="0.8"/>
<path d="M915.58 120.79 L927.22 120.79 L921.4 131.07 Z" fill="none" stroke="#000" stroke-width="0.8"/>
<path d="M955.28 38.92 L966.92 38.92 L961.1 49.2 Z" fill="none" stroke="#000" stroke-width="0.8"/>
<path d="M994.98 20.52 L1006.62 20.52 L1000.8 30.81 Z" fill="none" stroke="#000" stroke-width="0.8"/>
<path d="M1034.68 19.89 L1046.32 19.89 L1040.5 30.18 Z" fill="none" stroke="#000" stroke-width="0.8"/>
<path d="M1074.38 19.79 L1086.02 19.79 L1080.2 30.07 Z" fill="none" stroke="#000" stroke-width="0.8"/>
<path d="M1114.08 19.68 L1125.72 19.68 L1119.9 29.96 Z" fill="none" stroke="#000" stroke-width="0.8"/>
<path d="M755.62 362.9 L762.6 355.91 L769.58 362.9 L762.6 369.88 Z" fill="none" stroke="#000" stroke-width="0.8"/>
<path d="M795.32 308.77 L802.3 301.79 L809.28 308.77 L802.3 315.76 Z" fill="none" stroke="#000" stroke-width="0.8"/>
<path d="M835.02 245.82 L842 238.83 L848.98 245.82 L842 252.8 Z" fill="none" stroke="#000" stroke-width="0.8"/>
<path d="M874.72 174.98 L881.7 168 L888.68 174.98 L881.7 181.96 Z" fill="none" stroke="#000" stroke-width="0.8"/>
<path d="M914.42 96.84 L921.4 89.85 L928.38 96.84 L921.4 103.82 Z" fill="none" stroke="#000" stroke-width="0.8"/>
<path d="M954.12 40.56 L961.1 33.57 L968.08 40.56 L961.1 47.54 Z" fill="none" stroke="#000" stroke-width="0.8"/>
<path d="M993.82 23.95 L1000.8 16.97 L1007.78 23.95 L1000.8 30.94 Z" fill="none" stroke="#000" stroke-width="0.8"/>
<path d="M1033.52 23.32 L1040.5 16.34 L1047.48 23.32 L1040.5 30.3 Z" fill="none" stroke="#000" stroke-width="0.8"/>
<path d="M1073.22 23.22 L1080.2 16.23 L1087.18 23.22 L1080.2 30.2 Z" fill="none" stroke="#000" stroke-width="0.8"/>
<path d="M1112.92 23.11 L1119.9 16.13 L1126.88 23.11 L1119.9 30.09 Z" fill="none" stroke="#000" stroke-width="0.8"/>
<circle cx="762.6" cy="388" r="6.69" fill="none" stroke="#000" stroke-width="0.8"/>
<circle cx="802.3" cy="335.48" r="6.69" fill="none" stroke="#000" stroke-width="0.8"/>
<circle cx="842" cy="283.03" r="6.69" fill="none" stroke="#000" stroke-width="0.8"/>
<circle cx="881.7" cy="230.81" r="6.69" fill="none" stroke="#000" stroke-width="0.8"/>
<circle cx="921.4" cy="179.29" r="6.69" fill="none" stroke="#000" stroke-width="0.8"/>
<circle cx="961.1" cy="129.84" r="6.69" fill="none" stroke="#000" stroke-width="0.8"/>
<circle cx="1000.8" cy="85.9" r="6.69" fill="none" stroke="#000" stroke-width="0.8"/>
<circle cx="1040.5" cy="53.18" r="6.69" fill="none" stroke="#000" stroke-width="0.8"/>
<circle cx="1080.2" cy="34.79" r="6.69" fill="none" stroke="#000" stroke-width="0.8"/>
<circle cx="1119.9" cy="27.01" r="6.69" fill="none" stroke="#000" stroke-width="0.8"/>
<circle cx="1159.6" cy="24.24" r="6.69" fill="none" stroke="#000" stroke-width="0.8"/>
<path d="M756.78 391.42 L768.42 391.42 L762.6 381.14 Z" fill="none" stroke="#000" stroke-width="0.8"/>
<path d="M796.48 338.91 L808.12 338.91 L802.3 328.63 Z" fill="none" stroke="#000" stroke-width="0.8"/>
<path d="M836.18 286.46 L847.82 286.46 L842 276.18 Z" fill="none" stroke="#000" stroke-width="0.8"/>
<path d="M875.88 234.24 L887.52 234.24 L881.7 223.96 Z" fill="none" stroke="#000" stroke-width="0.8"/>
<path d="M915.58 182.72 L927.22 182.72 L921.4 172.44 Z" fill="none" stroke="#000" stroke-width="0.8"/>
<path d="M955.28 133.27 L966.92 133.27 L961.1 122.99 Z" fill="none" stroke="#000" stroke-width="0.8"/>
<path d="M994.98 89.33 L1006.62 89.33 L1000.8 79.05 Z" fill="none" stroke="#000" stroke-width="0.8"/>
<path d="M1034.68 56.6 L1046.32 56.6 L1040.5 46.32 Z" fill="none" stroke="#000" stroke-width="0.8"/>
<path d="M1074.38 38.22 L1086.02 38.22 L1080.2 27.94 Z" fill="none" stroke="#000" stroke-width="0.8"/>
<path d="M1114.08 30.43 L1125.72 30.43 L1119.9 20.15 Z" fill="none" stroke="#000" stroke-width="0.8"/>
<path d="M1153.78 27.67 L1165.42 27.67 L1159.6 17.38 Z" fill="none" stroke="#000" stroke-width="0.8"/>
<path d="M756.78 384.57 L768.42 384.57 L762.6 394.85 Z" fill="none" stroke="#000" stroke-width="0.8"/>
<path d="M796.48 332.05 L808.12 332.05 L802.3 342.33 Z" fill="none" stroke="#000" stroke-width="0.8"/>
<path d="M836.18 279.61 L847.82 279.61 L842 289.89 Z" fill="none" stroke="#000" stroke-width="0.8"/>
<path d="M875.88 227.39 L887.52 227.39 L881.7 237.67 Z" fill="none" stroke="#000" stroke-width="0.8"/>
<path d="M915.58 175.86 L927.22 175.86 L921.4 186.14 Z" fill="none" stroke="#000" stroke-width="0.8"/>
<path d="M955.28 126.41 L966.92 126.41 L961.1 136.7 Z" fill="none" stroke="#000" stroke-width="0.8"/>
<path d="M994.98 82.48 L1006.62 82.48 L1000.8 92.76 Z" fill="none" stroke="#000" stroke-width="0.8"/>
<path d="M1034.68 49.75 L1046.32 49.75 L1040.5 60.03 Z" fill="none" stroke="#000" stroke-width="0.8"/>
<path d="M1074.38 31.36 L1086.02 31.36 L1080.2 41.65 Z" fill="none" stroke="#000" stroke-width="0.8"/>
<path d="M1114.08 23.58 L1125.72 23.58 L1119.9 33.86 Z" fill="none" stroke="#000" stroke-width="0.8"/>
<path d="M1153.78 20.81 L1165.42 20.81 L1159.6 31.09 Z" fill="none" stroke="#000" stroke-width="0.8"/>
<path d="M755.62 388 L762.6 381.01 L769.58 388 L762.6 394.98 Z" fill="none" stroke="#000" stroke-width="0.8"/>
<path d="M795.32 335.48 L802.3 328.5 L809.28 335.48 L802.3 342.46 Z" fill="none" stroke="#000" stroke-width="0.8"/>
<path d="M835.02 283.03 L842 276.05 L848.98 283.03 L842 290.02 Z" fill="none" stroke="#000" stroke-width="0.8"/>
<path d="M874.72 230.81 L881.7 223.83 L888.68 230.81 L881.7 237.8 Z" fill="none" stroke="#000" stroke-width="0.8"/>
<path d="M914.42 179.29 L921.4 172.31 L928.38 179.29 L921.4 186.27 Z" fill="none" stroke="#000" stroke-width="0.8"/>
<path d="M954.12 129.84 L961.1 122.86 L968.08 129.84 L961.1 136.82 Z" fill="none" stroke="#000" stroke-width="0.8"/>
<path d="M993.82 85.9 L1000.8 78.92 L1007.78 85.9 L1000.8 92.89 Z" fill="none" stroke="#000" stroke-width="0.8"/>
<path d="M1033.52 53.18 L1040.5 46.19 L1047.48 53.18 L1040.5 60.16 Z" fill="none" stroke="#000" stroke-width="0.8"/>
<path d="M1073.22 34.79 L1080.2 27.81 L1087.18 34.79 L1080.2 41.78 Z" fill="none" stroke="#000" stroke-width="0.8"/>
<path d="M1112.92 27.01 L1119.9 20.02 L1126.88 27.01 L1119.9 33.99 Z" fill="none" stroke="#000" stroke-width="0.8"/>
<path d="M1152.62 24.24 L1159.6 17.25 L1166.58 24.24 L1159.6 31.22 Z" fill="none" stroke="#000" stroke-width="0.8"/>
</g>
<g id="pc">
<path d="M135.1 576.32 V963.3 M125.6 963.3 H519.85 M130.1 936.27 H135.1 M130.1 920.45 H135.1 M130.1 909.24 H135.1 M130.1 900.53 H135.1 M130.1 893.42 H135.1 M130.1 887.41 H135.1 M130.1 882.2 H135.1 M130.1 877.61 H135.1 M125.6 873.5 H135.1 M130.1 846.47 H135.1 M130.1 830.65 H135.1 M130.1 819.44 H135.1 M130.1 810.73 H135.1 M130.1 803.62 H135.1 M130.1 797.61 H135.1 M130.1 792.4 H135.1 M130.1 787.81 H135.1 M125.6 783.7 H135.1 M130.1 756.67 H135.1 M130.1 740.85 H135.1 M130.1 729.64 H135.1 M130.1 720.93 H135.1 M130.1 713.82 H135.1 M130.1 707.81 H135.1 M130.1 702.6 H135.1 M130.1 698.01 H135.1 M125.6 693.9 H135.1 M130.1 666.87 H135.1 M130.1 651.05 H135.1 M130.1 639.84 H135.1 M130.1 631.13 H135.1 M130.1 624.02 H135.1 M130.1 618.01 H135.1 M130.1 612.8 H135.1 M130.1 608.21 H135.1 M125.6 604.1 H135.1 M130.1 577.07 H135.1 M134.73 963.3 V968.8 M140.48 963.3 V968.8 M145.35 963.3 V968.8 M149.56 963.3 V968.8 M153.28 963.3 V968.8 M156.6 963.3 V973.3 M178.47 963.3 V968.8 M191.26 963.3 V968.8 M200.34 963.3 V968.8 M207.38 963.3 V968.8 M213.13 963.3 V968.8 M218 963.3 V968.8 M222.21 963.3 V968.8 M225.93 963.3 V968.8 M229.25 963.3 V973.3 M251.12 963.3 V968.8 M263.91 963.3 V968.8 M272.99 963.3 V968.8 M280.03 963.3 V968.8 M285.78 963.3 V968.8 M290.65 963.3 V968.8 M294.86 963.3 V968.8 M298.58 963.3 V968.8 M301.9 963.3 V973.3 M323.77 963.3 V968.8 M336.56 963.3 V968.8 M345.64 963.3 V968.8 M352.68 963.3 V968.8 M358.43 963.3 V968.8 M363.3 963.3 V968.8 M367.51 963.3 V968.8 M371.23 963.3 V968.8 M374.55 963.3 V973.3 M396.42 963.3 V968.8 M409.21 963.3 V968.8 M418.29 963.3 V968.8 M425.33 963.3 V968.8 M431.08 963.3 V968.8 M435.95 963.3 V968.8 M440.16 963.3 V968.8 M443.88 963.3 V968.8 M447.2 963.3 V973.3 M469.07 963.3 V968.8 M481.86 963.3 V968.8 M490.94 963.3 V968.8 M497.98 963.3 V968.8 M503.73 963.3 V968.8 M508.6 963.3 V968.8 M512.81 963.3 V968.8 M516.53 963.3 V968.8 M519.85 963.3 V973.3" stroke="#000" stroke-width="1.8" fill="none"/>
<text x="115.3" y="971.3" font-size="25" text-anchor="end">10<tspan font-size="22.5" dy="-7.4">−</tspan><tspan font-size="16.6" dy="-1.9">4</tspan></text>
<text x="115.3" y="881.5" font-size="25" text-anchor="end">10<tspan font-size="22.5" dy="-7.4">−</tspan><tspan font-size="16.6" dy="-1.9">3</tspan></text>
<text x="115.3" y="791.7" font-size="25" text-anchor="end">10<tspan font-size="22.5" dy="-7.4">−</tspan><tspan font-size="16.6" dy="-1.9">2</tspan></text>
<text x="115.3" y="701.9" font-size="25" text-anchor="end">10<tspan font-size="22.5" dy="-7.4">−</tspan><tspan font-size="16.6" dy="-1.9">1</tspan></text>
<text x="115.3" y="612.1" font-size="25" text-anchor="end">10<tspan font-size="16.6" dy="-9.3">0</tspan></text>
<text x="157.6" y="998.7" font-size="25" text-anchor="middle">10<tspan font-size="22.5" dy="-7.4">−</tspan><tspan font-size="16.6" dy="-1.9">2</tspan></text>
<text x="230.25" y="998.7" font-size="25" text-anchor="middle">10<tspan font-size="22.5" dy="-7.4">−</tspan><tspan font-size="16.6" dy="-1.9">1</tspan></text>
<text x="302.9" y="998.7" font-size="25" text-anchor="middle">10<tspan font-size="16.6" dy="-9.3">0</tspan></text>
<text x="375.55" y="998.7" font-size="25" text-anchor="middle">10<tspan font-size="16.6" dy="-9.3">1</tspan></text>
<text x="448.2" y="998.7" font-size="25" text-anchor="middle">10<tspan font-size="16.6" dy="-9.3">2</tspan></text>
<text x="520.85" y="998.7" font-size="25" text-anchor="middle">10<tspan font-size="16.6" dy="-9.3">3</tspan></text>
<text x="3.5" y="593.3" font-size="30">(<tspan font-style="italic">c</tspan>)</text>
<text x="27" y="784.6" font-size="30"><tspan font-style="italic">η</tspan><tspan font-size="20" dy="4.5">3</tspan><tspan font-size="21" dx="-10.3" dy="-11.5">*</tspan></text>
<text x="327" y="1037.7" font-size="32.5" font-style="italic" text-anchor="middle">Σ</text>
<path d="M134.81 882.21 L136.02 880.7 L137.24 879.19 L138.46 877.68 L139.68 876.17 L140.9 874.66 L142.12 873.16 L143.34 871.65 L144.56 870.14 L145.78 868.63 L147 867.13 L148.21 865.62 L149.43 864.11 L150.65 862.61 L151.87 861.1 L153.09 859.6 L154.31 858.1 L155.53 856.59 L156.75 855.09 L157.97 853.59 L159.19 852.08 L160.4 850.58 L161.62 849.08 L162.84 847.58 L164.06 846.08 L165.28 844.58 L166.5 843.08 L167.72 841.58 L168.94 840.08 L170.16 838.59 L171.38 837.09 L172.59 835.59 L173.81 834.09 L175.03 832.59 L176.25 831.1 L177.47 829.6 L178.69 828.1 L179.91 826.61 L181.13 825.11 L182.35 823.62 L183.57 822.12 L184.78 820.62 L186 819.13 L187.22 817.63 L188.44 816.14 L189.66 814.64 L190.88 813.15 L192.1 811.65 L193.32 810.16 L194.54 808.66 L195.76 807.17 L196.97 805.67 L198.19 804.17 L199.41 802.67 L200.63 801.17 L201.85 799.67 L203.07 798.17 L204.29 796.67 L205.51 795.18 L206.73 793.68 L207.95 792.18 L209.16 790.68 L210.38 789.18 L211.6 787.69 L212.82 786.19 L214.04 784.69 L215.26 783.2 L216.48 781.71 L217.7 780.22 L218.92 778.73 L220.14 777.24 L221.35 775.76 L222.57 774.27 L223.79 772.79 L225.01 771.31 L226.23 769.83 L227.45 768.36 L228.67 766.89 L229.89 765.42 L231.11 763.95 L232.33 762.48 L233.55 761.01 L234.76 759.53 L235.98 758.06 L237.2 756.59 L238.42 755.11 L239.64 753.64 L240.86 752.17 L242.08 750.7 L243.3 749.23 L244.52 747.77 L245.74 746.3 L246.95 744.84 L248.17 743.39 L249.39 741.93 L250.61 740.48 L251.83 739.03 L253.05 737.59 L254.27 736.15 L255.49 734.72 L256.71 733.29 L257.93 731.87 L259.14 730.45 L260.36 729.04 L261.58 727.64 L262.8 726.24 L264.02 724.85 L265.24 723.46 L266.46 722.09 L267.68 720.71 L268.9 719.33 L270.12 717.95 L271.33 716.58 L272.55 715.2 L273.77 713.83 L274.99 712.45 L276.21 711.09 L277.43 709.72 L278.65 708.36 L279.87 707 L281.09 705.65 L282.31 704.31 L283.52 702.97 L284.74 701.64 L285.96 700.31 L287.18 699 L288.4 697.69 L289.62 696.39 L290.84 695.1 L292.06 693.82 L293.28 692.55 L294.5 691.3 L295.71 690.05 L296.93 688.82 L298.15 687.6 L299.37 686.39 L300.59 685.2 L301.81 684.02 L303.03 682.85 L304.25 681.69 L305.47 680.53 L306.69 679.39 L307.9 678.28 L309.12 677.19 L310.34 676.13 L311.56 675.1 L312.78 674.12 L314 673.19 L315.22 672.27 L316.44 671.35 L317.66 670.44 L318.88 669.56 L320.1 668.71 L321.31 667.91 L322.53 667.17 L323.75 666.5 L324.97 665.91 L326.19 665.41 L327.41 664.92 L328.63 664.45 L329.85 664 L331.07 663.57 L332.29 663.18 L333.5 662.83 L334.72 662.53 L335.94 662.29 L337.16 662.11 L338.38 662.01 L339.6 661.94 L340.82 661.88 L342.04 661.84 L343.26 661.8 L344.48 661.79 L345.69 661.8 L346.91 661.87 L348.13 661.98 L349.35 662.12 L350.57 662.3 L351.79 662.51 L353.01 662.73 L354.23 662.97 L355.45 663.21 L356.67 663.49 L357.88 663.85 L359.1 664.27 L360.32 664.75 L361.54 665.26 L362.76 665.81 L363.98 666.37 L365.2 666.93 L366.42 667.48 L367.64 668.05 L368.86 668.63 L370.07 669.25 L371.29 669.9 L372.51 670.58 L373.73 671.3 L374.95 672.07 L376.17 672.9 L377.39 673.8 L378.61 674.75 L379.83 675.74 L381.05 676.77 L382.26 677.83 L383.48 678.91 L384.7 680 L385.92 681.1 L387.14 682.25 L388.36 683.45 L389.58 684.68 L390.8 685.93 L392.02 687.2 L393.24 688.47 L394.45 689.72 L395.67 690.95 L396.89 692.14 L398.11 693.29 L399.33 694.42 L400.55 695.52 L401.77 696.61 L402.99 697.68 L404.21 698.76 L405.43 699.83 L406.65 700.92 L407.86 702.02 L409.08 703.15 L410.3 704.3 L411.52 705.49 L412.74 706.69 L413.96 707.9 L415.18 709.12 L416.4 710.35 L417.62 711.6 L418.84 712.85 L420.05 714.12 L421.27 715.39 L422.49 716.67 L423.71 717.96 L424.93 719.26 L426.15 720.57 L427.37 721.89 L428.59 723.21 L429.81 724.54 L431.03 725.88 L432.24 727.22 L433.46 728.57 L434.68 729.93 L435.9 731.29 L437.12 732.65 L438.34 734.02 L439.56 735.4 L440.78 736.78 L442 738.16 L443.22 739.55 L444.43 740.94 L445.65 742.33 L446.87 743.72 L448.09 745.12 L449.31 746.52 L450.53 747.93 L451.75 749.34 L452.97 750.75 L454.19 752.17 L455.41 753.59 L456.62 755.02 L457.84 756.45 L459.06 757.89 L460.28 759.34 L461.5 760.79 L462.72 762.25 L463.94 763.71 L465.16 765.19 L466.38 766.67 L467.6 768.15 L468.81 769.65 L470.03 771.15 L471.25 772.66 L472.47 774.18 L473.69 775.7 L474.91 777.24 L476.13 778.79 L477.35 780.34 L478.57 781.9 L479.79 783.48 L481 785.06 L482.22 786.66 L483.44 788.26 L484.66 789.88 L485.88 791.52 L487.1 793.19 L488.32 794.87 L489.54 796.57 L490.76 798.29 L491.98 800.02 L493.19 801.76 L494.41 803.52 L495.63 805.29 L496.85 807.06 L498.07 808.85 L499.29 810.64" fill="none" stroke="#000" stroke-width="1.5"/>
<path d="M134.81 882.21 L136 880.73 L137.2 879.25 L138.39 877.77 L139.59 876.29 L140.78 874.81 L141.98 873.33 L143.17 871.85 L144.37 870.37 L145.56 868.89 L146.76 867.41 L147.95 865.94 L149.15 864.46 L150.35 862.98 L151.54 861.51 L152.74 860.03 L153.93 858.56 L155.13 857.08 L156.32 855.61 L157.52 854.14 L158.71 852.67 L159.91 851.2 L161.1 849.73 L162.3 848.26 L163.5 846.79 L164.69 845.32 L165.89 843.85 L167.08 842.38 L168.28 840.91 L169.47 839.44 L170.67 837.98 L171.86 836.51 L173.06 835.04 L174.25 833.58 L175.45 832.11 L176.65 830.65 L177.84 829.18 L179.04 827.72 L180.23 826.25 L181.43 824.79 L182.62 823.32 L183.82 821.86 L185.01 820.39 L186.21 818.93 L187.4 817.47 L188.6 816 L189.8 814.54 L190.99 813.08 L192.19 811.61 L193.38 810.15 L194.58 808.68 L195.77 807.22 L196.97 805.75 L198.16 804.28 L199.36 802.82 L200.55 801.35 L201.75 799.88 L202.95 798.41 L204.14 796.94 L205.34 795.47 L206.53 794 L207.73 792.54 L208.92 791.07 L210.12 789.6 L211.31 788.14 L212.51 786.67 L213.7 785.21 L214.9 783.74 L216.1 782.28 L217.29 780.82 L218.49 779.36 L219.68 777.91 L220.88 776.45 L222.07 775 L223.27 773.55 L224.46 772.1 L225.66 770.65 L226.85 769.21 L228.05 767.77 L229.25 766.33 L230.44 764.89 L231.64 763.45 L232.83 762.01 L234.03 760.57 L235.22 759.13 L236.42 757.68 L237.61 756.24 L238.81 754.8 L240 753.35 L241.2 751.91 L242.4 750.47 L243.59 749.04 L244.79 747.6 L245.98 746.17 L247.18 744.74 L248.37 743.31 L249.57 741.89 L250.76 740.47 L251.96 739.05 L253.15 737.64 L254.35 736.24 L255.54 734.84 L256.74 733.45 L257.94 732.06 L259.13 730.68 L260.33 729.31 L261.52 727.94 L262.72 726.59 L263.91 725.24 L265.11 723.9 L266.3 722.56 L267.5 721.23 L268.69 719.9 L269.89 718.58 L271.09 717.25 L272.28 715.93 L273.48 714.61 L274.67 713.29 L275.87 711.98 L277.06 710.67 L278.26 709.37 L279.45 708.07 L280.65 706.77 L281.84 705.49 L283.04 704.2 L284.24 702.93 L285.43 701.66 L286.63 700.4 L287.82 699.15 L289.02 697.9 L290.21 696.66 L291.41 695.43 L292.6 694.21 L293.8 693 L294.99 691.8 L296.19 690.61 L297.39 689.43 L298.58 688.26 L299.78 687.1 L300.97 685.96 L302.17 684.82 L303.36 683.69 L304.56 682.56 L305.75 681.44 L306.95 680.33 L308.14 679.25 L309.34 678.19 L310.54 677.17 L311.73 676.18 L312.93 675.24 L314.12 674.36 L315.32 673.48 L316.51 672.6 L317.71 671.74 L318.9 670.9 L320.1 670.1 L321.29 669.35 L322.49 668.66 L323.69 668.04 L324.88 667.5 L326.08 667.04 L327.27 666.64 L328.47 666.25 L329.66 665.89 L330.86 665.56 L332.05 665.25 L333.25 664.96 L334.44 664.7 L335.64 664.46 L336.84 664.25 L338.03 664.07 L339.23 663.9 L340.42 663.73 L341.62 663.57 L342.81 663.45 L344.01 663.38 L345.2 663.37 L346.4 663.41 L347.59 663.5 L348.79 663.62 L349.99 663.78 L351.18 663.97 L352.38 664.18 L353.57 664.4 L354.77 664.62 L355.96 664.86 L357.16 665.16 L358.35 665.52 L359.55 665.94 L360.74 666.4 L361.94 666.9 L363.13 667.42 L364.33 667.95 L365.53 668.48 L366.72 669.02 L367.92 669.57 L369.11 670.15 L370.31 670.76 L371.5 671.4 L372.7 672.07 L373.89 672.78 L375.09 673.52 L376.28 674.32 L377.48 675.18 L378.68 676.08 L379.87 677.01 L381.07 677.98 L382.26 678.98 L383.46 679.99 L384.65 681.01 L385.85 682.04 L387.04 683.1 L388.24 684.19 L389.43 685.3 L390.63 686.44 L391.83 687.6 L393.02 688.78 L394.22 689.97 L395.41 691.18 L396.61 692.41 L397.8 693.65 L399 694.92 L400.19 696.21 L401.39 697.53 L402.58 698.87 L403.78 700.23 L404.98 701.59 L406.17 702.96 L407.37 704.34 L408.56 705.72 L409.76 707.09 L410.95 708.45 L412.15 709.8 L413.34 711.16 L414.54 712.51 L415.73 713.87 L416.93 715.23 L418.13 716.59 L419.32 717.95 L420.52 719.31 L421.71 720.67 L422.91 722.03 L424.1 723.39 L425.3 724.76 L426.49 726.13 L427.69 727.5 L428.88 728.87 L430.08 730.24 L431.28 731.61 L432.47 732.99 L433.67 734.37 L434.86 735.75 L436.06 737.14 L437.25 738.52 L438.45 739.91 L439.64 741.31 L440.84 742.7 L442.03 744.1 L443.23 745.5 L444.43 746.91 L445.62 748.32 L446.82 749.73 L448.01 751.14 L449.21 752.56 L450.4 753.98 L451.6 755.4 L452.79 756.82 L453.99 758.24 L455.18 759.66 L456.38 761.08 L457.58 762.51 L458.77 763.94 L459.97 765.37 L461.16 766.81 L462.36 768.24 L463.55 769.69 L464.75 771.13 L465.94 772.58 L467.14 774.03 L468.33 775.49 L469.53 776.95 L470.72 778.41 L471.92 779.88 L473.12 781.36 L474.31 782.84 L475.51 784.33 L476.7 785.82 L477.9 787.32 L479.09 788.82 L480.29 790.33 L481.48 791.85 L482.68 793.37 L483.87 794.9 L485.07 796.45 L486.27 798.02 L487.46 799.61 L488.66 801.2 L489.85 802.81 L491.05 804.41 L492.24 806.03" fill="none" stroke="#000" stroke-width="1.5"/>
<path d="M134.81 882.21 L136 880.73 L137.2 879.25 L138.39 877.76 L139.59 876.28 L140.78 874.8 L141.98 873.32 L143.17 871.84 L144.37 870.36 L145.56 868.89 L146.76 867.41 L147.95 865.93 L149.15 864.45 L150.35 862.98 L151.54 861.5 L152.74 860.03 L153.93 858.56 L155.13 857.08 L156.32 855.61 L157.52 854.14 L158.71 852.67 L159.91 851.2 L161.1 849.73 L162.3 848.26 L163.5 846.8 L164.69 845.33 L165.89 843.86 L167.08 842.4 L168.28 840.93 L169.47 839.47 L170.67 838 L171.86 836.54 L173.06 835.07 L174.25 833.61 L175.45 832.15 L176.65 830.69 L177.84 829.22 L179.04 827.76 L180.23 826.3 L181.43 824.84 L182.62 823.38 L183.82 821.92 L185.01 820.46 L186.21 818.99 L187.4 817.53 L188.6 816.07 L189.8 814.61 L190.99 813.15 L192.19 811.69 L193.38 810.23 L194.58 808.77 L195.77 807.3 L196.97 805.84 L198.16 804.38 L199.36 802.91 L200.55 801.44 L201.75 799.98 L202.95 798.51 L204.14 797.04 L205.34 795.58 L206.53 794.11 L207.73 792.64 L208.92 791.18 L210.12 789.71 L211.31 788.25 L212.51 786.79 L213.7 785.33 L214.9 783.87 L216.1 782.41 L217.29 780.95 L218.49 779.49 L219.68 778.04 L220.88 776.59 L222.07 775.14 L223.27 773.69 L224.46 772.24 L225.66 770.8 L226.85 769.36 L228.05 767.92 L229.25 766.49 L230.44 765.06 L231.64 763.62 L232.83 762.18 L234.03 760.74 L235.22 759.3 L236.42 757.86 L237.61 756.42 L238.81 754.98 L240 753.53 L241.2 752.09 L242.4 750.66 L243.59 749.22 L244.79 747.79 L245.98 746.35 L247.18 744.93 L248.37 743.5 L249.57 742.08 L250.76 740.67 L251.96 739.26 L253.15 737.86 L254.35 736.46 L255.54 735.07 L256.74 733.68 L257.94 732.31 L259.13 730.94 L260.33 729.58 L261.52 728.23 L262.72 726.89 L263.91 725.56 L265.11 724.24 L266.3 722.93 L267.5 721.62 L268.69 720.32 L269.89 719.02 L271.09 717.72 L272.28 716.43 L273.48 715.15 L274.67 713.87 L275.87 712.59 L277.06 711.32 L278.26 710.05 L279.45 708.79 L280.65 707.54 L281.84 706.29 L283.04 705.05 L284.24 703.82 L285.43 702.59 L286.63 701.36 L287.82 700.15 L289.02 698.94 L290.21 697.74 L291.41 696.55 L292.6 695.37 L293.8 694.19 L294.99 693.02 L296.19 691.86 L297.39 690.71 L298.58 689.57 L299.78 688.44 L300.97 687.32 L302.17 686.2 L303.36 685.09 L304.56 683.97 L305.75 682.85 L306.95 681.75 L308.14 680.67 L309.34 679.62 L310.54 678.61 L311.73 677.64 L312.93 676.72 L314.12 675.86 L315.32 675.02 L316.51 674.17 L317.71 673.34 L318.9 672.54 L320.1 671.78 L321.29 671.06 L322.49 670.41 L323.69 669.84 L324.88 669.35 L326.08 668.96 L327.27 668.62 L328.47 668.32 L329.66 668.05 L330.86 667.8 L332.05 667.57 L333.25 667.36 L334.44 667.15 L335.64 666.94 L336.84 666.73 L338.03 666.5 L339.23 666.25 L340.42 665.96 L341.62 665.67 L342.81 665.44 L344.01 665.29 L345.2 665.26 L346.4 665.3 L347.59 665.39 L348.79 665.51 L349.99 665.67 L351.18 665.85 L352.38 666.05 L353.57 666.26 L354.77 666.49 L355.96 666.72 L357.16 667 L358.35 667.35 L359.55 667.74 L360.74 668.18 L361.94 668.65 L363.13 669.15 L364.33 669.66 L365.53 670.17 L366.72 670.69 L367.92 671.24 L369.11 671.82 L370.31 672.43 L371.5 673.07 L372.7 673.74 L373.89 674.43 L375.09 675.15 L376.28 675.9 L377.48 676.68 L378.68 677.5 L379.87 678.34 L381.07 679.21 L382.26 680.11 L383.46 681.03 L384.65 681.97 L385.85 682.92 L387.04 683.91 L388.24 684.92 L389.43 685.95 L390.63 687.02 L391.83 688.11 L393.02 689.23 L394.22 690.39 L395.41 691.57 L396.61 692.79 L397.8 694.05 L399 695.37 L400.19 696.77 L401.39 698.21 L402.58 699.7 L403.78 701.21 L404.98 702.74 L406.17 704.27 L407.37 705.8 L408.56 707.3 L409.76 708.77 L410.95 710.2 L412.15 711.6 L413.34 712.98 L414.54 714.35 L415.73 715.71 L416.93 717.06 L418.13 718.41 L419.32 719.74 L420.52 721.07 L421.71 722.39 L422.91 723.7 L424.1 725.01 L425.3 726.32 L426.49 727.63 L427.69 728.93 L428.88 730.23 L430.08 731.53 L431.28 732.83 L432.47 734.13 L433.67 735.43 L434.86 736.74 L436.06 738.05 L437.25 739.37 L438.45 740.69 L439.64 742.01 L440.84 743.35 L442.03 744.69 L443.23 746.04 L444.43 747.4 L445.62 748.77 L446.82 750.15 L448.01 751.54 L449.21 752.94 L450.4 754.34 L451.6 755.75 L452.79 757.15 L453.99 758.57 L455.18 759.98 L456.38 761.4 L457.58 762.83 L458.77 764.26 L459.97 765.69 L461.16 767.13 L462.36 768.57 L463.55 770.02 L464.75 771.47 L465.94 772.92 L467.14 774.38 L468.33 775.85 L469.53 777.32 L470.72 778.79 L471.92 780.27 L473.12 781.75 L474.31 783.24 L475.51 784.73 L476.7 786.23 L477.9 787.73 L479.09 789.24 L480.29 790.75 L481.48 792.27 L482.68 793.79 L483.87 795.32 L485.07 796.86 L486.27 798.42 L487.46 800 L488.66 801.59 L489.85 803.19 L491.05 804.79 L492.24 806.39" fill="none" stroke="#000" stroke-width="1.5"/>
<path d="M134.81 882.21 L136 880.73 L137.2 879.24 L138.39 877.76 L139.59 876.28 L140.78 874.8 L141.98 873.32 L143.17 871.84 L144.37 870.36 L145.56 868.88 L146.76 867.4 L147.95 865.92 L149.15 864.45 L150.35 862.97 L151.54 861.5 L152.74 860.02 L153.93 858.55 L155.13 857.08 L156.32 855.61 L157.52 854.14 L158.71 852.67 L159.91 851.21 L161.1 849.74 L162.3 848.28 L163.5 846.81 L164.69 845.35 L165.89 843.88 L167.08 842.42 L168.28 840.96 L169.47 839.5 L170.67 838.04 L171.86 836.58 L173.06 835.12 L174.25 833.66 L175.45 832.2 L176.65 830.75 L177.84 829.29 L179.04 827.83 L180.23 826.37 L181.43 824.92 L182.62 823.46 L183.82 822 L185.01 820.55 L186.21 819.09 L187.4 817.64 L188.6 816.18 L189.8 814.72 L190.99 813.27 L192.19 811.81 L193.38 810.35 L194.58 808.89 L195.77 807.43 L196.97 805.97 L198.16 804.51 L199.36 803.05 L200.55 801.59 L201.75 800.12 L202.95 798.66 L204.14 797.2 L205.34 795.73 L206.53 794.27 L207.73 792.81 L208.92 791.34 L210.12 789.88 L211.31 788.42 L212.51 786.96 L213.7 785.5 L214.9 784.05 L216.1 782.59 L217.29 781.14 L218.49 779.69 L219.68 778.24 L220.88 776.79 L222.07 775.34 L223.27 773.9 L224.46 772.46 L225.66 771.03 L226.85 769.59 L228.05 768.16 L229.25 766.73 L230.44 765.31 L231.64 763.88 L232.83 762.44 L234.03 761 L235.22 759.57 L236.42 758.13 L237.61 756.69 L238.81 755.24 L240 753.8 L241.2 752.37 L242.4 750.93 L243.59 749.49 L244.79 748.06 L245.98 746.63 L247.18 745.21 L248.37 743.79 L249.57 742.37 L250.76 740.97 L251.96 739.57 L253.15 738.17 L254.35 736.78 L255.54 735.41 L256.74 734.04 L257.94 732.68 L259.13 731.33 L260.33 729.99 L261.52 728.66 L262.72 727.34 L263.91 726.04 L265.11 724.75 L266.3 723.47 L267.5 722.21 L268.69 720.94 L269.89 719.69 L271.09 718.44 L272.28 717.2 L273.48 715.96 L274.67 714.73 L275.87 713.51 L277.06 712.3 L278.26 711.09 L279.45 709.89 L280.65 708.69 L281.84 707.5 L283.04 706.32 L284.24 705.15 L285.43 703.98 L286.63 702.81 L287.82 701.66 L289.02 700.51 L290.21 699.37 L291.41 698.23 L292.6 697.1 L293.8 695.97 L294.99 694.85 L296.19 693.74 L297.39 692.64 L298.58 691.54 L299.78 690.44 L300.97 689.35 L302.17 688.27 L303.36 687.18 L304.56 686.07 L305.75 684.97 L306.95 683.88 L308.14 682.8 L309.34 681.77 L310.54 680.77 L311.73 679.82 L312.93 678.94 L314.12 678.13 L315.32 677.33 L316.51 676.53 L317.71 675.75 L318.9 674.99 L320.1 674.28 L321.29 673.62 L322.49 673.03 L323.69 672.53 L324.88 672.12 L326.08 671.82 L327.27 671.59 L328.47 671.4 L329.66 671.23 L330.86 671.09 L332.05 670.96 L333.25 670.83 L334.44 670.69 L335.64 670.54 L336.84 670.36 L338.03 670.14 L339.23 669.83 L340.42 669.38 L341.62 668.88 L342.81 668.44 L344.01 668.15 L345.2 668.1 L346.4 668.14 L347.59 668.22 L348.79 668.34 L349.99 668.49 L351.18 668.67 L352.38 668.86 L353.57 669.06 L354.77 669.28 L355.96 669.5 L357.16 669.76 L358.35 670.08 L359.55 670.45 L360.74 670.85 L361.94 671.29 L363.13 671.74 L364.33 672.22 L365.53 672.7 L366.72 673.2 L367.92 673.74 L369.11 674.33 L370.31 674.95 L371.5 675.59 L372.7 676.26 L373.89 676.92 L375.09 677.58 L376.28 678.25 L377.48 678.91 L378.68 679.59 L379.87 680.28 L381.07 680.99 L382.26 681.72 L383.46 682.49 L384.65 683.29 L385.85 684.12 L387.04 684.99 L388.24 685.89 L389.43 686.83 L390.63 687.8 L391.83 688.81 L393.02 689.85 L394.22 690.95 L395.41 692.08 L396.61 693.26 L397.8 694.51 L399 695.87 L400.19 697.35 L401.39 698.91 L402.58 700.54 L403.78 702.21 L404.98 703.91 L406.17 705.6 L407.37 707.27 L408.56 708.91 L409.76 710.47 L410.95 711.95 L412.15 713.38 L413.34 714.78 L414.54 716.16 L415.73 717.51 L416.93 718.85 L418.13 720.18 L419.32 721.48 L420.52 722.78 L421.71 724.05 L422.91 725.32 L424.1 726.58 L425.3 727.83 L426.49 729.07 L427.69 730.31 L428.88 731.54 L430.08 732.77 L431.28 734 L432.47 735.23 L433.67 736.47 L434.86 737.7 L436.06 738.94 L437.25 740.19 L438.45 741.45 L439.64 742.71 L440.84 743.98 L442.03 745.27 L443.23 746.57 L444.43 747.89 L445.62 749.22 L446.82 750.57 L448.01 751.94 L449.21 753.32 L450.4 754.7 L451.6 756.09 L452.79 757.49 L453.99 758.89 L455.18 760.3 L456.38 761.72 L457.58 763.14 L458.77 764.57 L459.97 766.01 L461.16 767.45 L462.36 768.89 L463.55 770.34 L464.75 771.8 L465.94 773.26 L467.14 774.73 L468.33 776.2 L469.53 777.68 L470.72 779.16 L471.92 780.65 L473.12 782.14 L474.31 783.63 L475.51 785.13 L476.7 786.64 L477.9 788.14 L479.09 789.65 L480.29 791.17 L481.48 792.69 L482.68 794.21 L483.87 795.73 L485.07 797.27 L486.27 798.83 L487.46 800.4 L488.66 801.98 L489.85 803.57 L491.05 805.16 L492.24 806.76" fill="none" stroke="#000" stroke-width="1.5"/>
<path d="M134.81 840.51 L135.87 839.27 L136.94 838.02 L138.01 836.78 L139.08 835.53 L140.15 834.28 L141.22 833.02 L142.29 831.77 L143.36 830.51 L144.43 829.25 L145.5 827.99 L146.57 826.73 L147.63 825.46 L148.7 824.19 L149.77 822.92 L150.84 821.65 L151.91 820.37 L152.98 819.09 L154.05 817.81 L155.12 816.52 L156.19 815.24 L157.26 813.95 L158.33 812.65 L159.39 811.35 L160.46 810.05 L161.53 808.75 L162.6 807.44 L163.67 806.13 L164.74 804.81 L165.81 803.5 L166.88 802.18 L167.95 800.86 L169.02 799.53 L170.09 798.21 L171.15 796.88 L172.22 795.55 L173.29 794.22 L174.36 792.89 L175.43 791.56 L176.5 790.23 L177.57 788.9 L178.64 787.57 L179.71 786.23 L180.78 784.9 L181.85 783.57 L182.91 782.24 L183.98 780.91 L185.05 779.58 L186.12 778.25 L187.19 776.92 L188.26 775.6 L189.33 774.28 L190.4 772.95 L191.47 771.63 L192.54 770.32 L193.61 769 L194.67 767.69 L195.74 766.38 L196.81 765.07 L197.88 763.76 L198.95 762.45 L200.02 761.14 L201.09 759.84 L202.16 758.53 L203.23 757.23 L204.3 755.92 L205.37 754.62 L206.43 753.32 L207.5 752.01 L208.57 750.71 L209.64 749.41 L210.71 748.11 L211.78 746.8 L212.85 745.5 L213.92 744.2 L214.99 742.89 L216.06 741.59 L217.13 740.28 L218.19 738.97 L219.26 737.67 L220.33 736.36 L221.4 735.05 L222.47 733.74 L223.54 732.43 L224.61 731.11 L225.68 729.8 L226.75 728.48 L227.82 727.16 L228.89 725.84 L229.95 724.52 L231.02 723.19 L232.09 721.86 L233.16 720.53 L234.23 719.2 L235.3 717.86 L236.37 716.52 L237.44 715.18 L238.51 713.84 L239.58 712.5 L240.65 711.15 L241.71 709.81 L242.78 708.46 L243.85 707.12 L244.92 705.77 L245.99 704.42 L247.06 703.08 L248.13 701.73 L249.2 700.39 L250.27 699.04 L251.34 697.69 L252.41 696.35 L253.47 695.01 L254.54 693.67 L255.61 692.33 L256.68 690.99 L257.75 689.65 L258.82 688.32 L259.89 686.99 L260.96 685.66 L262.03 684.33 L263.1 683.01 L264.17 681.69 L265.23 680.37 L266.3 679.05 L267.37 677.74 L268.44 676.44 L269.51 675.14 L270.58 673.84 L271.65 672.55 L272.72 671.25 L273.79 669.97 L274.86 668.68 L275.93 667.39 L276.99 666.11 L278.06 664.83 L279.13 663.55 L280.2 662.27 L281.27 660.99 L282.34 659.71 L283.41 658.44 L284.48 657.16 L285.55 655.88 L286.62 654.6 L287.69 653.32 L288.75 652.04 L289.82 650.75 L290.89 649.47 L291.96 648.18 L293.03 646.89 L294.1 645.59 L295.17 644.29 L296.24 642.99 L297.31 641.69 L298.38 640.38 L299.45 639.07 L300.52 637.75 L301.58 636.43 L302.65 635.1 L303.72 633.75 L304.79 632.4 L305.86 631.03 L306.93 629.66 L308 628.28 L309.07 626.9 L310.14 625.52 L311.21 624.14 L312.28 622.77 L313.34 621.4 L314.41 620.05 L315.48 618.7 L316.55 617.37 L317.62 616.06 L318.69 614.77 L319.76 613.4 L320.83 611.9 L321.9 610.32 L322.97 608.7 L324.04 607.08 L325.1 605.5 L326.17 604.02 L327.24 602.68 L328.31 601.52 L329.38 600.59 L330.45 599.92 L331.52 599.57 L332.59 599.53 L333.66 599.55 L334.73 599.57 L335.8 599.62 L336.86 599.67 L337.93 599.74 L339 600.05 L340.07 601.08 L341.14 602.64 L342.21 604.47 L343.28 606.35 L344.35 608.29 L345.42 610.63 L346.49 613.21 L347.56 615.84 L348.62 618.33 L349.69 620.54 L350.76 622.62 L351.83 624.62 L352.9 626.55 L353.97 628.42 L355.04 630.25 L356.11 632.01 L357.18 633.71 L358.25 635.36 L359.32 637 L360.38 638.64 L361.45 640.32 L362.52 642.04 L363.59 643.81 L364.66 645.6 L365.73 647.39 L366.8 649.15 L367.87 650.87 L368.94 652.52 L370.01 654.1 L371.08 655.65 L372.14 657.2 L373.21 658.72 L374.28 660.23 L375.35 661.73 L376.42 663.21 L377.49 664.68 L378.56 666.13 L379.63 667.58 L380.7 669.01 L381.77 670.42 L382.84 671.83 L383.9 673.23 L384.97 674.62 L386.04 675.99 L387.11 677.36 L388.18 678.72 L389.25 680.08 L390.32 681.42 L391.39 682.76 L392.46 684.09 L393.53 685.42 L394.6 686.74 L395.66 688.06 L396.73 689.37 L397.8 690.68 L398.87 691.99 L399.94 693.29 L401.01 694.6 L402.08 695.9 L403.15 697.2 L404.22 698.5 L405.29 699.8 L406.36 701.1 L407.42 702.4 L408.49 703.71 L409.56 705.01 L410.63 706.32 L411.7 707.63 L412.77 708.93 L413.84 710.23 L414.91 711.51 L415.98 712.79 L417.05 714.06 L418.12 715.33 L419.18 716.59 L420.25 717.84 L421.32 719.09 L422.39 720.34 L423.46 721.58 L424.53 722.82 L425.6 724.06 L426.67 725.29 L427.74 726.52 L428.81 727.76 L429.88 728.99 L430.94 730.22 L432.01 731.45 L433.08 732.68 L434.15 733.91 L435.22 735.15 L436.29 736.39 L437.36 737.63 L438.43 738.87 L439.5 740.12 L440.57 741.37 L441.64 742.63 L442.7 743.89 L443.77 745.16 L444.84 746.44 L445.91 747.72 L446.98 749.01 L448.05 750.31 L449.12 751.62 L450.19 752.94 L451.26 754.26 L452.33 755.59 L453.4 756.92 L454.47 758.25" fill="none" stroke="#000" stroke-width="1.7" stroke-dasharray="1.6 1.7" stroke-dashoffset="0"/>
<path d="M134.81 842.01 L135.87 840.77 L136.94 839.52 L138.01 838.27 L139.08 837.02 L140.15 835.77 L141.22 834.51 L142.29 833.26 L143.36 832 L144.43 830.74 L145.5 829.48 L146.57 828.21 L147.63 826.95 L148.7 825.68 L149.77 824.41 L150.84 823.14 L151.91 821.86 L152.98 820.58 L154.05 819.3 L155.12 818.02 L156.19 816.74 L157.26 815.45 L158.33 814.16 L159.39 812.86 L160.46 811.56 L161.53 810.26 L162.6 808.96 L163.67 807.65 L164.74 806.34 L165.81 805.03 L166.88 803.72 L167.95 802.4 L169.02 801.09 L170.09 799.77 L171.15 798.45 L172.22 797.13 L173.29 795.8 L174.36 794.48 L175.43 793.16 L176.5 791.83 L177.57 790.51 L178.64 789.18 L179.71 787.85 L180.78 786.53 L181.85 785.2 L182.91 783.88 L183.98 782.55 L185.05 781.23 L186.12 779.91 L187.19 778.58 L188.26 777.26 L189.33 775.94 L190.4 774.63 L191.47 773.31 L192.54 772 L193.61 770.68 L194.67 769.37 L195.74 768.06 L196.81 766.75 L197.88 765.45 L198.95 764.14 L200.02 762.83 L201.09 761.52 L202.16 760.22 L203.23 758.91 L204.3 757.61 L205.37 756.3 L206.43 755 L207.5 753.69 L208.57 752.39 L209.64 751.09 L210.71 749.78 L211.78 748.48 L212.85 747.17 L213.92 745.87 L214.99 744.56 L216.06 743.25 L217.13 741.95 L218.19 740.64 L219.26 739.33 L220.33 738.02 L221.4 736.71 L222.47 735.4 L223.54 734.09 L224.61 732.78 L225.68 731.47 L226.75 730.15 L227.82 728.83 L228.89 727.52 L229.95 726.2 L231.02 724.87 L232.09 723.54 L233.16 722.21 L234.23 720.88 L235.3 719.54 L236.37 718.2 L237.44 716.85 L238.51 715.51 L239.58 714.16 L240.65 712.81 L241.71 711.46 L242.78 710.11 L243.85 708.76 L244.92 707.41 L245.99 706.06 L247.06 704.71 L248.13 703.36 L249.2 702.02 L250.27 700.67 L251.34 699.33 L252.41 697.99 L253.47 696.66 L254.54 695.33 L255.61 694 L256.68 692.68 L257.75 691.36 L258.82 690.05 L259.89 688.74 L260.96 687.44 L262.03 686.14 L263.1 684.86 L264.17 683.58 L265.23 682.3 L266.3 681.04 L267.37 679.78 L268.44 678.53 L269.51 677.28 L270.58 676.05 L271.65 674.82 L272.72 673.59 L273.79 672.37 L274.86 671.16 L275.93 669.95 L276.99 668.74 L278.06 667.54 L279.13 666.34 L280.2 665.14 L281.27 663.95 L282.34 662.76 L283.41 661.57 L284.48 660.38 L285.55 659.19 L286.62 658 L287.69 656.81 L288.75 655.62 L289.82 654.43 L290.89 653.23 L291.96 652.04 L293.03 650.84 L294.1 649.64 L295.17 648.44 L296.24 647.24 L297.31 646.02 L298.38 644.81 L299.45 643.59 L300.52 642.37 L301.58 641.13 L302.65 639.89 L303.72 638.59 L304.79 637.26 L305.86 635.9 L306.93 634.53 L308 633.15 L309.07 631.76 L310.14 630.39 L311.21 629.05 L312.28 627.73 L313.34 626.46 L314.41 625.24 L315.48 624.07 L316.55 622.99 L317.62 621.98 L318.69 621.06 L319.76 620.19 L320.83 619.35 L321.9 618.53 L322.97 617.75 L324.04 617.02 L325.1 616.36 L326.17 615.76 L327.24 615.26 L328.31 614.84 L329.38 614.47 L330.45 614.1 L331.52 613.79 L332.59 613.56 L333.66 613.45 L334.73 613.62 L335.8 614.29 L336.86 615.23 L337.93 616.2 L339 617.05 L340.07 617.93 L341.14 618.86 L342.21 619.85 L343.28 620.88 L344.35 621.99 L345.42 623.18 L346.49 624.43 L347.56 625.73 L348.62 627.04 L349.69 628.37 L350.76 629.71 L351.83 631.09 L352.9 632.49 L353.97 633.9 L355.04 635.34 L356.11 636.78 L357.18 638.24 L358.25 639.72 L359.32 641.23 L360.38 642.76 L361.45 644.3 L362.52 645.85 L363.59 647.41 L364.66 648.96 L365.73 650.5 L366.8 652.03 L367.87 653.53 L368.94 655.01 L370.01 656.47 L371.08 657.91 L372.14 659.35 L373.21 660.79 L374.28 662.22 L375.35 663.64 L376.42 665.06 L377.49 666.47 L378.56 667.88 L379.63 669.28 L380.7 670.68 L381.77 672.07 L382.84 673.46 L383.9 674.84 L384.97 676.22 L386.04 677.6 L387.11 678.97 L388.18 680.34 L389.25 681.7 L390.32 683.06 L391.39 684.41 L392.46 685.76 L393.53 687.11 L394.6 688.46 L395.66 689.8 L396.73 691.13 L397.8 692.47 L398.87 693.8 L399.94 695.13 L401.01 696.45 L402.08 697.78 L403.15 699.1 L404.22 700.41 L405.29 701.73 L406.36 703.04 L407.42 704.35 L408.49 705.66 L409.56 706.97 L410.63 708.27 L411.7 709.57 L412.77 710.87 L413.84 712.16 L414.91 713.44 L415.98 714.71 L417.05 715.98 L418.12 717.25 L419.18 718.51 L420.25 719.76 L421.32 721.01 L422.39 722.26 L423.46 723.5 L424.53 724.74 L425.6 725.98 L426.67 727.22 L427.74 728.45 L428.81 729.69 L429.88 730.92 L430.94 732.15 L432.01 733.38 L433.08 734.61 L434.15 735.84 L435.22 737.07 L436.29 738.31 L437.36 739.54 L438.43 740.78 L439.5 742.02 L440.57 743.26 L441.64 744.5 L442.7 745.75 L443.77 747 L444.84 748.26 L445.91 749.52 L446.98 750.78 L448.05 752.06 L449.12 753.33 L450.19 754.61 L451.26 755.9 L452.33 757.18 L453.4 758.47 L454.47 759.75" fill="none" stroke="#000" stroke-width="1.7" stroke-dasharray="1.6 1.7" stroke-dashoffset="1.65"/>
<path d="M134.81 840.51 L135.87 839.26 L136.94 838.02 L138.01 836.77 L139.08 835.51 L140.15 834.26 L141.22 833.01 L142.29 831.75 L143.36 830.49 L144.43 829.23 L145.5 827.97 L146.57 826.7 L147.63 825.44 L148.7 824.17 L149.77 822.9 L150.84 821.63 L151.91 820.35 L152.98 819.08 L154.05 817.8 L155.12 816.52 L156.19 815.24 L157.26 813.95 L158.33 812.66 L159.39 811.37 L160.46 810.08 L161.53 808.78 L162.6 807.48 L163.67 806.18 L164.74 804.87 L165.81 803.57 L166.88 802.26 L167.95 800.95 L169.02 799.64 L170.09 798.32 L171.15 797.01 L172.22 795.69 L173.29 794.38 L174.36 793.06 L175.43 791.74 L176.5 790.42 L177.57 789.11 L178.64 787.79 L179.71 786.47 L180.78 785.15 L181.85 783.83 L182.91 782.51 L183.98 781.19 L185.05 779.87 L186.12 778.55 L187.19 777.24 L188.26 775.92 L189.33 774.61 L190.4 773.3 L191.47 771.98 L192.54 770.67 L193.61 769.37 L194.67 768.06 L195.74 766.75 L196.81 765.45 L197.88 764.14 L198.95 762.84 L200.02 761.53 L201.09 760.23 L202.16 758.92 L203.23 757.62 L204.3 756.32 L205.37 755.01 L206.43 753.71 L207.5 752.41 L208.57 751.1 L209.64 749.8 L210.71 748.5 L211.78 747.2 L212.85 745.89 L213.92 744.59 L214.99 743.29 L216.06 741.98 L217.13 740.68 L218.19 739.37 L219.26 738.07 L220.33 736.76 L221.4 735.45 L222.47 734.15 L223.54 732.84 L224.61 731.53 L225.68 730.22 L226.75 728.91 L227.82 727.6 L228.89 726.28 L229.95 724.97 L231.02 723.65 L232.09 722.32 L233.16 720.99 L234.23 719.65 L235.3 718.3 L236.37 716.96 L237.44 715.61 L238.51 714.25 L239.58 712.9 L240.65 711.54 L241.71 710.18 L242.78 708.83 L243.85 707.47 L244.92 706.11 L245.99 704.76 L247.06 703.4 L248.13 702.05 L249.2 700.71 L250.27 699.37 L251.34 698.03 L252.41 696.69 L253.47 695.37 L254.54 694.05 L255.61 692.73 L256.68 691.43 L257.75 690.13 L258.82 688.84 L259.89 687.56 L260.96 686.29 L262.03 685.03 L263.1 683.78 L264.17 682.55 L265.23 681.32 L266.3 680.11 L267.37 678.91 L268.44 677.72 L269.51 676.53 L270.58 675.35 L271.65 674.18 L272.72 673.01 L273.79 671.86 L274.86 670.71 L275.93 669.56 L276.99 668.42 L278.06 667.29 L279.13 666.16 L280.2 665.04 L281.27 663.92 L282.34 662.81 L283.41 661.7 L284.48 660.59 L285.55 659.49 L286.62 658.39 L287.69 657.29 L288.75 656.2 L289.82 655.11 L290.89 654.02 L291.96 652.93 L293.03 651.85 L294.1 650.76 L295.17 649.68 L296.24 648.6 L297.31 647.51 L298.38 646.43 L299.45 645.35 L300.52 644.27 L301.58 643.18 L302.65 642.08 L303.72 640.92 L304.79 639.72 L305.86 638.49 L306.93 637.24 L308 635.98 L309.07 634.74 L310.14 633.52 L311.21 632.34 L312.28 631.2 L313.34 630.14 L314.41 629.15 L315.48 628.25 L316.55 627.46 L317.62 626.79 L318.69 626.26 L319.76 625.8 L320.83 625.36 L321.9 624.95 L322.97 624.58 L324.04 624.24 L325.1 623.95 L326.17 623.71 L327.24 623.53 L328.31 623.4 L329.38 623.3 L330.45 623.22 L331.52 623.16 L332.59 623.13 L333.66 623.22 L334.73 623.72 L335.8 624.49 L336.86 625.38 L337.93 626.23 L339 626.94 L340.07 627.64 L341.14 628.36 L342.21 629.11 L343.28 629.93 L344.35 630.82 L345.42 631.81 L346.49 632.85 L347.56 633.95 L348.62 635.08 L349.69 636.21 L350.76 637.34 L351.83 638.44 L352.9 639.51 L353.97 640.58 L355.04 641.65 L356.11 642.72 L357.18 643.79 L358.25 644.86 L359.32 645.92 L360.38 646.99 L361.45 648.06 L362.52 649.12 L363.59 650.17 L364.66 651.21 L365.73 652.26 L366.8 653.32 L367.87 654.4 L368.94 655.52 L370.01 656.68 L371.08 657.86 L372.14 659.05 L373.21 660.27 L374.28 661.5 L375.35 662.75 L376.42 664.01 L377.49 665.29 L378.56 666.57 L379.63 667.88 L380.7 669.19 L381.77 670.51 L382.84 671.85 L383.9 673.19 L384.97 674.54 L386.04 675.9 L387.11 677.27 L388.18 678.64 L389.25 680.01 L390.32 681.39 L391.39 682.78 L392.46 684.16 L393.53 685.55 L394.6 686.93 L395.66 688.32 L396.73 689.71 L397.8 691.09 L398.87 692.47 L399.94 693.85 L401.01 695.22 L402.08 696.59 L403.15 697.95 L404.22 699.3 L405.29 700.65 L406.36 701.98 L407.42 703.31 L408.49 704.63 L409.56 705.93 L410.63 707.23 L411.7 708.51 L412.77 709.79 L413.84 711.06 L414.91 712.33 L415.98 713.6 L417.05 714.86 L418.12 716.12 L419.18 717.38 L420.25 718.63 L421.32 719.88 L422.39 721.13 L423.46 722.37 L424.53 723.62 L425.6 724.86 L426.67 726.1 L427.74 727.33 L428.81 728.57 L429.88 729.81 L430.94 731.04 L432.01 732.27 L433.08 733.51 L434.15 734.74 L435.22 735.97 L436.29 737.2 L437.36 738.43 L438.43 739.67 L439.5 740.9 L440.57 742.13 L441.64 743.37 L442.7 744.6 L443.77 745.84 L444.84 747.08 L445.91 748.32 L446.98 749.56 L448.05 750.8 L449.12 752.05 L450.19 753.29 L451.26 754.53 L452.33 755.77 L453.4 757.01 L454.47 758.25" fill="none" stroke="#000" stroke-width="1.7" stroke-dasharray="1.6 1.7" stroke-dashoffset="0"/>
<path d="M134.81 842.01 L135.87 840.76 L136.94 839.51 L138.01 838.26 L139.08 837.01 L140.15 835.75 L141.22 834.5 L142.29 833.24 L143.36 831.98 L144.43 830.72 L145.5 829.46 L146.57 828.19 L147.63 826.93 L148.7 825.66 L149.77 824.39 L150.84 823.12 L151.91 821.85 L152.98 820.57 L154.05 819.29 L155.12 818.02 L156.19 816.73 L157.26 815.45 L158.33 814.17 L159.39 812.88 L160.46 811.59 L161.53 810.29 L162.6 809 L163.67 807.7 L164.74 806.4 L165.81 805.1 L166.88 803.8 L167.95 802.49 L169.02 801.19 L170.09 799.88 L171.15 798.57 L172.22 797.26 L173.29 795.95 L174.36 794.64 L175.43 793.33 L176.5 792.02 L177.57 790.7 L178.64 789.39 L179.71 788.08 L180.78 786.77 L181.85 785.45 L182.91 784.14 L183.98 782.83 L185.05 781.51 L186.12 780.2 L187.19 778.89 L188.26 777.58 L189.33 776.27 L190.4 774.96 L191.47 773.66 L192.54 772.35 L193.61 771.05 L194.67 769.74 L195.74 768.44 L196.81 767.14 L197.88 765.84 L198.95 764.53 L200.02 763.23 L201.09 761.93 L202.16 760.63 L203.23 759.33 L204.3 758.02 L205.37 756.72 L206.43 755.42 L207.5 754.12 L208.57 752.82 L209.64 751.52 L210.71 750.22 L211.78 748.92 L212.85 747.61 L213.92 746.31 L214.99 745.01 L216.06 743.71 L217.13 742.41 L218.19 741.1 L219.26 739.8 L220.33 738.5 L221.4 737.19 L222.47 735.89 L223.54 734.58 L224.61 733.28 L225.68 731.97 L226.75 730.67 L227.82 729.36 L228.89 728.05 L229.95 726.74 L231.02 725.42 L232.09 724.09 L233.16 722.75 L234.23 721.41 L235.3 720.06 L236.37 718.7 L237.44 717.33 L238.51 715.97 L239.58 714.6 L240.65 713.23 L241.71 711.85 L242.78 710.48 L243.85 709.11 L244.92 707.74 L245.99 706.37 L247.06 705.01 L248.13 703.65 L249.2 702.3 L250.27 700.95 L251.34 699.62 L252.41 698.29 L253.47 696.97 L254.54 695.66 L255.61 694.36 L256.68 693.07 L257.75 691.8 L258.82 690.54 L259.89 689.3 L260.96 688.07 L262.03 686.86 L263.1 685.67 L264.17 684.49 L265.23 683.34 L266.3 682.2 L267.37 681.07 L268.44 679.95 L269.51 678.83 L270.58 677.71 L271.65 676.6 L272.72 675.5 L273.79 674.41 L274.86 673.32 L275.93 672.24 L276.99 671.17 L278.06 670.1 L279.13 669.05 L280.2 668 L281.27 666.96 L282.34 665.93 L283.41 664.9 L284.48 663.89 L285.55 662.89 L286.62 661.89 L287.69 660.91 L288.75 659.94 L289.82 658.98 L290.89 658.03 L291.96 657.09 L293.03 656.16 L294.1 655.24 L295.17 654.34 L296.24 653.45 L297.31 652.57 L298.38 651.7 L299.45 650.85 L300.52 650.01 L301.58 649.18 L302.65 648.36 L303.72 647.52 L304.79 646.66 L305.86 645.79 L306.93 644.93 L308 644.07 L309.07 643.23 L310.14 642.42 L311.21 641.64 L312.28 640.9 L313.34 640.21 L314.41 639.58 L315.48 639.01 L316.55 638.52 L317.62 638.11 L318.69 637.79 L319.76 637.52 L320.83 637.26 L321.9 637.01 L322.97 636.78 L324.04 636.57 L325.1 636.41 L326.17 636.28 L327.24 636.2 L328.31 636.18 L329.38 636.23 L330.45 636.36 L331.52 636.55 L332.59 636.76 L333.66 637.03 L334.73 637.46 L335.8 638.01 L336.86 638.62 L337.93 639.25 L339 639.88 L340.07 640.57 L341.14 641.29 L342.21 642.06 L343.28 642.85 L344.35 643.66 L345.42 644.48 L346.49 645.3 L347.56 646.11 L348.62 646.95 L349.69 647.82 L350.76 648.7 L351.83 649.6 L352.9 650.49 L353.97 651.37 L355.04 652.21 L356.11 653.02 L357.18 653.78 L358.25 654.49 L359.32 655.15 L360.38 655.78 L361.45 656.39 L362.52 656.98 L363.59 657.58 L364.66 658.19 L365.73 658.82 L366.8 659.48 L367.87 660.19 L368.94 660.95 L370.01 661.77 L371.08 662.64 L372.14 663.54 L373.21 664.49 L374.28 665.47 L375.35 666.49 L376.42 667.54 L377.49 668.63 L378.56 669.75 L379.63 670.89 L380.7 672.06 L381.77 673.26 L382.84 674.49 L383.9 675.73 L384.97 677 L386.04 678.28 L387.11 679.58 L388.18 680.9 L389.25 682.23 L390.32 683.58 L391.39 684.93 L392.46 686.29 L393.53 687.66 L394.6 689.04 L395.66 690.42 L396.73 691.8 L397.8 693.18 L398.87 694.56 L399.94 695.94 L401.01 697.31 L402.08 698.68 L403.15 700.04 L404.22 701.39 L405.29 702.73 L406.36 704.05 L407.42 705.36 L408.49 706.65 L409.56 707.93 L410.63 709.18 L411.7 710.43 L412.77 711.67 L413.84 712.91 L414.91 714.15 L415.98 715.4 L417.05 716.64 L418.12 717.89 L419.18 719.13 L420.25 720.38 L421.32 721.63 L422.39 722.88 L423.46 724.12 L424.53 725.37 L425.6 726.62 L426.67 727.86 L427.74 729.11 L428.81 730.36 L429.88 731.6 L430.94 732.84 L432.01 734.09 L433.08 735.33 L434.15 736.57 L435.22 737.81 L436.29 739.05 L437.36 740.29 L438.43 741.52 L439.5 742.76 L440.57 743.99 L441.64 745.22 L442.7 746.45 L443.77 747.67 L444.84 748.89 L445.91 750.12 L446.98 751.33 L448.05 752.55 L449.12 753.76 L450.19 754.96 L451.26 756.16 L452.33 757.36 L453.4 758.56 L454.47 759.75" fill="none" stroke="#000" stroke-width="1.7" stroke-dasharray="1.6 1.7" stroke-dashoffset="1.65"/>
<path d="M195.21 960.71 L196.84 958.7 L198.47 956.69 L200.11 954.68 L201.74 952.67 L203.37 950.66 L205 948.64 L206.63 946.63 L208.26 944.62 L209.89 942.62 L211.53 940.61 L213.16 938.6 L214.79 936.59 L216.42 934.58 L218.05 932.57 L219.68 930.57 L221.31 928.56 L222.94 926.55 L224.58 924.55 L226.21 922.54 L227.84 920.54 L229.47 918.54 L231.1 916.53 L232.73 914.53 L234.36 912.53 L236 910.53 L237.63 908.53 L239.26 906.53 L240.89 904.53 L242.52 902.54 L244.15 900.54 L245.78 898.55 L247.42 896.55 L249.05 894.56 L250.68 892.57 L252.31 890.58 L253.94 888.59 L255.57 886.6 L257.2 884.62 L258.83 882.63 L260.47 880.65 L262.1 878.67 L263.73 876.69 L265.36 874.72 L266.99 872.74 L268.62 870.77 L270.25 868.8 L271.89 866.83 L273.52 864.87 L275.15 862.91 L276.78 860.95 L278.41 858.99 L280.04 857.04 L281.67 855.09 L283.3 853.14 L284.94 851.2 L286.57 849.26 L288.2 847.33 L289.83 845.4 L291.46 843.47 L293.09 841.55 L294.72 839.63 L296.36 837.72 L297.99 835.82 L299.62 833.92 L301.25 832.02 L302.88 830.13 L304.51 828.25 L306.14 826.38 L307.77 824.51 L309.41 822.65 L311.04 820.8 L312.67 818.96 L314.3 817.13 L315.93 815.3 L317.56 813.48 L319.19 811.68 L320.83 809.89 L322.46 808.1 L324.09 806.33 L325.72 804.57 L327.35 802.82 L328.98 801.09 L330.61 799.37 L332.25 797.66 L333.88 795.97 L335.51 794.3 L337.14 792.64 L338.77 791 L340.4 789.38 L342.03 787.78 L343.66 786.19 L345.3 784.63 L346.93 783.09 L348.56 781.57 L350.19 780.07 L351.82 778.6 L353.45 777.15 L355.08 775.72 L356.72 774.33 L358.35 772.96 L359.98 771.62 L361.61 770.31 L363.24 769.03 L364.87 767.78 L366.5 766.56 L368.13 765.38 L369.77 764.23 L371.4 763.12 L373.03 762.05 L374.66 761.01 L376.29 760.01 L377.92 759.05 L379.55 758.14 L381.19 757.26 L382.82 756.43 L384.45 755.64 L386.08 754.89 L387.71 754.19 L389.34 753.54 L390.97 752.94 L392.6 752.38 L394.24 751.87 L395.87 751.41 L397.5 751 L399.13 750.64 L400.76 750.33 L402.39 750.07 L404.02 749.86 L405.66 749.7 L407.29 749.6 L408.92 749.55 L410.55 749.55 L412.18 749.6 L413.81 749.71 L415.44 749.86 L417.08 750.07 L418.71 750.33 L420.34 750.64 L421.97 751 L423.6 751.41 L425.23 751.87 L426.86 752.39 L428.49 752.94 L430.13 753.55 L431.76 754.2 L433.39 754.9 L435.02 755.65 L436.65 756.44 L438.28 757.27 L439.91 758.15 L441.55 759.07 L443.18 760.03 L444.81 761.02 L446.44 762.06 L448.07 763.14 L449.7 764.25 L451.33 765.4 L452.96 766.58 L454.6 767.8 L456.23 769.05 L457.86 770.33 L459.49 771.64 L461.12 772.98 L462.75 774.35 L464.38 775.74 L466.02 777.17 L467.65 778.62 L469.28 780.09 L470.91 781.59 L472.54 783.11 L474.17 784.65 L475.8 786.22 L477.43 787.8 L479.07 789.4 L480.7 791.03 L482.33 792.67 L483.96 794.33 L485.59 796 L487.22 797.69 L488.85 799.4 L490.49 801.12 L492.12 802.85 L493.75 804.6 L495.38 806.36 L497.01 808.13 L498.64 809.91 L500.27 811.71 L501.91 813.51 L503.54 815.33 L505.17 817.15 L506.8 818.99 L508.43 820.83 L510.06 822.68 L511.69 824.54 L513.32 826.41 L514.96 828.28 L516.59 830.16 L518.22 832.05 L519.85 833.95" fill="none" stroke="#000" stroke-width="1.6" stroke-dasharray="9.5 5" stroke-dashoffset="0"/>
<circle cx="156.6" cy="855.27" r="6.35" fill="none" stroke="#000" stroke-width="0.8"/>
<circle cx="192.93" cy="810.64" r="6.35" fill="none" stroke="#000" stroke-width="0.8"/>
<circle cx="229.25" cy="766.19" r="6.35" fill="none" stroke="#000" stroke-width="0.8"/>
<circle cx="265.57" cy="723.09" r="6.35" fill="none" stroke="#000" stroke-width="0.8"/>
<circle cx="301.9" cy="683.93" r="6.35" fill="none" stroke="#000" stroke-width="0.8"/>
<circle cx="338.23" cy="662.02" r="6.35" fill="none" stroke="#000" stroke-width="0.8"/>
<circle cx="374.55" cy="671.81" r="6.35" fill="none" stroke="#000" stroke-width="0.8"/>
<circle cx="410.88" cy="704.86" r="6.35" fill="none" stroke="#000" stroke-width="0.8"/>
<circle cx="447.2" cy="744.1" r="6.35" fill="none" stroke="#000" stroke-width="0.8"/>
<circle cx="483.52" cy="788.37" r="6.35" fill="none" stroke="#000" stroke-width="0.8"/>
<circle cx="156.6" cy="815.49" r="6.35" fill="none" stroke="#000" stroke-width="0.8"/>
<circle cx="192.93" cy="770.59" r="6.35" fill="none" stroke="#000" stroke-width="0.8"/>
<circle cx="229.25" cy="726.14" r="6.35" fill="none" stroke="#000" stroke-width="0.8"/>
<circle cx="265.57" cy="680.7" r="6.35" fill="none" stroke="#000" stroke-width="0.8"/>
<circle cx="301.9" cy="636.79" r="6.35" fill="none" stroke="#000" stroke-width="0.8"/>
<circle cx="338.23" cy="600.51" r="6.35" fill="none" stroke="#000" stroke-width="0.8"/>
<circle cx="374.55" cy="658.7" r="6.35" fill="none" stroke="#000" stroke-width="0.8"/>
<circle cx="410.88" cy="707.37" r="6.35" fill="none" stroke="#000" stroke-width="0.8"/>
<circle cx="447.2" cy="750.02" r="6.35" fill="none" stroke="#000" stroke-width="0.8"/>
<circle cx="229.25" cy="918.81" r="6.35" fill="none" stroke="#000" stroke-width="0.8"/>
<circle cx="265.57" cy="874.46" r="6.35" fill="none" stroke="#000" stroke-width="0.8"/>
<circle cx="301.9" cy="831.27" r="6.35" fill="none" stroke="#000" stroke-width="0.8"/>
<circle cx="338.23" cy="791.55" r="6.35" fill="none" stroke="#000" stroke-width="0.8"/>
<circle cx="374.55" cy="761.08" r="6.35" fill="none" stroke="#000" stroke-width="0.8"/>
<circle cx="410.88" cy="749.56" r="6.35" fill="none" stroke="#000" stroke-width="0.8"/>
<circle cx="447.2" cy="762.56" r="6.35" fill="none" stroke="#000" stroke-width="0.8"/>
<circle cx="483.52" cy="793.88" r="6.35" fill="none" stroke="#000" stroke-width="0.8"/>
<circle cx="519.85" cy="833.95" r="6.35" fill="none" stroke="#000" stroke-width="0.8"/>
<path d="M151.08 858.52 L162.12 858.52 L156.6 848.77 Z" fill="none" stroke="#000" stroke-width="0.8"/>
<path d="M187.41 813.96 L198.45 813.96 L192.93 804.21 Z" fill="none" stroke="#000" stroke-width="0.8"/>
<path d="M223.73 769.57 L234.77 769.57 L229.25 759.82 Z" fill="none" stroke="#000" stroke-width="0.8"/>
<path d="M260.06 726.63 L271.09 726.63 L265.57 716.88 Z" fill="none" stroke="#000" stroke-width="0.8"/>
<path d="M296.38 688.33 L307.42 688.33 L301.9 678.58 Z" fill="none" stroke="#000" stroke-width="0.8"/>
<path d="M332.71 667.29 L343.75 667.29 L338.23 657.54 Z" fill="none" stroke="#000" stroke-width="0.8"/>
<path d="M369.03 676.43 L380.07 676.43 L374.55 666.68 Z" fill="none" stroke="#000" stroke-width="0.8"/>
<path d="M405.36 711.61 L416.39 711.61 L410.88 701.86 Z" fill="none" stroke="#000" stroke-width="0.8"/>
<path d="M441.68 753.43 L452.72 753.43 L447.2 743.68 Z" fill="none" stroke="#000" stroke-width="0.8"/>
<path d="M478 797.71 L489.04 797.71 L483.52 787.95 Z" fill="none" stroke="#000" stroke-width="0.8"/>
<path d="M151.08 818.74 L162.12 818.74 L156.6 808.99 Z" fill="none" stroke="#000" stroke-width="0.8"/>
<path d="M187.41 774.02 L198.45 774.02 L192.93 764.27 Z" fill="none" stroke="#000" stroke-width="0.8"/>
<path d="M223.73 729.57 L234.77 729.57 L229.25 719.82 Z" fill="none" stroke="#000" stroke-width="0.8"/>
<path d="M260.06 684.4 L271.09 684.4 L265.57 674.65 Z" fill="none" stroke="#000" stroke-width="0.8"/>
<path d="M296.38 643.27 L307.42 643.27 L301.9 633.52 Z" fill="none" stroke="#000" stroke-width="0.8"/>
<path d="M332.71 618.93 L343.75 618.93 L338.23 609.18 Z" fill="none" stroke="#000" stroke-width="0.8"/>
<path d="M369.03 666.62 L380.07 666.62 L374.55 656.87 Z" fill="none" stroke="#000" stroke-width="0.8"/>
<path d="M405.36 711.07 L416.39 711.07 L410.88 701.32 Z" fill="none" stroke="#000" stroke-width="0.8"/>
<path d="M441.68 753.55 L452.72 753.55 L447.2 743.79 Z" fill="none" stroke="#000" stroke-width="0.8"/>
<path d="M223.73 922.06 L234.77 922.06 L229.25 912.31 Z" fill="none" stroke="#000" stroke-width="0.8"/>
<path d="M260.06 877.71 L271.09 877.71 L265.57 867.96 Z" fill="none" stroke="#000" stroke-width="0.8"/>
<path d="M296.38 834.52 L307.42 834.52 L301.9 824.77 Z" fill="none" stroke="#000" stroke-width="0.8"/>
<path d="M332.71 794.8 L343.75 794.8 L338.23 785.05 Z" fill="none" stroke="#000" stroke-width="0.8"/>
<path d="M369.03 764.33 L380.07 764.33 L374.55 754.58 Z" fill="none" stroke="#000" stroke-width="0.8"/>
<path d="M405.36 752.81 L416.39 752.81 L410.88 743.05 Z" fill="none" stroke="#000" stroke-width="0.8"/>
<path d="M441.68 765.81 L452.72 765.81 L447.2 756.06 Z" fill="none" stroke="#000" stroke-width="0.8"/>
<path d="M478 797.13 L489.04 797.13 L483.52 787.38 Z" fill="none" stroke="#000" stroke-width="0.8"/>
<path d="M514.33 837.2 L525.37 837.2 L519.85 827.44 Z" fill="none" stroke="#000" stroke-width="0.8"/>
<path d="M151.08 852.02 L162.12 852.02 L156.6 861.77 Z" fill="none" stroke="#000" stroke-width="0.8"/>
<path d="M187.41 807.54 L198.45 807.54 L192.93 817.29 Z" fill="none" stroke="#000" stroke-width="0.8"/>
<path d="M223.73 763.23 L234.77 763.23 L229.25 772.99 Z" fill="none" stroke="#000" stroke-width="0.8"/>
<path d="M260.06 720.48 L271.09 720.48 L265.57 730.23 Z" fill="none" stroke="#000" stroke-width="0.8"/>
<path d="M296.38 683.2 L307.42 683.2 L301.9 692.95 Z" fill="none" stroke="#000" stroke-width="0.8"/>
<path d="M332.71 663.22 L343.75 663.22 L338.23 672.97 Z" fill="none" stroke="#000" stroke-width="0.8"/>
<path d="M369.03 671.57 L380.07 671.57 L374.55 681.32 Z" fill="none" stroke="#000" stroke-width="0.8"/>
<path d="M405.36 706.86 L416.39 706.86 L410.88 716.61 Z" fill="none" stroke="#000" stroke-width="0.8"/>
<path d="M441.68 747.35 L452.72 747.35 L447.2 757.1 Z" fill="none" stroke="#000" stroke-width="0.8"/>
<path d="M478 791.62 L489.04 791.62 L483.52 801.37 Z" fill="none" stroke="#000" stroke-width="0.8"/>
<path d="M151.08 812.24 L162.12 812.24 L156.6 821.99 Z" fill="none" stroke="#000" stroke-width="0.8"/>
<path d="M187.41 767.7 L198.45 767.7 L192.93 777.45 Z" fill="none" stroke="#000" stroke-width="0.8"/>
<path d="M223.73 723.34 L234.77 723.34 L229.25 733.09 Z" fill="none" stroke="#000" stroke-width="0.8"/>
<path d="M260.06 678.44 L271.09 678.44 L265.57 688.19 Z" fill="none" stroke="#000" stroke-width="0.8"/>
<path d="M296.38 640.36 L307.42 640.36 L301.9 650.11 Z" fill="none" stroke="#000" stroke-width="0.8"/>
<path d="M332.71 623.93 L343.75 623.93 L338.23 633.68 Z" fill="none" stroke="#000" stroke-width="0.8"/>
<path d="M369.03 662.81 L380.07 662.81 L374.55 672.56 Z" fill="none" stroke="#000" stroke-width="0.8"/>
<path d="M405.36 705.02 L416.39 705.02 L410.88 714.77 Z" fill="none" stroke="#000" stroke-width="0.8"/>
<path d="M441.68 747.31 L452.72 747.31 L447.2 757.07 Z" fill="none" stroke="#000" stroke-width="0.8"/>
<path d="M223.73 915.56 L234.77 915.56 L229.25 925.31 Z" fill="none" stroke="#000" stroke-width="0.8"/>
<path d="M260.06 871.21 L271.09 871.21 L265.57 880.96 Z" fill="none" stroke="#000" stroke-width="0.8"/>
<path d="M296.38 828.02 L307.42 828.02 L301.9 837.77 Z" fill="none" stroke="#000" stroke-width="0.8"/>
<path d="M332.71 788.3 L343.75 788.3 L338.23 798.05 Z" fill="none" stroke="#000" stroke-width="0.8"/>
<path d="M369.03 757.83 L380.07 757.83 L374.55 767.58 Z" fill="none" stroke="#000" stroke-width="0.8"/>
<path d="M405.36 746.3 L416.39 746.3 L410.88 756.06 Z" fill="none" stroke="#000" stroke-width="0.8"/>
<path d="M441.68 759.31 L452.72 759.31 L447.2 769.06 Z" fill="none" stroke="#000" stroke-width="0.8"/>
<path d="M478 790.63 L489.04 790.63 L483.52 800.38 Z" fill="none" stroke="#000" stroke-width="0.8"/>
<path d="M514.33 830.69 L525.37 830.69 L519.85 840.45 Z" fill="none" stroke="#000" stroke-width="0.8"/>
<path d="M149.98 855.27 L156.6 848.65 L163.22 855.27 L156.6 861.89 Z" fill="none" stroke="#000" stroke-width="0.8"/>
<path d="M186.3 810.91 L192.93 804.29 L199.55 810.91 L192.93 817.53 Z" fill="none" stroke="#000" stroke-width="0.8"/>
<path d="M222.63 766.73 L229.25 760.1 L235.87 766.73 L229.25 773.35 Z" fill="none" stroke="#000" stroke-width="0.8"/>
<path d="M258.95 724.25 L265.57 717.63 L272.2 724.25 L265.57 730.88 Z" fill="none" stroke="#000" stroke-width="0.8"/>
<path d="M295.28 688.51 L301.9 681.89 L308.52 688.51 L301.9 695.14 Z" fill="none" stroke="#000" stroke-width="0.8"/>
<path d="M331.6 670.1 L338.23 663.48 L344.85 670.1 L338.23 676.73 Z" fill="none" stroke="#000" stroke-width="0.8"/>
<path d="M367.93 677.29 L374.55 670.66 L381.17 677.29 L374.55 683.91 Z" fill="none" stroke="#000" stroke-width="0.8"/>
<path d="M404.25 711.86 L410.88 705.24 L417.5 711.86 L410.88 718.48 Z" fill="none" stroke="#000" stroke-width="0.8"/>
<path d="M440.58 751.01 L447.2 744.39 L453.82 751.01 L447.2 757.64 Z" fill="none" stroke="#000" stroke-width="0.8"/>
<path d="M476.9 795.28 L483.52 788.66 L490.15 795.28 L483.52 801.91 Z" fill="none" stroke="#000" stroke-width="0.8"/>
<path d="M149.98 815.49 L156.6 808.87 L163.22 815.49 L156.6 822.11 Z" fill="none" stroke="#000" stroke-width="0.8"/>
<path d="M186.3 771.13 L192.93 764.5 L199.55 771.13 L192.93 777.75 Z" fill="none" stroke="#000" stroke-width="0.8"/>
<path d="M222.63 726.86 L229.25 720.23 L235.87 726.86 L229.25 733.48 Z" fill="none" stroke="#000" stroke-width="0.8"/>
<path d="M258.95 682.23 L265.57 675.6 L272.2 682.23 L265.57 688.85 Z" fill="none" stroke="#000" stroke-width="0.8"/>
<path d="M295.28 648.19 L301.9 641.57 L308.52 648.19 L301.9 654.82 Z" fill="none" stroke="#000" stroke-width="0.8"/>
<path d="M331.6 638.67 L338.23 632.05 L344.85 638.67 L338.23 645.3 Z" fill="none" stroke="#000" stroke-width="0.8"/>
<path d="M367.93 667.86 L374.55 661.23 L381.17 667.86 L374.55 674.48 Z" fill="none" stroke="#000" stroke-width="0.8"/>
<path d="M404.25 708.72 L410.88 702.09 L417.5 708.72 L410.88 715.34 Z" fill="none" stroke="#000" stroke-width="0.8"/>
<path d="M440.58 750.83 L447.2 744.21 L453.82 750.83 L447.2 757.46 Z" fill="none" stroke="#000" stroke-width="0.8"/>
<path d="M222.63 918.81 L229.25 912.18 L235.87 918.81 L229.25 925.43 Z" fill="none" stroke="#000" stroke-width="0.8"/>
<path d="M258.95 874.46 L265.57 867.83 L272.2 874.46 L265.57 881.08 Z" fill="none" stroke="#000" stroke-width="0.8"/>
<path d="M295.28 831.27 L301.9 824.65 L308.52 831.27 L301.9 837.89 Z" fill="none" stroke="#000" stroke-width="0.8"/>
<path d="M331.6 791.55 L338.23 784.93 L344.85 791.55 L338.23 798.17 Z" fill="none" stroke="#000" stroke-width="0.8"/>
<path d="M367.93 761.08 L374.55 754.45 L381.17 761.08 L374.55 767.7 Z" fill="none" stroke="#000" stroke-width="0.8"/>
<path d="M404.25 749.56 L410.88 742.93 L417.5 749.56 L410.88 756.18 Z" fill="none" stroke="#000" stroke-width="0.8"/>
<path d="M440.58 762.56 L447.2 755.94 L453.82 762.56 L447.2 769.18 Z" fill="none" stroke="#000" stroke-width="0.8"/>
<path d="M476.9 793.88 L483.52 787.26 L490.15 793.88 L483.52 800.51 Z" fill="none" stroke="#000" stroke-width="0.8"/>
<path d="M513.23 833.95 L519.85 827.32 L526.47 833.95 L519.85 840.57 Z" fill="none" stroke="#000" stroke-width="0.8"/>
</g>
</svg></body></html>
